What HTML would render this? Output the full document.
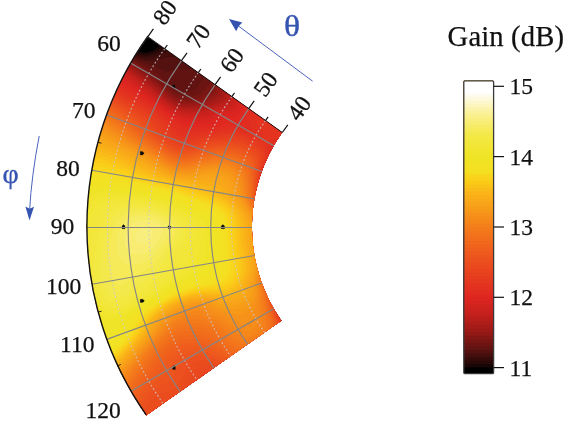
<!DOCTYPE html>
<html><head><meta charset="utf-8"><title>Gain plot</title>
<style>
html,body{margin:0;padding:0;background:#fff;}
svg{display:block;}
text{font-family:"Liberation Serif","DejaVu Serif",serif;fill:#111;}
.n{font-size:23.5px;stroke:#111;stroke-width:0.25px;}
.t{font-size:28.6px;stroke:#111;stroke-width:0.25px;letter-spacing:0.15px;}
.g{font-size:28px;fill:#3553b0;}
.gs{fill:none;stroke:#858585;stroke-width:1.15;}
.gd{fill:none;stroke:#c9c9d2;stroke-width:1.15;stroke-dasharray:1.8 2.2;opacity:.8}
.ax{fill:none;stroke:#111;stroke-width:1.2;}
.ed{fill:none;stroke:#111;stroke-width:0.9;}
.ar{fill:none;stroke:#111;stroke-width:1.4;}
.mk{fill:#0a0a0a;stroke:#0a0a0a;stroke-width:0.2;stroke-linejoin:round;}
.ax2{fill:none;stroke:#111;stroke-width:0.9;}
.bl{fill:none;stroke:#4a64bd;stroke-width:1;}
.heat path{fill-rule:evenodd;}
</style></head><body>
<svg width="566" height="421" viewBox="0 0 566 421">
<rect width="566" height="421" fill="#fff"/>
<defs><clipPath id="sec"><path d="M147.9 36.7A328.1 328.1 0 0 0 146.2 415.4L281.5 320.7A163 163 0 0 1 282.3 132.5Z"/></clipPath><clipPath id="cbc"><rect x="463.8" y="80.8" width="29.8" height="292.8" rx="1.2"/></clipPath></defs>
<g class="heat" clip-path="url(#sec)">
<path fill="#000000" d="M147.9 36.7A328.1 328.1 0 0 0 146.2 415.4L281.5 320.7A163 163 0 0 1 282.3 132.5Z"/>
<path fill="#190606" d="M282.3 132.5L278.1 129.5L273.9 126.6L269.7 123.6L265.5 120.6L261.3 117.6L257.1 114.6L252.9 111.6L248.7 108.6L244.5 105.6L240.3 102.6L236.1 99.6L231.9 96.6L227.7 93.6L223.5 90.6L219.3 87.6L215.1 84.6L210.9 81.6L206.7 78.6L202.5 75.6L198.3 72.6L194.1 69.6L189.9 66.6L185.7 63.6L181.5 60.6L177.3 57.6L173.1 54.6L168.9 51.7L164.7 48.7L160.5 45.7L160.4 45.6L153.1 50.5L150.3 51.4L145.9 52.5L143.4 52.5L138.6 50.4L136.8 53.3L133.8 58.2L130.9 63.2L128 68.1L125.3 73.2L122.7 78.2L120.1 83.4L117.6 88.5L115.3 93.7L113 99L110.8 104.3L108.7 109.6L106.7 115L104.8 120.4L103 125.8L101.2 131.3L99.6 136.8L98.1 142.3L96.6 147.8L95.3 153.4L94.1 159L92.9 164.6L91.9 170.2L90.9 175.9L90.1 181.5L89.3 187.2L88.7 192.9L88.1 198.6L87.7 204.3L87.3 210L87.1 215.7L86.9 221.5L86.9 227.2L86.9 232.9L87.1 238.7L87.3 244.4L87.7 250.1L88.1 255.8L88.7 261.5L89.3 267.2L90.1 272.9L90.9 278.5L91.9 284.2L92.9 289.8L94.1 295.4L95.3 301L96.6 306.6L98.1 312.1L99.6 317.6L101.2 323.1L103 328.6L104.8 334L106.7 339.4L108.7 344.8L110.8 350.1L113 355.4L115.3 360.7L117.6 365.9L120.1 371L122.7 376.2L125.3 381.2L128 386.3L130.9 391.2L133.8 396.2L136.8 401.1L139.8 405.9L143 410.7L146.2 415.4L150.5 412.4L154.7 409.5L158.9 406.5L163.1 403.6L167.4 400.6L171.6 397.6L175.8 394.7L180 391.7L184.3 388.8L188.5 385.8L192.7 382.8L197 379.9L201.2 376.9L205.4 374L209.6 371L213.9 368L218.1 365.1L222.3 362.1L226.5 359.2L230.8 356.2L235 353.2L239.2 350.3L243.4 347.3L247.7 344.4L251.9 341.4L256.1 338.4L260.3 335.5L264.6 332.5L268.8 329.6L273 326.6L277.3 323.7L281.5 320.7L279.9 318.3L278.3 316L276.8 313.6L275.3 311.2L273.8 308.7L272.4 306.2L271.1 303.7L269.8 301.2L268.5 298.7L267.3 296.1L266.1 293.5L265 290.9L263.9 288.3L262.8 285.6L261.8 282.9L260.9 280.3L260 277.6L259.1 274.9L258.3 272.1L257.6 269.4L256.8 266.6L256.2 263.9L255.6 261.1L255 258.3L254.5 255.5L254 252.7L253.6 249.9L253.2 247.1L252.9 244.2L252.6 241.4L252.4 238.6L252.2 235.7L252.1 232.9L252 230L252 227.2L252 224.4L252.1 221.5L252.2 218.7L252.4 215.8L252.6 213L252.9 210.2L253.2 207.3L253.6 204.5L254 201.7L254.5 198.9L255 196.1L255.6 193.3L256.2 190.5L256.8 187.8L257.6 185L258.3 182.3L259.1 179.5L260 176.8L260.9 174.1L261.8 171.5L262.8 168.8L263.9 166.1L265 163.5L266.1 160.9L267.3 158.3L268.5 155.7L269.8 153.2L271.1 150.7L272.4 148.2L273.8 145.7L275.3 143.2L276.8 140.8L278.3 138.4L279.9 136.1Z"/>
<path fill="#280908" d="M282.3 132.5L278.1 129.5L273.9 126.6L269.7 123.6L265.5 120.6L261.3 117.6L257.1 114.6L252.9 111.6L248.7 108.6L244.5 105.6L240.3 102.6L236.1 99.6L231.9 96.6L227.7 93.6L223.5 90.6L219.3 87.6L215.1 84.6L210.9 81.6L206.7 78.6L202.5 75.6L198.3 72.6L194.1 69.6L189.9 66.6L185.7 63.6L181.5 60.6L177.3 57.6L173.1 54.6L168.9 51.7L164.7 48.7L162.6 47.2L157.4 50.2L154.9 51.8L148.7 53.8L148.1 53.9L142.4 54.1L137.1 52.8L136.8 53.3L133.8 58.2L130.9 63.2L128 68.1L125.3 73.2L122.7 78.2L120.1 83.4L117.6 88.5L115.3 93.7L113 99L110.8 104.3L108.7 109.6L106.7 115L104.8 120.4L103 125.8L101.2 131.3L99.6 136.8L98.1 142.3L96.6 147.8L95.3 153.4L94.1 159L92.9 164.6L91.9 170.2L90.9 175.9L90.1 181.5L89.3 187.2L88.7 192.9L88.1 198.6L87.7 204.3L87.3 210L87.1 215.7L86.9 221.5L86.9 227.2L86.9 232.9L87.1 238.7L87.3 244.4L87.7 250.1L88.1 255.8L88.7 261.5L89.3 267.2L90.1 272.9L90.9 278.5L91.9 284.2L92.9 289.8L94.1 295.4L95.3 301L96.6 306.6L98.1 312.1L99.6 317.6L101.2 323.1L103 328.6L104.8 334L106.7 339.4L108.7 344.8L110.8 350.1L113 355.4L115.3 360.7L117.6 365.9L120.1 371L122.7 376.2L125.3 381.2L128 386.3L130.9 391.2L133.8 396.2L136.8 401.1L139.8 405.9L143 410.7L146.2 415.4L150.5 412.4L154.7 409.5L158.9 406.5L163.1 403.6L167.4 400.6L171.6 397.6L175.8 394.7L180 391.7L184.3 388.8L188.5 385.8L192.7 382.8L197 379.9L201.2 376.9L205.4 374L209.6 371L213.9 368L218.1 365.1L222.3 362.1L226.5 359.2L230.8 356.2L235 353.2L239.2 350.3L243.4 347.3L247.7 344.4L251.9 341.4L256.1 338.4L260.3 335.5L264.6 332.5L268.8 329.6L273 326.6L277.3 323.7L281.5 320.7L279.9 318.3L278.3 316L276.8 313.6L275.3 311.2L273.8 308.7L272.4 306.2L271.1 303.7L269.8 301.2L268.5 298.7L267.3 296.1L266.1 293.5L265 290.9L263.9 288.3L262.8 285.6L261.8 282.9L260.9 280.3L260 277.6L259.1 274.9L258.3 272.1L257.6 269.4L256.8 266.6L256.2 263.9L255.6 261.1L255 258.3L254.5 255.5L254 252.7L253.6 249.9L253.2 247.1L252.9 244.2L252.6 241.4L252.4 238.6L252.2 235.7L252.1 232.9L252 230L252 227.2L252 224.4L252.1 221.5L252.2 218.7L252.4 215.8L252.6 213L252.9 210.2L253.2 207.3L253.6 204.5L254 201.7L254.5 198.9L255 196.1L255.6 193.3L256.2 190.5L256.8 187.8L257.6 185L258.3 182.3L259.1 179.5L260 176.8L260.9 174.1L261.8 171.5L262.8 168.8L263.9 166.1L265 163.5L266.1 160.9L267.3 158.3L268.5 155.7L269.8 153.2L271.1 150.7L272.4 148.2L273.8 145.7L275.3 143.2L276.8 140.8L278.3 138.4L279.9 136.1Z"/>
<path fill="#360c0a" d="M282.3 132.5L278.1 129.5L273.9 126.6L269.7 123.6L265.5 120.6L261.3 117.6L257.1 114.6L252.9 111.6L248.7 108.6L244.5 105.6L240.3 102.6L236.1 99.6L231.9 96.6L227.7 93.6L223.5 90.6L219.3 87.6L215.1 84.6L210.9 81.6L206.7 78.6L202.5 75.6L198.3 72.6L194.1 69.6L189.9 66.6L185.7 63.6L181.5 60.6L177.3 57.6L173.1 54.6L168.9 51.7L164.8 48.7L164.6 48.8L157.2 53.3L154.7 54.1L150.6 55.5L147.3 55.9L141.4 55.6L139.8 55.2L136.1 54.3L133.8 58.2L130.9 63.2L128 68.1L125.3 73.2L122.7 78.2L120.1 83.4L117.6 88.5L115.3 93.7L113 99L110.8 104.3L108.7 109.6L106.7 115L104.8 120.4L103 125.8L101.2 131.3L99.6 136.8L98.1 142.3L96.6 147.8L95.3 153.4L94.1 159L92.9 164.6L91.9 170.2L90.9 175.9L90.1 181.5L89.3 187.2L88.7 192.9L88.1 198.6L87.7 204.3L87.3 210L87.1 215.7L86.9 221.5L86.9 227.2L86.9 232.9L87.1 238.7L87.3 244.4L87.7 250.1L88.1 255.8L88.7 261.5L89.3 267.2L90.1 272.9L90.9 278.5L91.9 284.2L92.9 289.8L94.1 295.4L95.3 301L96.6 306.6L98.1 312.1L99.6 317.6L101.2 323.1L103 328.6L104.8 334L106.7 339.4L108.7 344.8L110.8 350.1L113 355.4L115.3 360.7L117.6 365.9L120.1 371L122.7 376.2L125.3 381.2L128 386.3L130.9 391.2L133.8 396.2L136.8 401.1L139.8 405.9L143 410.7L146.2 415.4L150.5 412.4L154.7 409.5L158.9 406.5L163.1 403.6L167.4 400.6L171.6 397.6L175.8 394.7L180 391.7L184.3 388.8L188.5 385.8L192.7 382.8L197 379.9L201.2 376.9L205.4 374L209.6 371L213.9 368L218.1 365.1L222.3 362.1L226.5 359.2L230.8 356.2L235 353.2L239.2 350.3L243.4 347.3L247.7 344.4L251.9 341.4L256.1 338.4L260.3 335.5L264.6 332.5L268.8 329.6L273 326.6L277.3 323.7L281.5 320.7L279.9 318.3L278.3 316L276.8 313.6L275.3 311.2L273.8 308.7L272.4 306.2L271.1 303.7L269.8 301.2L268.5 298.7L267.3 296.1L266.1 293.5L265 290.9L263.9 288.3L262.8 285.6L261.8 282.9L260.9 280.3L260 277.6L259.1 274.9L258.3 272.1L257.6 269.4L256.8 266.6L256.2 263.9L255.6 261.1L255 258.3L254.5 255.5L254 252.7L253.6 249.9L253.2 247.1L252.9 244.2L252.6 241.4L252.4 238.6L252.2 235.7L252.1 232.9L252 230L252 227.2L252 224.4L252.1 221.5L252.2 218.7L252.4 215.8L252.6 213L252.9 210.2L253.2 207.3L253.6 204.5L254 201.7L254.5 198.9L255 196.1L255.6 193.3L256.2 190.5L256.8 187.8L257.6 185L258.3 182.3L259.1 179.5L260 176.8L260.9 174.1L261.8 171.5L262.8 168.8L263.9 166.1L265 163.5L266.1 160.9L267.3 158.3L268.5 155.7L269.8 153.2L271.1 150.7L272.4 148.2L273.8 145.7L275.3 143.2L276.8 140.8L278.3 138.4L279.9 136.1Z"/>
<path fill="#440e0d" d="M282.3 132.5L278.1 129.5L273.9 126.6L269.7 123.6L265.5 120.6L261.3 117.6L257.1 114.6L252.9 111.6L248.7 108.6L244.5 105.6L240.3 102.6L236.1 99.6L231.9 96.6L227.7 93.6L223.5 90.6L219.3 87.6L215.1 84.6L210.9 81.6L206.7 78.6L202.5 75.6L198.3 72.6L194.1 69.6L189.9 66.6L185.7 63.6L181.5 60.6L177.3 57.6L173.1 54.6L168.9 51.7L168.6 51.5L160.7 54.4L159.7 55L153.4 57.3L152.5 57.4L146 58L144 57.9L140.5 57.2L135.3 55.7L133.8 58.2L130.9 63.2L128 68.1L125.3 73.2L122.7 78.2L120.1 83.4L117.6 88.5L115.3 93.7L113 99L110.8 104.3L108.7 109.6L106.7 115L104.8 120.4L103 125.8L101.2 131.3L99.6 136.8L98.1 142.3L96.6 147.8L95.3 153.4L94.1 159L92.9 164.6L91.9 170.2L90.9 175.9L90.1 181.5L89.3 187.2L88.7 192.9L88.1 198.6L87.7 204.3L87.3 210L87.1 215.7L86.9 221.5L86.9 227.2L86.9 232.9L87.1 238.7L87.3 244.4L87.7 250.1L88.1 255.8L88.7 261.5L89.3 267.2L90.1 272.9L90.9 278.5L91.9 284.2L92.9 289.8L94.1 295.4L95.3 301L96.6 306.6L98.1 312.1L99.6 317.6L101.2 323.1L103 328.6L104.8 334L106.7 339.4L108.7 344.8L110.8 350.1L113 355.4L115.3 360.7L117.6 365.9L120.1 371L122.7 376.2L125.3 381.2L128 386.3L130.9 391.2L133.8 396.2L136.8 401.1L139.8 405.9L143 410.7L146.2 415.4L150.5 412.4L154.7 409.5L158.9 406.5L163.1 403.6L167.4 400.6L171.6 397.6L175.8 394.7L180 391.7L184.3 388.8L188.5 385.8L192.7 382.8L197 379.9L201.2 376.9L205.4 374L209.6 371L213.9 368L218.1 365.1L222.3 362.1L226.5 359.2L230.8 356.2L235 353.2L239.2 350.3L243.4 347.3L247.7 344.4L251.9 341.4L256.1 338.4L260.3 335.5L264.6 332.5L268.8 329.6L273 326.6L277.3 323.7L281.5 320.7L279.9 318.3L278.3 316L276.8 313.6L275.3 311.2L273.8 308.7L272.4 306.2L271.1 303.7L269.8 301.2L268.5 298.7L267.3 296.1L266.1 293.5L265 290.9L263.9 288.3L262.8 285.6L261.8 282.9L260.9 280.3L260 277.6L259.1 274.9L258.3 272.1L257.6 269.4L256.8 266.6L256.2 263.9L255.6 261.1L255 258.3L254.5 255.5L254 252.7L253.6 249.9L253.2 247.1L252.9 244.2L252.6 241.4L252.4 238.6L252.2 235.7L252.1 232.9L252 230L252 227.2L252 224.4L252.1 221.5L252.2 218.7L252.4 215.8L252.6 213L252.9 210.2L253.2 207.3L253.6 204.5L254 201.7L254.5 198.9L255 196.1L255.6 193.3L256.2 190.5L256.8 187.8L257.6 185L258.3 182.3L259.1 179.5L260 176.8L260.9 174.1L261.8 171.5L262.8 168.8L263.9 166.1L265 163.5L266.1 160.9L267.3 158.3L268.5 155.7L269.8 153.2L271.1 150.7L272.4 148.2L273.8 145.7L275.3 143.2L276.8 140.8L278.3 138.4L279.9 136.1Z"/>
<path fill="#53110f" d="M282.3 132.5L278.1 129.5L273.9 126.6L269.7 123.6L265.5 120.6L261.3 117.6L257.1 114.6L252.9 111.6L248.7 108.6L244.5 105.6L240.3 102.6L236.1 99.6L231.9 96.6L227.7 93.6L223.5 90.6L219.3 87.6L215.1 84.6L210.9 81.6L206.7 78.6L202.5 75.6L198.3 72.6L194.1 69.6L189.9 66.6L185.7 63.6L181.5 60.6L177.3 57.6L176.2 56.9L171.5 56.9L164.7 57.7L164.1 57.9L157.6 60.1L156.9 60.2L150.2 61L149.1 61L144.6 60.2L139.4 58.8L134.5 57L133.8 58.2L130.9 63.2L128 68.1L125.3 73.2L122.7 78.2L120.1 83.4L117.6 88.5L115.3 93.7L113 99L110.8 104.3L108.7 109.6L106.7 115L104.8 120.4L103 125.8L101.2 131.3L99.6 136.8L98.1 142.3L96.6 147.8L95.3 153.4L94.1 159L92.9 164.6L91.9 170.2L90.9 175.9L90.1 181.5L89.3 187.2L88.7 192.9L88.1 198.6L87.7 204.3L87.3 210L87.1 215.7L86.9 221.5L86.9 227.2L86.9 232.9L87.1 238.7L87.3 244.4L87.7 250.1L88.1 255.8L88.7 261.5L89.3 267.2L90.1 272.9L90.9 278.5L91.9 284.2L92.9 289.8L94.1 295.4L95.3 301L96.6 306.6L98.1 312.1L99.6 317.6L101.2 323.1L103 328.6L104.8 334L106.7 339.4L108.7 344.8L110.8 350.1L113 355.4L115.3 360.7L117.6 365.9L120.1 371L122.7 376.2L125.3 381.2L128 386.3L130.9 391.2L133.8 396.2L136.8 401.1L139.8 405.9L143 410.7L146.2 415.4L150.5 412.4L154.7 409.5L158.9 406.5L163.1 403.6L167.4 400.6L171.6 397.6L175.8 394.7L180 391.7L184.3 388.8L188.5 385.8L192.7 382.8L197 379.9L201.2 376.9L205.4 374L209.6 371L213.9 368L218.1 365.1L222.3 362.1L226.5 359.2L230.8 356.2L235 353.2L239.2 350.3L243.4 347.3L247.7 344.4L251.9 341.4L256.1 338.4L260.3 335.5L264.6 332.5L268.8 329.6L273 326.6L277.3 323.7L281.5 320.7L279.9 318.3L278.3 316L276.8 313.6L275.3 311.2L273.8 308.7L272.4 306.2L271.1 303.7L269.8 301.2L268.5 298.7L267.3 296.1L266.1 293.5L265 290.9L263.9 288.3L262.8 285.6L261.8 282.9L260.9 280.3L260 277.6L259.1 274.9L258.3 272.1L257.6 269.4L256.8 266.6L256.2 263.9L255.6 261.1L255 258.3L254.5 255.5L254 252.7L253.6 249.9L253.2 247.1L252.9 244.2L252.6 241.4L252.4 238.6L252.2 235.7L252.1 232.9L252 230L252 227.2L252 224.4L252.1 221.5L252.2 218.7L252.4 215.8L252.6 213L252.9 210.2L253.2 207.3L253.6 204.5L254 201.7L254.5 198.9L255 196.1L255.6 193.3L256.2 190.5L256.8 187.8L257.6 185L258.3 182.3L259.1 179.5L260 176.8L260.9 174.1L261.8 171.5L262.8 168.8L263.9 166.1L265 163.5L266.1 160.9L267.3 158.3L268.5 155.7L269.8 153.2L271.1 150.7L272.4 148.2L273.8 145.7L275.3 143.2L276.8 140.8L278.3 138.4L279.9 136.1Z"/>
<path fill="#601311" d="M282.3 132.5L278.1 129.5L273.9 126.6L269.7 123.6L265.5 120.6L261.3 117.6L257.1 114.6L252.9 111.6L248.7 108.6L244.5 105.6L240.3 102.6L236.1 99.6L231.9 96.6L227.7 93.6L223.5 90.6L219.3 87.6L215.1 84.6L210.9 81.6L206.7 78.6L202.5 75.6L198.3 72.6L194.1 69.6L191.9 68L188 69.4L182 69L179.3 68.2L175.4 69.5L172.9 70L167.9 71.6L165.8 71.5L162.9 69.9L158.2 67.7L153.3 65.9L148.3 64.2L143.3 62.4L138.4 60.5L134.9 58.9L133.7 58.3L130.9 63.2L128 68.1L125.3 73.2L122.7 78.2L120.1 83.4L117.6 88.5L115.3 93.7L113 99L110.8 104.3L108.7 109.6L106.7 115L104.8 120.4L103 125.8L101.2 131.3L99.6 136.8L98.1 142.3L96.6 147.8L95.3 153.4L94.1 159L92.9 164.6L91.9 170.2L90.9 175.9L90.1 181.5L89.3 187.2L88.7 192.9L88.1 198.6L87.7 204.3L87.3 210L87.1 215.7L86.9 221.5L86.9 227.2L86.9 232.9L87.1 238.7L87.3 244.4L87.7 250.1L88.1 255.8L88.7 261.5L89.3 267.2L90.1 272.9L90.9 278.5L91.9 284.2L92.9 289.8L94.1 295.4L95.3 301L96.6 306.6L98.1 312.1L99.6 317.6L101.2 323.1L103 328.6L104.8 334L106.7 339.4L108.7 344.8L110.8 350.1L113 355.4L115.3 360.7L117.6 365.9L120.1 371L122.7 376.2L125.3 381.2L128 386.3L130.9 391.2L133.8 396.2L136.8 401.1L139.8 405.9L143 410.7L146.2 415.4L150.5 412.4L154.7 409.5L158.9 406.5L163.1 403.6L167.4 400.6L171.6 397.6L175.8 394.7L180 391.7L184.3 388.8L188.5 385.8L192.7 382.8L197 379.9L201.2 376.9L205.4 374L209.6 371L213.9 368L218.1 365.1L222.3 362.1L226.5 359.2L230.8 356.2L235 353.2L239.2 350.3L243.4 347.3L247.7 344.4L251.9 341.4L256.1 338.4L260.3 335.5L264.6 332.5L268.8 329.6L273 326.6L277.3 323.7L281.5 320.7L279.9 318.3L278.3 316L276.8 313.6L275.3 311.2L273.8 308.7L272.4 306.2L271.1 303.7L269.8 301.2L268.5 298.7L267.3 296.1L266.1 293.5L265 290.9L263.9 288.3L262.8 285.6L261.8 282.9L260.9 280.3L260 277.6L259.1 274.9L258.3 272.1L257.6 269.4L256.8 266.6L256.2 263.9L255.6 261.1L255 258.3L254.5 255.5L254 252.7L253.6 249.9L253.2 247.1L252.9 244.2L252.6 241.4L252.4 238.6L252.2 235.7L252.1 232.9L252 230L252 227.2L252 224.4L252.1 221.5L252.2 218.7L252.4 215.8L252.6 213L252.9 210.2L253.2 207.3L253.6 204.5L254 201.7L254.5 198.9L255 196.1L255.6 193.3L256.2 190.5L256.8 187.8L257.6 185L258.3 182.3L259.1 179.5L260 176.8L260.9 174.1L261.8 171.5L262.8 168.8L263.9 166.1L265 163.5L266.1 160.9L267.3 158.3L268.5 155.7L269.8 153.2L271.1 150.7L272.4 148.2L273.8 145.7L275.3 143.2L276.8 140.8L278.3 138.4L279.9 136.1Z"/>
<path fill="#6c1412" d="M282.3 132.5L278.1 129.5L273.9 126.6L269.7 123.6L265.5 120.6L261.3 117.6L257.1 114.6L252.9 111.6L248.7 108.6L244.5 105.6L240.3 102.6L236.1 99.6L231.9 96.6L227.7 93.6L223.5 90.6L219.3 87.6L215.1 84.6L210.9 81.6L206.7 78.6L204.8 77.3L200.5 82.5L198.1 86.3L194.8 89.6L192.5 90.7L189.5 91.7L185.8 91.8L180.4 90.9L175.7 88.7L171.5 85.6L167.6 82.2L163.5 78.8L159.5 75.6L155.3 72.5L151 69.6L146.6 66.9L142.1 64.4L137.5 62L132.9 59.7L130.9 63.2L128 68.1L125.3 73.2L122.7 78.2L120.1 83.4L117.6 88.5L115.3 93.7L113 99L110.8 104.3L108.7 109.6L106.7 115L104.8 120.4L103 125.8L101.2 131.3L99.6 136.8L98.1 142.3L96.6 147.8L95.3 153.4L94.1 159L92.9 164.6L91.9 170.2L90.9 175.9L90.1 181.5L89.3 187.2L88.7 192.9L88.1 198.6L87.7 204.3L87.3 210L87.1 215.7L86.9 221.5L86.9 227.2L86.9 232.9L87.1 238.7L87.3 244.4L87.7 250.1L88.1 255.8L88.7 261.5L89.3 267.2L90.1 272.9L90.9 278.5L91.9 284.2L92.9 289.8L94.1 295.4L95.3 301L96.6 306.6L98.1 312.1L99.6 317.6L101.2 323.1L103 328.6L104.8 334L106.7 339.4L108.7 344.8L110.8 350.1L113 355.4L115.3 360.7L117.6 365.9L120.1 371L122.7 376.2L125.3 381.2L128 386.3L130.9 391.2L133.8 396.2L136.8 401.1L139.8 405.9L143 410.7L146.2 415.4L150.5 412.4L154.7 409.5L158.9 406.5L163.1 403.6L167.4 400.6L171.6 397.6L175.8 394.7L180 391.7L184.3 388.8L188.5 385.8L192.7 382.8L197 379.9L201.2 376.9L205.4 374L209.6 371L213.9 368L218.1 365.1L222.3 362.1L226.5 359.2L230.8 356.2L235 353.2L239.2 350.3L243.4 347.3L247.7 344.4L251.9 341.4L256.1 338.4L260.3 335.5L264.6 332.5L268.8 329.6L273 326.6L277.3 323.7L281.5 320.7L279.9 318.3L278.3 316L276.8 313.6L275.3 311.2L273.8 308.7L272.4 306.2L271.1 303.7L269.8 301.2L268.5 298.7L267.3 296.1L266.1 293.5L265 290.9L263.9 288.3L262.8 285.6L261.8 282.9L260.9 280.3L260 277.6L259.1 274.9L258.3 272.1L257.6 269.4L256.8 266.6L256.2 263.9L255.6 261.1L255 258.3L254.5 255.5L254 252.7L253.6 249.9L253.2 247.1L252.9 244.2L252.6 241.4L252.4 238.6L252.2 235.7L252.1 232.9L252 230L252 227.2L252 224.4L252.1 221.5L252.2 218.7L252.4 215.8L252.6 213L252.9 210.2L253.2 207.3L253.6 204.5L254 201.7L254.5 198.9L255 196.1L255.6 193.3L256.2 190.5L256.8 187.8L257.6 185L258.3 182.3L259.1 179.5L260 176.8L260.9 174.1L261.8 171.5L262.8 168.8L263.9 166.1L265 163.5L266.1 160.9L267.3 158.3L268.5 155.7L269.8 153.2L271.1 150.7L272.4 148.2L273.8 145.7L275.3 143.2L276.8 140.8L278.3 138.4L279.9 136.1Z"/>
<path fill="#781613" d="M282.3 132.5L278.1 129.5L273.9 126.6L269.7 123.6L265.5 120.6L261.3 117.6L257.1 114.6L252.9 111.6L248.7 108.6L244.5 105.6L240.3 102.6L236.1 99.6L231.9 96.6L227.7 93.6L223.5 90.6L219.3 87.6L215.1 84.6L211.1 81.8L207.2 87L207.1 87L204.2 90.3L200.6 93.2L195.9 95.5L195.6 95.6L189 96.6L188.9 96.6L183.4 96L178.4 94.3L174 91.6L169.9 88.3L165.9 85L161.8 81.8L157.6 78.7L157.3 78.4L153.7 75.3L149.6 72L145.4 69L141 66.2L136.6 63.6L132.1 61L130.9 63.2L128 68.1L125.3 73.2L122.7 78.2L120.1 83.4L117.6 88.5L115.3 93.7L113 99L110.8 104.3L108.7 109.6L106.7 115L104.8 120.4L103 125.8L101.2 131.3L99.6 136.8L98.1 142.3L96.6 147.8L95.3 153.4L94.1 159L92.9 164.6L91.9 170.2L90.9 175.9L90.1 181.5L89.3 187.2L88.7 192.9L88.1 198.6L87.7 204.3L87.3 210L87.1 215.7L86.9 221.5L86.9 227.2L86.9 232.9L87.1 238.7L87.3 244.4L87.7 250.1L88.1 255.8L88.7 261.5L89.3 267.2L90.1 272.9L90.9 278.5L91.9 284.2L92.9 289.8L94.1 295.4L95.3 301L96.6 306.6L98.1 312.1L99.6 317.6L101.2 323.1L103 328.6L104.8 334L106.7 339.4L108.7 344.8L110.8 350.1L113 355.4L115.3 360.7L117.6 365.9L120.1 371L122.7 376.2L125.3 381.2L128 386.3L130.9 391.2L133.8 396.2L136.8 401.1L139.8 405.9L143 410.7L146.2 415.4L150.5 412.4L154.7 409.5L158.9 406.5L163.1 403.6L167.4 400.6L171.6 397.6L175.8 394.7L180 391.7L184.3 388.8L188.5 385.8L192.7 382.8L197 379.9L201.2 376.9L205.4 374L209.6 371L213.9 368L218.1 365.1L222.3 362.1L226.5 359.2L230.8 356.2L235 353.2L239.2 350.3L243.4 347.3L247.7 344.4L251.9 341.4L256.1 338.4L260.3 335.5L264.6 332.5L268.8 329.6L273 326.6L277.3 323.7L281.5 320.7L279.9 318.3L278.3 316L276.8 313.6L275.3 311.2L273.8 308.7L272.4 306.2L271.1 303.7L269.8 301.2L268.5 298.7L267.3 296.1L266.1 293.5L265 290.9L263.9 288.3L262.8 285.6L261.8 282.9L260.9 280.3L260 277.6L259.1 274.9L258.3 272.1L257.6 269.4L256.8 266.6L256.2 263.9L255.6 261.1L255 258.3L254.5 255.5L254 252.7L253.6 249.9L253.2 247.1L252.9 244.2L252.6 241.4L252.4 238.6L252.2 235.7L252.1 232.9L252 230L252 227.2L252 224.4L252.1 221.5L252.2 218.7L252.4 215.8L252.6 213L252.9 210.2L253.2 207.3L253.6 204.5L254 201.7L254.5 198.9L255 196.1L255.6 193.3L256.2 190.5L256.8 187.8L257.6 185L258.3 182.3L259.1 179.5L260 176.8L260.9 174.1L261.8 171.5L262.8 168.8L263.9 166.1L265 163.5L266.1 160.9L267.3 158.3L268.5 155.7L269.8 153.2L271.1 150.7L272.4 148.2L273.8 145.7L275.3 143.2L276.8 140.8L278.3 138.4L279.9 136.1Z"/>
<path fill="#841714" d="M282.3 132.5L278.1 129.5L273.9 126.6L269.7 123.6L265.5 120.6L261.3 117.6L257.1 114.6L252.9 111.6L248.7 108.6L244.5 105.6L240.3 102.6L236.1 99.6L231.9 96.6L227.7 93.6L223.5 90.6L219.3 87.6L215.1 84.6L211.5 89.9L211.2 90.2L208.3 93L204.4 95.6L200.3 97.7L199.9 97.9L193.5 99.3L193.4 99.3L187.4 99.4L184.1 99.2L181.8 98.8L177 96.8L172.7 94L168.6 90.7L168.3 90.5L164.7 87.1L160.7 83.7L156.7 80.4L152.5 77.2L148.4 74.1L144.2 71.1L142.4 69.8L140 68L135.7 65.2L131.3 62.4L130.9 63.2L128 68.1L125.3 73.2L122.7 78.2L120.1 83.4L117.6 88.5L115.3 93.7L113 99L110.8 104.3L108.7 109.6L106.7 115L104.8 120.4L103 125.8L101.2 131.3L99.6 136.8L98.1 142.3L96.6 147.8L95.3 153.4L94.1 159L92.9 164.6L91.9 170.2L90.9 175.9L90.1 181.5L89.3 187.2L88.7 192.9L88.1 198.6L87.7 204.3L87.3 210L87.1 215.7L86.9 221.5L86.9 227.2L86.9 232.9L87.1 238.7L87.3 244.4L87.7 250.1L88.1 255.8L88.7 261.5L89.3 267.2L90.1 272.9L90.9 278.5L91.9 284.2L92.9 289.8L94.1 295.4L95.3 301L96.6 306.6L98.1 312.1L99.6 317.6L101.2 323.1L103 328.6L104.8 334L106.7 339.4L108.7 344.8L110.8 350.1L113 355.4L115.3 360.7L117.6 365.9L120.1 371L122.7 376.2L125.3 381.2L128 386.3L130.9 391.2L133.8 396.2L136.8 401.1L139.8 405.9L143 410.7L146.2 415.4L150.5 412.4L154.7 409.5L158.9 406.5L163.1 403.6L167.4 400.6L171.6 397.6L175.8 394.7L180 391.7L184.3 388.8L188.5 385.8L192.7 382.8L197 379.9L201.2 376.9L205.4 374L209.6 371L213.9 368L218.1 365.1L222.3 362.1L226.5 359.2L230.8 356.2L235 353.2L239.2 350.3L243.4 347.3L247.7 344.4L251.9 341.4L256.1 338.4L260.3 335.5L264.6 332.5L268.8 329.6L273 326.6L277.3 323.7L281.5 320.7L279.9 318.3L278.3 316L276.8 313.6L275.3 311.2L273.8 308.7L272.4 306.2L271.1 303.7L269.8 301.2L268.5 298.7L267.3 296.1L266.1 293.5L265 290.9L263.9 288.3L262.8 285.6L261.8 282.9L260.9 280.3L260 277.6L259.1 274.9L258.3 272.1L257.6 269.4L256.8 266.6L256.2 263.9L255.6 261.1L255 258.3L254.5 255.5L254 252.7L253.6 249.9L253.2 247.1L252.9 244.2L252.6 241.4L252.4 238.6L252.2 235.7L252.1 232.9L252 230L252 227.2L252 224.4L252.1 221.5L252.2 218.7L252.4 215.8L252.6 213L252.9 210.2L253.2 207.3L253.6 204.5L254 201.7L254.5 198.9L255 196.1L255.6 193.3L256.2 190.5L256.8 187.8L257.6 185L258.3 182.3L259.1 179.5L260 176.8L260.9 174.1L261.8 171.5L262.8 168.8L263.9 166.1L265 163.5L266.1 160.9L267.3 158.3L268.5 155.7L269.8 153.2L271.1 150.7L272.4 148.2L273.8 145.7L275.3 143.2L276.8 140.8L278.3 138.4L279.9 136.1Z"/>
<path fill="#901815" d="M282.3 132.5L278.1 129.5L273.9 126.6L269.7 123.6L265.5 120.6L261.3 117.6L257.1 114.6L252.9 111.6L248.7 108.6L244.5 105.6L240.3 102.6L236.1 99.6L231.9 96.6L227.7 93.6L223.5 90.6L219.3 87.6L218 86.7L214.8 92.2L211.5 95.1L207.5 97.6L206 98.3L202.8 99.7L198.4 101L196.9 101.3L192 101.7L188.8 101.8L186.1 101.7L180.7 100.8L176 98.8L171.7 95.8L167.7 92.4L163.7 88.9L160 85.9L159.7 85.5L155.7 82.1L151.6 78.8L147.5 75.6L143.3 72.5L139.1 69.5L134.9 66.6L130.5 63.7L128 68.1L125.3 73.2L122.7 78.2L120.1 83.4L117.6 88.5L115.3 93.7L113 99L110.8 104.3L108.7 109.6L106.7 115L104.8 120.4L103 125.8L101.2 131.3L99.6 136.8L98.1 142.3L96.6 147.8L95.3 153.4L94.1 159L92.9 164.6L91.9 170.2L90.9 175.9L90.1 181.5L89.3 187.2L88.7 192.9L88.1 198.6L87.7 204.3L87.3 210L87.1 215.7L86.9 221.5L86.9 227.2L86.9 232.9L87.1 238.7L87.3 244.4L87.7 250.1L88.1 255.8L88.7 261.5L89.3 267.2L90.1 272.9L90.9 278.5L91.9 284.2L92.9 289.8L94.1 295.4L95.3 301L96.6 306.6L98.1 312.1L99.6 317.6L101.2 323.1L103 328.6L104.8 334L106.7 339.4L108.7 344.8L110.8 350.1L113 355.4L115.3 360.7L117.6 365.9L120.1 371L122.7 376.2L125.3 381.2L128 386.3L130.9 391.2L133.8 396.2L136.8 401.1L139.8 405.9L143 410.7L146.2 415.4L150.5 412.4L154.7 409.5L158.9 406.5L163.1 403.6L167.4 400.6L171.6 397.6L175.8 394.7L180 391.7L184.3 388.8L188.5 385.8L192.7 382.8L197 379.9L201.2 376.9L205.4 374L209.6 371L213.9 368L218.1 365.1L222.3 362.1L226.5 359.2L230.8 356.2L235 353.2L239.2 350.3L243.4 347.3L247.7 344.4L251.9 341.4L256.1 338.4L260.3 335.5L264.6 332.5L268.8 329.6L273 326.6L277.3 323.7L281.5 320.7L279.9 318.3L278.3 316L276.8 313.6L275.3 311.2L273.8 308.7L272.4 306.2L271.1 303.7L269.8 301.2L268.5 298.7L267.3 296.1L266.1 293.5L265 290.9L263.9 288.3L262.8 285.6L261.8 282.9L260.9 280.3L260 277.6L259.1 274.9L258.3 272.1L257.6 269.4L256.8 266.6L256.2 263.9L255.6 261.1L255 258.3L254.5 255.5L254 252.7L253.6 249.9L253.2 247.1L252.9 244.2L252.6 241.4L252.4 238.6L252.2 235.7L252.1 232.9L252 230L252 227.2L252 224.4L252.1 221.5L252.2 218.7L252.4 215.8L252.6 213L252.9 210.2L253.2 207.3L253.6 204.5L254 201.7L254.5 198.9L255 196.1L255.6 193.3L256.2 190.5L256.8 187.8L257.6 185L258.3 182.3L259.1 179.5L260 176.8L260.9 174.1L261.8 171.5L262.8 168.8L263.9 166.1L265 163.5L266.1 160.9L267.3 158.3L268.5 155.7L269.8 153.2L271.1 150.7L272.4 148.2L273.8 145.7L275.3 143.2L276.8 140.8L278.3 138.4L279.9 136.1Z"/>
<path fill="#9b1a17" d="M282.3 132.5L278.1 129.5L273.9 126.6L269.7 123.6L265.5 120.6L261.3 117.6L257.1 114.6L252.9 111.6L248.7 108.6L244.5 105.6L240.3 102.6L236.1 99.6L231.9 96.6L227.7 93.6L223.5 90.6L220.6 88.6L217.8 94.2L214.4 96.9L212.3 97.9L210 99.1L205.4 101.2L203.9 101.8L199.7 102.9L197.1 103.3L192.3 103.8L190.9 103.8L185.1 103.7L181.7 103.2L179.7 102.7L175.1 100.5L170.8 97.6L170 96.9L166.8 94L162.9 90.4L158.9 87L154.8 83.7L151.6 81.2L150.7 80.4L146.6 77.2L142.5 74L138.3 70.9L134.1 67.9L129.8 65L128 68.1L125.3 73.2L122.7 78.2L120.1 83.4L117.6 88.5L115.3 93.7L113 99L110.8 104.3L108.7 109.6L106.7 115L104.8 120.4L103 125.8L101.2 131.3L99.6 136.8L98.1 142.3L96.6 147.8L95.3 153.4L94.1 159L92.9 164.6L91.9 170.2L90.9 175.9L90.1 181.5L89.3 187.2L88.7 192.9L88.1 198.6L87.7 204.3L87.3 210L87.1 215.7L86.9 221.5L86.9 227.2L86.9 232.9L87.1 238.7L87.3 244.4L87.7 250.1L88.1 255.8L88.7 261.5L89.3 267.2L90.1 272.9L90.9 278.5L91.9 284.2L92.9 289.8L94.1 295.4L95.3 301L96.6 306.6L98.1 312.1L99.6 317.6L101.2 323.1L103 328.6L104.8 334L106.7 339.4L108.7 344.8L110.8 350.1L113 355.4L115.3 360.7L117.6 365.9L120.1 371L122.7 376.2L125.3 381.2L128 386.3L130.9 391.2L133.8 396.2L136.8 401.1L139.8 405.9L143 410.7L146.2 415.4L150.5 412.4L154.7 409.5L158.9 406.5L163.1 403.6L167.4 400.6L171.6 397.6L175.8 394.7L180 391.7L184.3 388.8L188.5 385.8L192.7 382.8L197 379.9L201.2 376.9L205.4 374L209.6 371L213.9 368L218.1 365.1L222.3 362.1L226.5 359.2L230.8 356.2L235 353.2L239.2 350.3L243.4 347.3L247.7 344.4L251.9 341.4L256.1 338.4L260.3 335.5L264.6 332.5L268.8 329.6L273 326.6L277.3 323.7L281.5 320.7L279.9 318.3L278.3 316L276.8 313.6L275.3 311.2L273.8 308.7L272.4 306.2L271.1 303.7L269.8 301.2L268.5 298.7L267.3 296.1L266.1 293.5L265 290.9L263.9 288.3L262.8 285.6L261.8 282.9L260.9 280.3L260 277.6L259.1 274.9L258.3 272.1L257.6 269.4L256.8 266.6L256.2 263.9L255.6 261.1L255 258.3L254.5 255.5L254 252.7L253.6 249.9L253.2 247.1L252.9 244.2L252.6 241.4L252.4 238.6L252.2 235.7L252.1 232.9L252 230L252 227.2L252 224.4L252.1 221.5L252.2 218.7L252.4 215.8L252.6 213L252.9 210.2L253.2 207.3L253.6 204.5L254 201.7L254.5 198.9L255 196.1L255.6 193.3L256.2 190.5L256.8 187.8L257.6 185L258.3 182.3L259.1 179.5L260 176.8L260.9 174.1L261.8 171.5L262.8 168.8L263.9 166.1L265 163.5L266.1 160.9L267.3 158.3L268.5 155.7L269.8 153.2L271.1 150.7L272.4 148.2L273.8 145.7L275.3 143.2L276.8 140.8L278.3 138.4L279.9 136.1Z"/>
<path fill="#a41b18" d="M282.3 132.5L278.1 129.5L273.9 126.6L269.7 123.6L265.5 120.6L261.3 117.6L257.1 114.6L252.9 111.6L248.7 108.6L244.5 105.6L240.3 102.6L236.1 99.6L231.9 96.6L227.7 93.6L223.5 90.6L223 90.3L221.8 93L220.5 96L219 97.1L217 98.6L212.4 100.6L210.1 101.5L207.6 102.6L202.3 104.4L195.9 105.4L195.3 105.4L189.9 105.6L186.2 105.6L184.1 105.4L179 104.1L174.3 101.9L170.1 98.9L166 95.6L163.9 93.7L162.1 92L158.1 88.4L154.1 85.1L150 81.8L145.8 78.6L142.8 76.3L141.7 75.4L137.5 72.3L133.3 69.2L129.1 66.2L128 68.1L125.3 73.2L122.7 78.2L120.1 83.4L117.6 88.5L115.3 93.7L113 99L110.8 104.3L108.7 109.6L106.7 115L104.8 120.4L103 125.8L101.2 131.3L99.6 136.8L98.1 142.3L96.6 147.8L95.3 153.4L94.1 159L92.9 164.6L91.9 170.2L90.9 175.9L90.1 181.5L89.3 187.2L88.7 192.9L88.1 198.6L87.7 204.3L87.3 210L87.1 215.7L86.9 221.5L86.9 227.2L86.9 232.9L87.1 238.7L87.3 244.4L87.7 250.1L88.1 255.8L88.7 261.5L89.3 267.2L90.1 272.9L90.9 278.5L91.9 284.2L92.9 289.8L94.1 295.4L95.3 301L96.6 306.6L98.1 312.1L99.6 317.6L101.2 323.1L103 328.6L104.8 334L106.7 339.4L108.7 344.8L110.8 350.1L113 355.4L115.3 360.7L117.6 365.9L120.1 371L122.7 376.2L125.3 381.2L128 386.3L130.9 391.2L133.8 396.2L136.8 401.1L139.8 405.9L143 410.7L146.2 415.4L150.5 412.4L154.7 409.5L158.9 406.5L163.1 403.6L167.4 400.6L171.6 397.6L175.8 394.7L180 391.7L184.3 388.8L188.5 385.8L192.7 382.8L197 379.9L201.2 376.9L205.4 374L209.6 371L213.9 368L218.1 365.1L222.3 362.1L226.5 359.2L230.8 356.2L235 353.2L239.2 350.3L243.4 347.3L247.7 344.4L251.9 341.4L256.1 338.4L260.3 335.5L264.6 332.5L268.8 329.6L273 326.6L277.3 323.7L281.5 320.7L279.9 318.3L278.3 316L276.8 313.6L275.3 311.2L273.8 308.7L272.4 306.2L271.1 303.7L269.8 301.2L268.5 298.7L267.3 296.1L266.1 293.5L265 290.9L263.9 288.3L262.8 285.6L261.8 282.9L260.9 280.3L260 277.6L259.1 274.9L258.3 272.1L257.6 269.4L256.8 266.6L256.2 263.9L255.6 261.1L255 258.3L254.5 255.5L254 252.7L253.6 249.9L253.2 247.1L252.9 244.2L252.6 241.4L252.4 238.6L252.2 235.7L252.1 232.9L252 230L252 227.2L252 224.4L252.1 221.5L252.2 218.7L252.4 215.8L252.6 213L252.9 210.2L253.2 207.3L253.6 204.5L254 201.7L254.5 198.9L255 196.1L255.6 193.3L256.2 190.5L256.8 187.8L257.6 185L258.3 182.3L259.1 179.5L260 176.8L260.9 174.1L261.8 171.5L262.8 168.8L263.9 166.1L265 163.5L266.1 160.9L267.3 158.3L268.5 155.7L269.8 153.2L271.1 150.7L272.4 148.2L273.8 145.7L275.3 143.2L276.8 140.8L278.3 138.4L279.9 136.1Z"/>
<path fill="#ac1c19" d="M282.3 132.5L278.1 129.5L273.9 126.6L269.7 123.6L265.5 120.6L261.3 117.6L257.1 114.6L252.9 111.6L248.7 108.6L244.5 105.6L240.3 102.6L236.1 99.6L231.9 96.6L227.7 93.6L225.3 91.9L223 97.7L219.4 100.2L216.3 101.3L214.6 102L209.7 103.8L208.4 104.3L204.5 105.7L201.2 106.4L197.9 106.9L194.9 107.1L189.6 107.4L188.9 107.4L183.4 106.9L178.2 105.6L173.6 103.3L169.3 100.3L165.3 96.9L161.3 93.4L158.1 90.6L157.3 89.9L153.3 86.5L149.2 83.2L145.1 80L140.9 76.8L136.8 73.7L133.2 71L132.6 70.6L128.4 67.5L128 68.1L125.3 73.2L122.7 78.2L120.1 83.4L117.6 88.5L115.3 93.7L113 99L110.8 104.3L108.7 109.6L106.7 115L104.8 120.4L103 125.8L101.2 131.3L99.6 136.8L98.1 142.3L96.6 147.8L95.3 153.4L94.1 159L92.9 164.6L91.9 170.2L90.9 175.9L90.1 181.5L89.3 187.2L88.7 192.9L88.1 198.6L87.7 204.3L87.3 210L87.1 215.7L86.9 221.5L86.9 227.2L86.9 232.9L87.1 238.7L87.3 244.4L87.7 250.1L88.1 255.8L88.7 261.5L89.3 267.2L90.1 272.9L90.9 278.5L91.9 284.2L92.9 289.8L94.1 295.4L95.3 301L96.6 306.6L98.1 312.1L99.6 317.6L101.2 323.1L103 328.6L104.8 334L106.7 339.4L108.7 344.8L110.8 350.1L113 355.4L115.3 360.7L117.6 365.9L120.1 371L122.7 376.2L125.3 381.2L128 386.3L130.9 391.2L133.8 396.2L136.8 401.1L139.8 405.9L143 410.7L146.2 415.4L150.5 412.4L154.7 409.5L158.9 406.5L163.1 403.6L167.4 400.6L171.6 397.6L175.8 394.7L180 391.7L184.3 388.8L188.5 385.8L192.7 382.8L197 379.9L201.2 376.9L205.4 374L209.6 371L213.9 368L218.1 365.1L222.3 362.1L226.5 359.2L230.8 356.2L235 353.2L239.2 350.3L243.4 347.3L247.7 344.4L251.9 341.4L256.1 338.4L260.3 335.5L264.6 332.5L268.8 329.6L273 326.6L277.3 323.7L281.5 320.7L279.9 318.3L278.3 316L276.8 313.6L275.3 311.2L273.8 308.7L272.4 306.2L271.1 303.7L269.8 301.2L268.5 298.7L267.3 296.1L266.1 293.5L265 290.9L263.9 288.3L262.8 285.6L261.8 282.9L260.9 280.3L260 277.6L259.1 274.9L258.3 272.1L257.6 269.4L256.8 266.6L256.2 263.9L255.6 261.1L255 258.3L254.5 255.5L254 252.7L253.6 249.9L253.2 247.1L252.9 244.2L252.6 241.4L252.4 238.6L252.2 235.7L252.1 232.9L252 230L252 227.2L252 224.4L252.1 221.5L252.2 218.7L252.4 215.8L252.6 213L252.9 210.2L253.2 207.3L253.6 204.5L254 201.7L254.5 198.9L255 196.1L255.6 193.3L256.2 190.5L256.8 187.8L257.6 185L258.3 182.3L259.1 179.5L260 176.8L260.9 174.1L261.8 171.5L262.8 168.8L263.9 166.1L265 163.5L266.1 160.9L267.3 158.3L268.5 155.7L269.8 153.2L271.1 150.7L272.4 148.2L273.8 145.7L275.3 143.2L276.8 140.8L278.3 138.4L279.9 136.1Z"/>
<path fill="#b61e1a" d="M282.3 132.5L278.1 129.5L273.9 126.6L269.7 123.6L265.5 120.6L261.3 117.6L257.1 114.6L252.9 111.6L248.7 108.6L244.5 105.6L240.3 102.6L236.1 99.6L231.9 96.6L227.7 93.6L227.5 93.5L227.2 94.3L225.4 99.3L222.5 101.2L221.8 101.7L216.8 103.3L214.6 104L211.7 105L206.9 106.8L206.6 106.9L200.5 108.3L200.1 108.4L194 108.8L192.5 108.9L188.1 108.9L182.6 108.4L181 108L177.5 106.9L172.9 104.6L168.6 101.7L164.6 98.3L160.6 94.7L156.6 91.3L152.5 87.9L151.8 87.3L148.5 84.5L144.4 81.3L140.2 78.1L136 75L131.9 71.9L127.7 68.8L125.3 73.2L122.7 78.2L120.1 83.4L117.6 88.5L115.3 93.7L113 99L110.8 104.3L108.7 109.6L106.7 115L104.8 120.4L103 125.8L101.2 131.3L99.6 136.8L98.1 142.3L96.6 147.8L95.3 153.4L94.1 159L92.9 164.6L91.9 170.2L90.9 175.9L90.1 181.5L89.3 187.2L88.7 192.9L88.1 198.6L87.7 204.3L87.3 210L87.1 215.7L86.9 221.5L86.9 227.2L86.9 232.9L87.1 238.7L87.3 244.4L87.7 250.1L88.1 255.8L88.7 261.5L89.3 267.2L90.1 272.9L90.9 278.5L91.9 284.2L92.9 289.8L94.1 295.4L95.3 301L96.6 306.6L98.1 312.1L99.6 317.6L101.2 323.1L103 328.6L104.8 334L106.7 339.4L108.7 344.8L110.8 350.1L113 355.4L115.3 360.7L117.6 365.9L120.1 371L122.7 376.2L125.3 381.2L128 386.3L130.9 391.2L133.8 396.2L136.8 401.1L139.8 405.9L143 410.7L146.2 415.4L150.5 412.4L154.7 409.5L158.9 406.5L163.1 403.6L167.4 400.6L171.6 397.6L175.8 394.7L180 391.7L184.3 388.8L188.5 385.8L192.7 382.8L197 379.9L201.2 376.9L205.4 374L209.6 371L213.9 368L218.1 365.1L222.3 362.1L226.5 359.2L230.8 356.2L235 353.2L239.2 350.3L243.4 347.3L247.7 344.4L251.9 341.4L256.1 338.4L260.3 335.5L264.6 332.5L268.8 329.6L273 326.6L277.3 323.7L281.5 320.7L279.9 318.3L278.3 316L276.8 313.6L275.3 311.2L273.8 308.7L272.4 306.2L271.1 303.7L269.8 301.2L268.5 298.7L267.3 296.1L266.1 293.5L265 290.9L263.9 288.3L262.8 285.6L261.8 282.9L260.9 280.3L260 277.6L259.1 274.9L258.3 272.1L257.6 269.4L256.8 266.6L256.2 263.9L255.6 261.1L255 258.3L254.5 255.5L254 252.7L253.6 249.9L253.2 247.1L252.9 244.2L252.6 241.4L252.4 238.6L252.2 235.7L252.1 232.9L252 230L252 227.2L252 224.4L252.1 221.5L252.2 218.7L252.4 215.8L252.6 213L252.9 210.2L253.2 207.3L253.6 204.5L254 201.7L254.5 198.9L255 196.1L255.6 193.3L256.2 190.5L256.8 187.8L257.6 185L258.3 182.3L259.1 179.5L260 176.8L260.9 174.1L261.8 171.5L262.8 168.8L263.9 166.1L265 163.5L266.1 160.9L267.3 158.3L268.5 155.7L269.8 153.2L271.1 150.7L272.4 148.2L273.8 145.7L275.3 143.2L276.8 140.8L278.3 138.4L279.9 136.1Z"/>
<path fill="#be1f1b" d="M282.3 132.5L278.1 129.5L273.9 126.6L269.7 123.6L265.5 120.6L261.3 117.6L257.1 114.6L252.9 111.6L248.7 108.6L244.5 105.6L240.3 102.6L236.1 99.6L231.9 96.6L229.7 95L227.7 100.8L224.1 103.2L220.6 104.1L218.9 104.7L213.7 106.2L213.2 106.4L208.7 108.1L205.7 109L203 109.7L199.1 110.2L195.4 110.4L193.1 110.5L187.3 110.5L185.6 110.3L181.9 109.8L176.9 108.2L172.3 105.8L168 102.9L163.9 99.6L163 98.8L159.9 96.1L155.9 92.6L151.8 89.3L147.7 86L144.6 83.4L143.6 82.7L139.5 79.5L135.3 76.3L131.1 73.2L126.9 70.2L125.3 73.2L122.7 78.2L120.1 83.4L117.6 88.5L115.3 93.7L113 99L110.8 104.3L108.7 109.6L106.7 115L104.8 120.4L103 125.8L101.2 131.3L99.6 136.8L98.1 142.3L96.6 147.8L95.3 153.4L94.1 159L92.9 164.6L91.9 170.2L90.9 175.9L90.1 181.5L89.3 187.2L88.7 192.9L88.1 198.6L87.7 204.3L87.3 210L87.1 215.7L86.9 221.5L86.9 227.2L86.9 232.9L87.1 238.7L87.3 244.4L87.7 250.1L88.1 255.8L88.7 261.5L89.3 267.2L90.1 272.9L90.9 278.5L91.9 284.2L92.9 289.8L94.1 295.4L95.3 301L96.6 306.6L98.1 312.1L99.6 317.6L101.2 323.1L103 328.6L104.8 334L106.7 339.4L108.7 344.8L110.8 350.1L113 355.4L115.3 360.7L117.6 365.9L120.1 371L122.7 376.2L125.3 381.2L128 386.3L130.9 391.2L133.8 396.2L136.8 401.1L139.8 405.9L143 410.7L146.2 415.4L150.5 412.4L154.7 409.5L158.9 406.5L163.1 403.6L167.4 400.6L171.6 397.6L175.8 394.7L180 391.7L184.3 388.8L188.5 385.8L192.7 382.8L197 379.9L201.2 376.9L205.4 374L209.6 371L213.9 368L218.1 365.1L222.3 362.1L226.5 359.2L230.8 356.2L235 353.2L239.2 350.3L243.4 347.3L247.7 344.4L251.9 341.4L256.1 338.4L260.3 335.5L264.6 332.5L268.8 329.6L273 326.6L277.3 323.7L281.5 320.7L279.9 318.3L278.3 316L276.8 313.6L275.3 311.2L273.8 308.7L272.4 306.2L271.1 303.7L269.8 301.2L268.5 298.7L267.3 296.1L266.1 293.5L265 290.9L263.9 288.3L262.8 285.6L261.8 282.9L260.9 280.3L260 277.6L259.1 274.9L258.3 272.1L257.6 269.4L256.8 266.6L256.2 263.9L255.6 261.1L255 258.3L254.5 255.5L254 252.7L253.6 249.9L253.2 247.1L252.9 244.2L252.6 241.4L252.4 238.6L252.2 235.7L252.1 232.9L252 230L252 227.2L252 224.4L252.1 221.5L252.2 218.7L252.4 215.8L252.6 213L252.9 210.2L253.2 207.3L253.6 204.5L254 201.7L254.5 198.9L255 196.1L255.6 193.3L256.2 190.5L256.8 187.8L257.6 185L258.3 182.3L259.1 179.5L260 176.8L260.9 174.1L261.8 171.5L262.8 168.8L263.9 166.1L265 163.5L266.1 160.9L267.3 158.3L268.5 155.7L269.8 153.2L271.1 150.7L272.4 148.2L273.8 145.7L275.3 143.2L276.8 140.8L278.3 138.4L279.9 136.1Z"/>
<path fill="#c6211d" d="M282.3 132.5L278.1 129.5L273.9 126.6L269.7 123.6L265.5 120.6L261.3 117.6L257.1 114.6L252.9 111.6L248.7 108.6L244.5 105.6L240.3 102.6L236.1 99.6L231.9 96.6L229.9 102.3L226.4 104.7L221.2 106.1L219.2 106.5L215.7 107.5L211.7 108.9L210.7 109.2L205.4 111L204.4 111.3L198.3 112L198.2 112L192.2 112.2L189.3 112.2L186.5 112.1L181.2 111.1L176.3 109.4L171.7 107L167.4 104.1L163.3 100.8L159.2 97.4L157.5 96L155.2 94L151.1 90.7L147 87.4L142.8 84.2L138.7 80.9L136.5 79.1L134.6 77.7L130.4 74.6L126.2 71.5L125.3 73.2L122.7 78.2L120.1 83.4L117.6 88.5L115.3 93.7L113 99L110.8 104.3L108.7 109.6L106.7 115L104.8 120.4L103 125.8L101.2 131.3L99.6 136.8L98.1 142.3L96.6 147.8L95.3 153.4L94.1 159L92.9 164.6L91.9 170.2L90.9 175.9L90.1 181.5L89.3 187.2L88.7 192.9L88.1 198.6L87.7 204.3L87.3 210L87.1 215.7L86.9 221.5L86.9 227.2L86.9 232.9L87.1 238.7L87.3 244.4L87.7 250.1L88.1 255.8L88.7 261.5L89.3 267.2L90.1 272.9L90.9 278.5L91.9 284.2L92.9 289.8L94.1 295.4L95.3 301L96.6 306.6L98.1 312.1L99.6 317.6L101.2 323.1L103 328.6L104.8 334L106.7 339.4L108.7 344.8L110.8 350.1L113 355.4L115.3 360.7L117.6 365.9L120.1 371L122.7 376.2L125.3 381.2L128 386.3L130.9 391.2L133.8 396.2L136.8 401.1L139.8 405.9L143 410.7L146.2 415.4L150.5 412.4L154.7 409.5L158.9 406.5L163.1 403.6L167.4 400.6L171.6 397.6L175.8 394.7L180 391.7L184.3 388.8L188.5 385.8L192.7 382.8L197 379.9L201.2 376.9L205.4 374L209.6 371L213.9 368L218.1 365.1L222.3 362.1L226.5 359.2L230.8 356.2L235 353.2L239.2 350.3L243.4 347.3L247.7 344.4L251.9 341.4L256.1 338.4L260.3 335.5L264.6 332.5L268.8 329.6L273 326.6L277.3 323.7L281.5 320.7L279.9 318.3L278.3 316L276.8 313.6L275.3 311.2L273.8 308.7L272.4 306.2L271.1 303.7L269.8 301.2L268.5 298.7L267.3 296.1L266.1 293.5L265 290.9L263.9 288.3L262.8 285.6L261.8 282.9L260.9 280.3L260 277.6L259.1 274.9L258.3 272.1L257.6 269.4L256.8 266.6L256.2 263.9L255.6 261.1L255 258.3L254.5 255.5L254 252.7L253.6 249.9L253.2 247.1L252.9 244.2L252.6 241.4L252.4 238.6L252.2 235.7L252.1 232.9L252 230L252 227.2L252 224.4L252.1 221.5L252.2 218.7L252.4 215.8L252.6 213L252.9 210.2L253.2 207.3L253.6 204.5L254 201.7L254.5 198.9L255 196.1L255.6 193.3L256.2 190.5L256.8 187.8L257.6 185L258.3 182.3L259.1 179.5L260 176.8L260.9 174.1L261.8 171.5L262.8 168.8L263.9 166.1L265 163.5L266.1 160.9L267.3 158.3L268.5 155.7L269.8 153.2L271.1 150.7L272.4 148.2L273.8 145.7L275.3 143.2L276.8 140.8L278.3 138.4L279.9 136.1Z"/>
<path fill="#cb221e" d="M282.3 132.5L278.1 129.5L273.9 126.6L269.7 123.6L265.5 120.6L261.3 117.6L257.1 114.6L252.9 111.6L248.7 108.6L244.5 105.6L240.3 102.6L236.1 99.6L234.2 98.2L232.1 103.8L228.8 106.3L224.8 107.2L223.5 107.6L217.8 108.7L212.8 110.5L210.1 111.6L207.9 112.4L203.2 113.5L201.5 113.7L197.2 113.9L192.8 114L191.3 114L185.7 113.6L180.5 112.5L177.2 111.2L175.7 110.6L172.7 109L171.1 108.2L166.8 105.3L162.6 102.1L158.5 98.8L154.4 95.4L151.2 92.8L150.3 92.1L146.2 88.9L142.1 85.7L137.9 82.5L133.8 79.3L129.6 76L127.5 74.3L125.5 72.9L125.3 73.2L122.7 78.2L120.1 83.4L117.6 88.5L115.3 93.7L113 99L110.8 104.3L108.7 109.6L106.7 115L104.8 120.4L103 125.8L101.2 131.3L99.6 136.8L98.1 142.3L96.6 147.8L95.3 153.4L94.1 159L92.9 164.6L91.9 170.2L90.9 175.9L90.1 181.5L89.3 187.2L88.7 192.9L88.1 198.6L87.7 204.3L87.3 210L87.1 215.7L86.9 221.5L86.9 227.2L86.9 232.9L87.1 238.7L87.3 244.4L87.7 250.1L88.1 255.8L88.7 261.5L89.3 267.2L90.1 272.9L90.9 278.5L91.9 284.2L92.9 289.8L94.1 295.4L95.3 301L96.6 306.6L98.1 312.1L99.6 317.6L101.2 323.1L103 328.6L104.8 334L106.7 339.4L108.7 344.8L110.8 350.1L113 355.4L115.3 360.7L117.6 365.9L120.1 371L122.7 376.2L125.3 381.2L128 386.3L130.9 391.2L133.8 396.2L136.8 401.1L139.8 405.9L143 410.7L146.2 415.4L150.5 412.4L154.7 409.5L158.9 406.5L163.1 403.6L167.4 400.6L171.6 397.6L175.8 394.7L180 391.7L184.3 388.8L188.5 385.8L192.7 382.8L197 379.9L201.2 376.9L205.4 374L209.6 371L213.9 368L218.1 365.1L222.3 362.1L226.5 359.2L230.8 356.2L235 353.2L239.2 350.3L243.4 347.3L247.7 344.4L251.9 341.4L256.1 338.4L260.3 335.5L264.6 332.5L268.8 329.6L273 326.6L277.3 323.7L281.5 320.7L279.9 318.3L278.3 316L276.8 313.6L275.3 311.2L273.8 308.7L272.4 306.2L271.1 303.7L269.8 301.2L268.5 298.7L267.3 296.1L266.1 293.5L265 290.9L263.9 288.3L262.8 285.6L261.8 282.9L260.9 280.3L260 277.6L259.1 274.9L258.3 272.1L257.6 269.4L256.8 266.6L256.2 263.9L255.6 261.1L255 258.3L254.5 255.5L254 252.7L253.6 249.9L253.2 247.1L252.9 244.2L252.6 241.4L252.4 238.6L252.2 235.7L252.1 232.9L252 230L252 227.2L252 224.4L252.1 221.5L252.2 218.7L252.4 215.8L252.6 213L252.9 210.2L253.2 207.3L253.6 204.5L254 201.7L254.5 198.9L255 196.1L255.6 193.3L256.2 190.5L256.8 187.8L257.6 185L258.3 182.3L259.1 179.5L260 176.8L260.9 174.1L261.8 171.5L262.8 168.8L263.9 166.1L265 163.5L266.1 160.9L267.3 158.3L268.5 155.7L269.8 153.2L271.1 150.7L272.4 148.2L273.8 145.7L275.3 143.2L276.8 140.8L278.3 138.4L279.9 136.1Z"/>
<path fill="#d1231e" d="M282.3 132.5L278.1 129.5L273.9 126.6L269.7 123.6L265.5 120.6L261.3 117.6L257.1 114.6L252.9 111.6L248.7 108.6L244.5 105.6L240.3 102.6L236.6 99.9L234.4 105.4L231.2 107.8L230.3 108.1L226.2 109.2L223.3 109.5L220.2 110.1L216.3 111.2L215 111.7L210.5 113.9L208.4 114.7L205 115.5L202 115.8L196.4 115.8L196.2 115.8L190.4 115.9L185.5 115.3L184.9 115.2L179.8 113.9L175 112L170.5 109.5L166.2 106.6L163.7 104.6L162 103.4L157.9 100.1L153.7 96.9L149.6 93.7L145.4 90.4L143.3 88.8L141.3 87.2L137.1 84.1L132.9 80.9L128.7 77.8L124.6 74.5L122.7 78.2L120.1 83.4L117.6 88.5L115.3 93.7L113 99L110.8 104.3L108.7 109.6L106.7 115L104.8 120.4L103 125.8L101.2 131.3L99.6 136.8L98.1 142.3L96.6 147.8L95.3 153.4L94.1 159L92.9 164.6L91.9 170.2L90.9 175.9L90.1 181.5L89.3 187.2L88.7 192.9L88.1 198.6L87.7 204.3L87.3 210L87.1 215.7L86.9 221.5L86.9 227.2L86.9 232.9L87.1 238.7L87.3 244.4L87.7 250.1L88.1 255.8L88.7 261.5L89.3 267.2L90.1 272.9L90.9 278.5L91.9 284.2L92.9 289.8L94.1 295.4L95.3 301L96.6 306.6L98.1 312.1L99.6 317.6L101.2 323.1L103 328.6L104.8 334L106.7 339.4L108.7 344.8L110.8 350.1L113 355.4L115.3 360.7L117.6 365.9L120.1 371L122.7 376.2L125.3 381.2L128 386.3L130.9 391.2L133.8 396.2L136.8 401.1L139.8 405.9L143 410.7L146.2 415.4L150.5 412.4L154.7 409.5L158.9 406.5L163.1 403.6L167.4 400.6L171.6 397.6L175.8 394.7L180 391.7L184.3 388.8L188.5 385.8L192.7 382.8L197 379.9L201.2 376.9L205.4 374L209.6 371L213.9 368L218.1 365.1L222.3 362.1L226.5 359.2L230.8 356.2L235 353.2L239.2 350.3L243.4 347.3L247.7 344.4L251.9 341.4L256.1 338.4L260.3 335.5L264.6 332.5L268.8 329.6L273 326.6L277.3 323.7L281.5 320.7L279.9 318.3L278.3 316L276.8 313.6L275.3 311.2L273.8 308.7L272.4 306.2L271.1 303.7L269.8 301.2L268.5 298.7L267.3 296.1L266.1 293.5L265 290.9L263.9 288.3L262.8 285.6L261.8 282.9L260.9 280.3L260 277.6L259.1 274.9L258.3 272.1L257.6 269.4L256.8 266.6L256.2 263.9L255.6 261.1L255 258.3L254.5 255.5L254 252.7L253.6 249.9L253.2 247.1L252.9 244.2L252.6 241.4L252.4 238.6L252.2 235.7L252.1 232.9L252 230L252 227.2L252 224.4L252.1 221.5L252.2 218.7L252.4 215.8L252.6 213L252.9 210.2L253.2 207.3L253.6 204.5L254 201.7L254.5 198.9L255 196.1L255.6 193.3L256.2 190.5L256.8 187.8L257.6 185L258.3 182.3L259.1 179.5L260 176.8L260.9 174.1L261.8 171.5L262.8 168.8L263.9 166.1L265 163.5L266.1 160.9L267.3 158.3L268.5 155.7L269.8 153.2L271.1 150.7L272.4 148.2L273.8 145.7L275.3 143.2L276.8 140.8L278.3 138.4L279.9 136.1Z"/>
<path fill="#d72420" d="M282.3 132.5L278.1 129.5L273.9 126.6L269.7 123.6L265.5 120.6L261.3 117.6L257.1 114.6L252.9 111.6L248.7 108.6L244.5 105.6L240.3 102.6L239.1 101.8L236.6 106.9L233.8 109.5L229.1 111.1L228.4 111.1L222.8 111.7L221.9 111.9L217.5 113.2L214.2 114.9L213.3 115.4L208.8 117.6L206.7 117.9L201.1 118.2L200.7 118.2L195 118.1L190.9 117.9L189.4 117.8L184.1 117L179.1 115.5L174.4 113.4L169.9 110.8L165.6 107.9L161.4 104.7L157.2 101.5L153 98.3L148.8 95.3L144.5 92.2L140.3 89L136.2 85.8L133.8 83.9L132 82.6L127.8 79.5L123.7 76.3L122.7 78.2L120.1 83.4L117.6 88.5L115.3 93.7L113 99L110.8 104.3L108.7 109.6L106.7 115L104.8 120.4L103 125.8L101.2 131.3L99.6 136.8L98.1 142.3L96.6 147.8L95.3 153.4L94.1 159L92.9 164.6L91.9 170.2L90.9 175.9L90.1 181.5L89.3 187.2L88.7 192.9L88.1 198.6L87.7 204.3L87.3 210L87.1 215.7L86.9 221.5L86.9 227.2L86.9 232.9L87.1 238.7L87.3 244.4L87.7 250.1L88.1 255.8L88.7 261.5L89.3 267.2L90.1 272.9L90.9 278.5L91.9 284.2L92.9 289.8L94.1 295.4L95.3 301L96.6 306.6L98.1 312.1L99.6 317.6L101.2 323.1L103 328.6L104.8 334L106.7 339.4L108.7 344.8L110.8 350.1L113 355.4L115.3 360.7L117.6 365.9L120.1 371L122.7 376.2L125.3 381.2L128 386.3L130.9 391.2L133.8 396.2L136.8 401.1L139.8 405.9L143 410.7L146.2 415.4L150.5 412.4L154.7 409.5L158.9 406.5L163.1 403.6L167.4 400.6L171.6 397.6L175.8 394.7L180 391.7L184.3 388.8L188.5 385.8L192.7 382.8L197 379.9L201.2 376.9L205.4 374L209.6 371L213.9 368L218.1 365.1L222.3 362.1L226.5 359.2L230.8 356.2L235 353.2L239.2 350.3L243.4 347.3L247.7 344.4L251.9 341.4L256.1 338.4L260.3 335.5L264.6 332.5L268.8 329.6L273 326.6L277.3 323.7L281.5 320.7L279.9 318.3L278.3 316L276.8 313.6L275.3 311.2L273.8 308.7L272.4 306.2L271.1 303.7L269.8 301.2L268.5 298.7L267.3 296.1L266.1 293.5L265 290.9L263.9 288.3L262.8 285.6L261.8 282.9L260.9 280.3L260 277.6L259.1 274.9L258.3 272.1L257.6 269.4L256.8 266.6L256.2 263.9L255.6 261.1L255 258.3L254.5 255.5L254 252.7L253.6 249.9L253.2 247.1L252.9 244.2L252.6 241.4L252.4 238.6L252.2 235.7L252.1 232.9L252 230L252 227.2L252 224.4L252.1 221.5L252.2 218.7L252.4 215.8L252.6 213L252.9 210.2L253.2 207.3L253.6 204.5L254 201.7L254.5 198.9L255 196.1L255.6 193.3L256.2 190.5L256.8 187.8L257.6 185L258.3 182.3L259.1 179.5L260 176.8L260.9 174.1L261.8 171.5L262.8 168.8L263.9 166.1L265 163.5L266.1 160.9L267.3 158.3L268.5 155.7L269.8 153.2L271.1 150.7L272.4 148.2L273.8 145.7L275.3 143.2L276.8 140.8L278.3 138.4L279.9 136.1Z"/>
<path fill="#dc2520" d="M282.3 132.5L278.1 129.5L273.9 126.6L269.7 123.6L265.5 120.6L261.3 117.6L257.1 114.6L252.9 111.6L248.7 108.6L244.5 105.6L241.9 103.8L239.1 108.5L236.5 111.3L233.3 113L232.7 113.3L226.7 113.9L226.4 113.9L220.2 114.7L216.6 117.2L213 119.8L211.3 120.3L206.8 121.1L205.1 121.1L199.4 120.9L196.8 120.8L193.8 120.6L188.3 120.1L183.2 118.8L179.7 117.5L178.4 117L173.8 114.7L169.3 112.1L164.9 109.2L160.7 106.1L156.5 103L152.2 99.9L148.5 97.2L148 96.8L143.7 93.9L139.4 91L135.1 88L130.9 84.8L126.8 81.5L123.5 78.7L122.7 78.1L122.7 78.2L120.1 83.4L117.6 88.5L115.3 93.7L113 99L110.8 104.3L108.7 109.6L106.7 115L104.8 120.4L103 125.8L101.2 131.3L99.6 136.8L98.1 142.3L96.6 147.8L95.3 153.4L94.1 159L92.9 164.6L91.9 170.2L90.9 175.9L90.1 181.5L89.3 187.2L88.7 192.9L88.1 198.6L87.7 204.3L87.3 210L87.1 215.7L86.9 221.5L86.9 227.2L86.9 232.9L87.1 238.7L87.3 244.4L87.7 250.1L88.1 255.8L88.7 261.5L89.3 267.2L90.1 272.9L90.9 278.5L91.9 284.2L92.9 289.8L94.1 295.4L95.3 301L96.6 306.6L98.1 312.1L99.6 317.6L101.2 323.1L103 328.6L104.8 334L106.7 339.4L108.7 344.8L110.8 350.1L113 355.4L115.3 360.7L117.6 365.9L120.1 371L122.7 376.2L125.3 381.2L128 386.3L130.9 391.2L133.8 396.2L136.8 401.1L139.8 405.9L143 410.7L146.2 415.4L150.5 412.4L154.7 409.5L158.9 406.5L163.1 403.6L167.4 400.6L171.6 397.6L175.8 394.7L180 391.7L184.3 388.8L188.5 385.8L192.7 382.8L197 379.9L201.2 376.9L205.4 374L209.6 371L213.9 368L218.1 365.1L222.3 362.1L226.5 359.2L230.8 356.2L235 353.2L239.2 350.3L243.4 347.3L247.7 344.4L251.9 341.4L256.1 338.4L260.3 335.5L264.6 332.5L268.8 329.6L273 326.6L277.3 323.7L281.5 320.7L279.9 318.3L278.3 316L276.8 313.6L275.3 311.2L273.8 308.7L272.4 306.2L271.1 303.7L269.8 301.2L268.5 298.7L267.3 296.1L266.1 293.5L265 290.9L263.9 288.3L262.8 285.6L261.8 282.9L260.9 280.3L260 277.6L259.1 274.9L258.3 272.1L257.6 269.4L256.8 266.6L256.2 263.9L255.6 261.1L255 258.3L254.5 255.5L254 252.7L253.6 249.9L253.2 247.1L252.9 244.2L252.6 241.4L252.4 238.6L252.2 235.7L252.1 232.9L252 230L252 227.2L252 224.4L252.1 221.5L252.2 218.7L252.4 215.8L252.6 213L252.9 210.2L253.2 207.3L253.6 204.5L254 201.7L254.5 198.9L255 196.1L255.6 193.3L256.2 190.5L256.8 187.8L257.6 185L258.3 182.3L259.1 179.5L260 176.8L260.9 174.1L261.8 171.5L262.8 168.8L263.9 166.1L265 163.5L266.1 160.9L267.3 158.3L268.5 155.7L269.8 153.2L271.1 150.7L272.4 148.2L273.8 145.7L275.3 143.2L276.8 140.8L278.3 138.4L279.9 136.1Z"/>
<path fill="#e02821" d="M282.3 132.5L278.1 129.5L273.9 126.6L269.7 123.6L265.5 120.6L261.3 117.6L257.1 114.6L252.9 111.6L248.7 108.6L245 105.9L241.6 110.3L239.5 113.2L238.6 114.4L237.1 116L232.6 117.6L230.6 117.5L224.7 117.3L220.7 119.5L217.5 122.2L215.7 122.9L212.5 124L209.3 124.2L203.7 124.2L203.5 124.2L198 123.9L192.5 123.4L187.1 122.7L182.1 121.2L177.4 119.1L172.9 116.6L168.5 113.7L164.3 110.6L163.3 109.8L160 107.5L155.8 104.5L151.5 101.5L147.1 98.6L142.8 95.8L138.4 93L134.5 90.4L134 90.1L129.8 87.1L125.6 84L121.5 80.6L120.1 83.4L117.6 88.5L115.3 93.7L113 99L110.8 104.3L108.7 109.6L106.7 115L104.8 120.4L103 125.8L101.2 131.3L99.6 136.8L98.1 142.3L96.6 147.8L95.3 153.4L94.1 159L92.9 164.6L91.9 170.2L90.9 175.9L90.1 181.5L89.3 187.2L88.7 192.9L88.1 198.6L87.7 204.3L87.3 210L87.1 215.7L86.9 221.5L86.9 227.2L86.9 232.9L87.1 238.7L87.3 244.4L87.7 250.1L88.1 255.8L88.7 261.5L89.3 267.2L90.1 272.9L90.9 278.5L91.9 284.2L92.9 289.8L94.1 295.4L95.3 301L96.6 306.6L98.1 312.1L99.6 317.6L101.2 323.1L103 328.6L104.8 334L106.7 339.4L108.7 344.8L110.8 350.1L113 355.4L115.3 360.7L117.6 365.9L120.1 371L122.7 376.2L125.3 381.2L128 386.3L130.9 391.2L133.8 396.2L136.8 401.1L139.8 405.9L143 410.7L146.2 415.4L150.5 412.4L154.7 409.5L158.9 406.5L163.1 403.6L167.4 400.6L171.6 397.6L175.8 394.7L180 391.7L184.3 388.8L188.5 385.8L192.7 382.8L197 379.9L201.2 376.9L205.4 374L209.6 371L213.9 368L218.1 365.1L222.3 362.1L226.5 359.2L230.8 356.2L235 353.2L239.2 350.3L243.4 347.3L247.7 344.4L251.9 341.4L256.1 338.4L260.3 335.5L264.6 332.5L268.8 329.6L273 326.6L277.3 323.7L281.5 320.7L279.9 318.3L278.3 316L276.8 313.6L275.3 311.2L273.8 308.7L272.4 306.2L271.1 303.7L269.8 301.2L268.5 298.7L267.3 296.1L266.1 293.5L265 290.9L263.9 288.3L262.8 285.6L261.8 282.9L260.9 280.3L260 277.6L259.1 274.9L258.3 272.1L257.6 269.4L256.8 266.6L256.2 263.9L255.6 261.1L255 258.3L254.5 255.5L254 252.7L253.6 249.9L253.2 247.1L252.9 244.2L252.6 241.4L252.4 238.6L252.2 235.7L252.1 232.9L252 230L252 227.2L252 224.4L252.1 221.5L252.2 218.7L252.4 215.8L252.6 213L252.9 210.2L253.2 207.3L253.6 204.5L254 201.7L254.5 198.9L255 196.1L255.6 193.3L256.2 190.5L256.8 187.8L257.6 185L258.3 182.3L259.1 179.5L260 176.8L260.9 174.1L261.8 171.5L262.8 168.8L263.9 166.1L265 163.5L266.1 160.9L267.3 158.3L268.5 155.7L269.8 153.2L271.1 150.7L272.4 148.2L273.8 145.7L275.3 143.2L276.8 140.8L278.3 138.4L279.9 136.1Z"/>
<path fill="#e12c21" d="M282.3 132.5L278.1 129.5L273.9 126.6L269.7 123.6L265.5 120.6L261.3 117.6L257.1 114.6L252.9 111.6L248.7 108.6L244.8 112.4L243.2 115.6L242.7 117.4L242.8 119.6L242.8 123.7L238.2 125.1L238.1 125.1L233.1 123.5L227.5 122.8L226.9 122.9L222.3 124.7L220.3 125.4L217.3 126.5L213.7 127L210 127.2L207.8 127.2L202.1 127.2L200.3 127.1L196.4 127.1L190.9 126.9L188.7 126.4L185.7 125.9L180.9 124L176.4 121.3L175.1 120.4L172 118.5L167.7 115.5L163.5 112.4L159.3 109.2L155 106L150.7 103.1L146.3 100.4L141.8 97.8L137.4 95.1L132.9 92.4L128.6 89.6L124.3 86.5L121 83.8L120.2 83.2L120.1 83.4L117.6 88.5L115.3 93.7L113 99L110.8 104.3L108.7 109.6L106.7 115L104.8 120.4L103 125.8L101.2 131.3L99.6 136.8L98.1 142.3L96.6 147.8L95.3 153.4L94.1 159L92.9 164.6L91.9 170.2L90.9 175.9L90.1 181.5L89.3 187.2L88.7 192.9L88.1 198.6L87.7 204.3L87.3 210L87.1 215.7L86.9 221.5L86.9 227.2L86.9 232.9L87.1 238.7L87.3 244.4L87.7 250.1L88.1 255.8L88.7 261.5L89.3 267.2L90.1 272.9L90.9 278.5L91.9 284.2L92.9 289.8L94.1 295.4L95.3 301L96.6 306.6L98.1 312.1L99.6 317.6L101.2 323.1L103 328.6L104.8 334L106.7 339.4L108.7 344.8L110.8 350.1L113 355.4L115.3 360.7L117.6 365.9L120.1 371L122.7 376.2L125.3 381.2L128 386.3L130.9 391.2L133.8 396.2L136.8 401.1L139.8 405.9L143 410.7L146.2 415.4L150.5 412.4L154.7 409.5L158.9 406.5L163.1 403.6L167.4 400.6L171.6 397.6L175.8 394.7L180 391.7L184.3 388.8L188.5 385.8L192.7 382.8L197 379.9L201.2 376.9L205.4 374L209.6 371L213.9 368L218.1 365.1L222.3 362.1L226.5 359.2L230.8 356.2L235 353.2L239.2 350.3L243.4 347.3L247.7 344.4L251.9 341.4L256.1 338.4L260.3 335.5L264.6 332.5L268.8 329.6L273 326.6L277.3 323.7L281.5 320.7L279.9 318.3L278.3 316L276.8 313.6L275.3 311.2L273.8 308.7L272.4 306.2L271.1 303.7L269.8 301.2L268.5 298.7L267.3 296.1L266.1 293.5L265 290.9L263.9 288.3L262.8 285.6L261.8 282.9L260.9 280.3L260 277.6L259.1 274.9L258.3 272.1L257.6 269.4L256.8 266.6L256.2 263.9L255.6 261.1L255 258.3L254.5 255.5L254 252.7L253.6 249.9L253.2 247.1L252.9 244.2L252.6 241.4L252.4 238.6L252.2 235.7L252.1 232.9L252 230L252 227.2L252 224.4L252.1 221.5L252.2 218.7L252.4 215.8L252.6 213L252.9 210.2L253.2 207.3L253.6 204.5L254 201.7L254.5 198.9L255 196.1L255.6 193.3L256.2 190.5L256.8 187.8L257.6 185L258.3 182.3L259.1 179.5L260 176.8L260.9 174.1L261.8 171.5L262.8 168.8L263.9 166.1L265 163.5L266.1 160.9L267.3 158.3L268.5 155.7L269.8 153.2L271.1 150.7L272.4 148.2L273.8 145.7L275.3 143.2L276.8 140.8L278.3 138.4L279.9 136.1Z"/>
<path fill="#e23020" d="M282.3 132.5L278.1 129.5L273.9 126.6L269.7 123.6L265.5 120.6L261.3 117.6L257.1 114.6L254.2 112.5L251.6 113.4L248.9 115.1L248.1 118.7L248.1 118.8L250.3 124.3L250.4 124.7L251.8 129.1L248.3 131L246.8 130.7L241.5 129.6L237.3 128.7L236.2 128.4L230.9 127.3L227.5 127.5L224.9 127.7L221.5 128.6L218.4 129.1L214.8 129.6L212.3 129.7L206.5 130L200.7 130.2L197.5 130.4L194.9 130.6L189.2 130.8L186.5 130.2L184 129.7L179.4 127.4L178.7 126.9L175.1 124.4L170.9 121.1L166.8 117.6L164.9 115.8L162.6 114.2L158.4 111L154.2 107.9L149.8 105L145.4 102.3L140.9 99.7L136.3 97.3L131.8 94.7L127.4 92.1L123.1 89.1L118.9 85.9L117.6 88.5L115.3 93.7L113 99L110.8 104.3L108.7 109.6L106.7 115L104.8 120.4L103 125.8L101.2 131.3L99.6 136.8L98.1 142.3L96.6 147.8L95.3 153.4L94.1 159L92.9 164.6L91.9 170.2L90.9 175.9L90.1 181.5L89.3 187.2L88.7 192.9L88.1 198.6L87.7 204.3L87.3 210L87.1 215.7L86.9 221.5L86.9 227.2L86.9 232.9L87.1 238.7L87.3 244.4L87.7 250.1L88.1 255.8L88.7 261.5L89.3 267.2L90.1 272.9L90.9 278.5L91.9 284.2L92.9 289.8L94.1 295.4L95.3 301L96.6 306.6L98.1 312.1L99.6 317.6L101.2 323.1L103 328.6L104.8 334L106.7 339.4L108.7 344.8L110.8 350.1L113 355.4L115.3 360.7L117.6 365.9L120.1 371L122.7 376.2L125.3 381.2L128 386.3L130.9 391.2L133.8 396.2L136.8 401.1L139.8 405.9L143 410.7L146.2 415.4L150.5 412.4L154.7 409.5L158.9 406.5L163.1 403.6L167.4 400.6L171.6 397.6L175.8 394.7L180 391.7L184.3 388.8L188.5 385.8L192.7 382.8L197 379.9L201.2 376.9L205.4 374L209.6 371L213.9 368L218.1 365.1L222.3 362.1L226.5 359.2L230.8 356.2L235 353.2L239.2 350.3L243.4 347.3L247.7 344.4L251.9 341.4L256.1 338.4L260.3 335.5L264.6 332.5L268.8 329.6L273 326.6L277.3 323.7L281.5 320.7L279.9 318.3L278.3 316L276.8 313.6L275.3 311.2L273.8 308.7L272.4 306.2L271.1 303.7L269.8 301.2L268.5 298.7L267.3 296.1L266.1 293.5L265 290.9L263.9 288.3L262.8 285.6L261.8 282.9L260.9 280.3L260 277.6L259.1 274.9L258.3 272.1L257.6 269.4L256.8 266.6L256.2 263.9L255.6 261.1L255 258.3L254.5 255.5L254 252.7L253.6 249.9L253.2 247.1L252.9 244.2L252.6 241.4L252.4 238.6L252.2 235.7L252.1 232.9L252 230L252 227.2L252 224.4L252.1 221.5L252.2 218.7L252.4 215.8L252.6 213L252.9 210.2L253.2 207.3L253.6 204.5L254 201.7L254.5 198.9L255 196.1L255.6 193.3L256.2 190.5L256.8 187.8L257.6 185L258.3 182.3L259.1 179.5L260 176.8L260.9 174.1L261.8 171.5L262.8 168.8L263.9 166.1L265 163.5L266.1 160.9L267.3 158.3L268.5 155.7L268.9 155L268.9 152.8L269.4 149.8L270.5 147.1L272.3 144.8L275.1 143.1L275.4 143L276.8 140.8L278.3 138.4L279.9 136.1Z"/>
<path fill="#e43420" d="M282.3 132.5L278.1 129.5L273.9 126.6L269.7 123.6L265.5 120.6L259.5 120.2L256.7 120.4L257.4 123.2L258.8 125.8L260.4 128L263.1 132.3L262.2 134.9L262.2 135.4L262 135.3L257.3 136.1L255.8 135.7L250.5 134.6L246.5 133.8L245.2 133.4L240.2 131.9L234.9 130.7L233.2 130.5L229.4 130.2L225.5 130.7L223.3 130.9L218.8 131.5L217.1 131.7L211.2 132.1L205.3 132.6L202.9 132.8L199.4 133.3L195 133.8L193.4 134.1L187.6 134.6L184.5 134.1L182.4 133.7L177.7 131.4L177.5 131.3L173.6 128L169.6 124L168.2 122.5L165.7 120.2L161.6 116.5L157.6 112.9L156.7 112.2L153.3 109.8L149 106.9L144.5 104.3L140 101.8L135.4 99.3L130.9 96.9L126.4 94.3L121.9 91.6L117.6 88.5L115.3 93.7L113 99L110.8 104.3L108.7 109.6L106.7 115L104.8 120.4L103 125.8L101.2 131.3L99.6 136.8L98.1 142.3L96.6 147.8L95.3 153.4L94.1 159L92.9 164.6L91.9 170.2L90.9 175.9L90.1 181.5L89.3 187.2L88.7 192.9L88.1 198.6L87.7 204.3L87.3 210L87.1 215.7L86.9 221.5L86.9 227.2L86.9 232.9L87.1 238.7L87.3 244.4L87.7 250.1L88.1 255.8L88.7 261.5L89.3 267.2L90.1 272.9L90.9 278.5L91.9 284.2L92.9 289.8L94.1 295.4L95.3 301L96.6 306.6L98.1 312.1L99.6 317.6L101.2 323.1L103 328.6L104.8 334L106.7 339.4L108.7 344.8L110.8 350.1L113 355.4L115.3 360.7L117.6 365.9L120.1 371L122.7 376.2L125.3 381.2L128 386.3L130.9 391.2L133.8 396.2L136.8 401.1L139.8 405.9L143 410.7L146.2 415.4L150.5 412.4L154.7 409.5L158.9 406.5L163.1 403.6L167.4 400.6L171.6 397.6L175.8 394.7L180 391.7L184.3 388.8L188.5 385.8L192.7 382.8L197 379.9L201.2 376.9L205.4 374L209.6 371L213.9 368L218.1 365.1L222.3 362.1L226.5 359.2L230.8 356.2L235 353.2L239.2 350.3L243.4 347.3L247.7 344.4L251.9 341.4L256.1 338.4L260.3 335.5L264.6 332.5L268.8 329.6L273 326.6L277.3 323.7L281.5 320.7L279.9 318.3L278.3 316L276.8 313.6L275.3 311.2L273.8 308.7L272.4 306.2L271.1 303.7L269.8 301.2L268.5 298.7L267.3 296.1L266.1 293.5L265 290.9L263.9 288.3L262.8 285.6L261.8 282.9L260.9 280.3L260 277.6L259.1 274.9L258.3 272.1L257.6 269.4L256.8 266.6L256.2 263.9L255.6 261.1L255 258.3L254.5 255.5L254 252.7L253.6 249.9L253.2 247.1L252.9 244.2L252.6 241.4L252.4 238.6L252.2 235.7L252.1 232.9L252 230L252 227.2L252 224.4L252.1 221.5L252.2 218.7L252.4 215.8L252.6 213L252.9 210.2L253.2 207.3L253.6 204.5L254 201.7L254.5 198.9L255 196.1L255.6 193.3L256.2 190.5L256.8 187.8L257.6 185L258.3 182.3L259.1 179.5L260 176.8L260.9 174.1L261.8 171.5L262.8 168.8L263.9 166.1L265 163.5L266.1 160.9L267.3 158.3L267.3 155.2L267.3 151.9L267.5 148.8L268.1 145.8L268.6 144.4L268.6 142.7L269.4 139.7L272 138.8L272.6 138.2L278.2 138.5L278.3 138.4L279.9 136.1Z"/>
<path fill="#e53820" d="M264.4 147.1L263.1 143.8L258.9 140.8L254.1 138.7L249.2 136.9L244.2 135.3L239.9 134.1L239.1 133.9L233.8 132.9L229.7 132.8L228.1 132.8L222.5 133.3L222 133.3L216.1 133.9L215 134L210.1 134.4L207.2 134.7L204.2 135.1L199.7 135.8L198.1 136.2L192.5 137.3L192 137.4L186.3 137.9L181 137.2L176.3 135L172.1 131.6L168.2 127.5L164.4 123.2L161 119.4L160.6 119L156.5 115.3L152.4 111.9L148 108.9L144.3 106.7L143.6 106.3L139 103.8L134.5 101.4L129.9 98.9L125.4 96.4L121 93.6L116.7 90.6L115.3 93.7L113 99L110.8 104.3L108.7 109.6L106.7 115L104.8 120.4L103 125.8L101.2 131.3L99.6 136.8L98.1 142.3L96.6 147.8L95.3 153.4L94.1 159L92.9 164.6L91.9 170.2L90.9 175.9L90.1 181.5L89.3 187.2L88.7 192.9L88.1 198.6L87.7 204.3L87.3 210L87.1 215.7L86.9 221.5L86.9 227.2L86.9 232.9L87.1 238.7L87.3 244.4L87.7 250.1L88.1 255.8L88.7 261.5L89.3 267.2L90.1 272.9L90.9 278.5L91.9 284.2L92.9 289.8L94.1 295.4L95.3 301L96.6 306.6L98.1 312.1L99.6 317.6L101.2 323.1L103 328.6L104.8 334L106.7 339.4L108.7 344.8L110.8 350.1L113 355.4L115.3 360.7L117.6 365.9L120.1 371L122.7 376.2L125.3 381.2L128 386.3L130.9 391.2L133.8 396.2L136.8 401.1L139.8 405.9L143 410.7L146.2 415.4L150.5 412.4L154.7 409.5L158.9 406.5L163.1 403.6L167.4 400.6L171.6 397.6L175.8 394.7L180 391.7L184.3 388.8L188.5 385.8L192.7 382.8L197 379.9L201.2 376.9L205.4 374L209.6 371L213.9 368L218.1 365.1L222.3 362.1L226.5 359.2L230.8 356.2L235 353.2L239.2 350.3L243.4 347.3L247.7 344.4L251.9 341.4L256.1 338.4L260.3 335.5L264.6 332.5L268.8 329.6L273 326.6L277.3 323.7L281.5 320.7L279.9 318.3L278.3 316L276.8 313.6L275.3 311.2L273.8 308.7L272.4 306.2L271.1 303.7L269.8 301.2L268.5 298.7L267.3 296.1L266.1 293.5L265 290.9L263.9 288.3L262.8 285.6L261.8 282.9L260.9 280.3L260 277.6L259.1 274.9L258.3 272.1L257.6 269.4L256.8 266.6L256.2 263.9L255.6 261.1L255 258.3L254.5 255.5L254 252.7L253.6 249.9L253.2 247.1L252.9 244.2L252.6 241.4L252.4 238.6L252.2 235.7L252.1 232.9L252 230L252 227.2L252 224.4L252.1 221.5L252.2 218.7L252.4 215.8L252.6 213L252.9 210.2L253.2 207.3L253.6 204.5L254 201.7L254.5 198.9L255 196.1L255.6 193.3L256.2 190.5L256.8 187.8L257.6 185L258.3 182.3L259.1 179.5L260 176.8L260.7 174.6L260.8 174.1L261.1 171.2L262.1 168.5L263.1 165.8L264.2 163.2L265.2 160.5L266 157.7L265.9 154.5L265.6 151.1L265.6 150Z"/>
<path fill="#e63c1f" d="M257.8 143.6L257.5 143.3L253 140.8L251 140L248.2 138.8L243.3 137.1L238.1 135.7L234.4 135.2L232.7 135L227 135L226.1 135.1L221 135.4L218.6 135.6L215.1 135.9L211 136.4L209.1 136.6L203.7 137.5L203.1 137.6L197 139L196.7 139L190.9 140.2L189 140.4L185.2 140.7L180 139.8L175.3 137.7L170.9 134.7L168.5 132.6L166.9 130.9L163.1 126.4L161.8 124.9L159.3 122L155.4 117.9L153.8 116.3L151.3 114.3L147.1 111.2L142.7 108.4L138.2 105.8L133.6 103.3L129 100.9L124.5 98.4L120.9 96.2L120 95.7L115.7 92.7L115.3 93.7L113 99L110.8 104.3L108.7 109.6L106.7 115L104.8 120.4L103 125.8L101.2 131.3L99.6 136.8L98.1 142.3L96.6 147.8L95.3 153.4L94.1 159L92.9 164.6L91.9 170.2L90.9 175.9L90.1 181.5L89.3 187.2L88.7 192.9L88.1 198.6L87.7 204.3L87.3 210L87.1 215.7L86.9 221.5L86.9 227.2L86.9 232.9L87.1 238.7L87.3 244.4L87.7 250.1L88.1 255.8L88.7 261.5L89.3 267.2L90.1 272.9L90.9 278.5L91.9 284.2L92.9 289.8L94.1 295.4L95.3 301L96.6 306.6L98.1 312.1L99.6 317.6L101.2 323.1L103 328.6L104.8 334L106.7 339.4L108.7 344.8L110.8 350.1L113 355.4L115.3 360.7L117.6 365.9L120.1 371L122.7 376.2L125.3 381.2L128 386.3L130.9 391.2L133.8 396.2L136.8 401.1L139.8 405.9L143 410.7L146.2 415.4L150.5 412.4L154.7 409.5L158.9 406.5L163.1 403.6L167.4 400.6L171.6 397.6L175.8 394.7L180 391.7L184.3 388.8L188.5 385.8L192.7 382.8L197 379.9L201.2 376.9L205.4 374L209.6 371L213.9 368L218.1 365.1L222.3 362.1L226.5 359.2L230.8 356.2L235 353.2L239.2 350.3L243.4 347.3L247.7 344.4L251.9 341.4L256.1 338.4L260.3 335.5L264.6 332.5L268.8 329.6L273 326.6L277.3 323.7L281 321.1L279.8 318.4L279.8 318.3L278.3 316L276.8 313.6L275.3 311.2L273.8 308.7L272.4 306.2L271.1 303.7L269.8 301.2L268.5 298.7L267.3 296.1L266.1 293.5L265 290.9L263.9 288.3L262.8 285.6L261.8 282.9L260.9 280.3L260 277.6L259.1 274.9L258.3 272.1L257.6 269.4L256.8 266.6L256.2 263.9L255.6 261.1L255 258.3L254.5 255.5L254 252.7L253.6 249.9L253.2 247.1L252.9 244.2L252.6 241.4L252.4 238.6L252.2 235.7L252.1 232.9L252 230L252 227.2L252 224.4L252.1 221.5L252.2 218.7L252.4 215.8L252.6 213L252.9 210.2L253.2 207.3L253.6 204.5L254 201.7L254.5 198.9L255 196.1L255.6 193.3L256.2 190.5L256.8 187.8L257.6 185L258.3 182.3L259.1 179.5L259.7 177.7L259.8 176.8L260.1 173.9L260.4 170.9L261.3 168.2L262.3 165.5L263.2 162.8L264 160L264.6 157.1L264.4 153.8L264.3 152.6L262.8 149.7L261.5 146.8Z"/>
<path fill="#e7401f" d="M258.5 147.5L256.4 145.4L252 142.7L247.3 140.6L242.3 138.9L240.9 138.5L237.2 137.6L231.7 137L230.1 137L226 137L222.2 137.3L220.1 137.4L214.5 137.9L214.2 138L208.2 138.8L207.1 138.9L202.1 139.9L200.1 140.4L196 141.4L193.2 142.1L190 142.7L184.3 143.2L179.1 142.2L174.4 140.2L172 138.8L169.9 137.3L165.8 133.6L162.3 130.2L161.8 129.6L158.1 125.1L155.8 122.5L154.2 120.7L150.3 116.8L146.1 113.4L144.6 112.4L141.7 110.5L137.3 107.8L132.8 105.3L128.2 102.7L123.7 100.2L119.3 97.5L114.9 94.7L113 99L110.8 104.3L108.7 109.6L106.7 115L104.8 120.4L103 125.8L101.2 131.3L99.6 136.8L98.1 142.3L96.6 147.8L95.3 153.4L94.1 159L92.9 164.6L91.9 170.2L90.9 175.9L90.1 181.5L89.3 187.2L88.7 192.9L88.1 198.6L87.7 204.3L87.3 210L87.1 215.7L86.9 221.5L86.9 227.2L86.9 232.9L87.1 238.7L87.3 244.4L87.7 250.1L88.1 255.8L88.7 261.5L89.3 267.2L90.1 272.9L90.9 278.5L91.9 284.2L92.9 289.8L94.1 295.4L95.3 301L96.6 306.6L98.1 312.1L99.6 317.6L101.2 323.1L103 328.6L104.8 334L106.7 339.4L108.7 344.8L110.8 350.1L113 355.4L115.3 360.7L117.6 365.9L120.1 371L122.7 376.2L125.3 381.2L128 386.3L130.9 391.2L133.8 396.2L136.8 401.1L139.8 405.9L143 410.7L146.2 415.4L150.5 412.4L154.7 409.5L158.9 406.5L163.1 403.6L167.4 400.6L171.6 397.6L175.8 394.7L180 391.7L184.3 388.8L188.5 385.8L192.7 382.8L197 379.9L201.2 376.9L205.4 374L209.6 371L213.9 368L218.1 365.1L222.3 362.1L226.5 359.2L230.8 356.2L235 353.2L239.2 350.3L243.4 347.3L247.7 344.4L251.9 341.4L256.1 338.4L260.3 335.5L264.6 332.5L268.8 329.6L273 326.6L277.3 323.7L280.5 321.4L279.3 318.7L278.4 316.1L278.3 316L276.8 313.6L275.3 311.2L273.8 308.7L272.4 306.2L271.1 303.7L269.8 301.2L268.5 298.7L267.3 296.1L266.1 293.5L265 290.9L263.9 288.3L262.8 285.6L261.8 282.9L260.9 280.3L260 277.6L259.1 274.9L258.3 272.1L257.6 269.4L256.8 266.6L256.2 263.9L255.6 261.1L255 258.3L254.5 255.5L254 252.7L253.6 249.9L253.2 247.1L252.9 244.2L252.6 241.4L252.4 238.6L252.2 235.7L252.1 232.9L252 230L252 227.2L252 224.4L252.1 221.5L252.2 218.7L252.4 215.8L252.6 213L252.9 210.2L253.2 207.3L253.6 204.5L254 201.7L254.5 198.9L255 196.1L255.6 193.3L256.2 190.5L256.8 187.8L257.6 185L258.3 182.3L258.7 181L258.8 179.5L259.1 176.6L259.4 173.6L259.8 170.7L260.6 167.9L261.4 165.2L262.2 162.4L262.9 159.5L263.3 156.5L263.2 154.9L262.1 152.6L260.3 149.1Z"/>
<path fill="#e9441f" d="M259.3 151.3L259.2 151.2L255.4 147.4L251 144.6L246.3 142.4L241.4 140.7L236.2 139.5L235 139.4L230.8 139L225.8 139L225.1 139L219.2 139.3L217.8 139.4L213.3 139.9L210.3 140.3L207.3 140.8L203.3 141.7L201.2 142.2L196.6 143.4L195.1 143.8L189.2 145L189.1 145L183.6 145.2L178.5 144.2L173.7 142.1L169.2 139.3L164.9 136.2L160.8 132.2L156.9 128.1L153.1 123.6L149.8 120L149.2 119.5L145.1 115.9L140.8 112.7L136.4 109.9L131.9 107.2L130.9 106.6L127.4 104.6L122.9 102L118.5 99.3L114.1 96.4L113 99L110.8 104.3L108.7 109.6L106.7 115L104.8 120.4L103 125.8L101.2 131.3L99.6 136.8L98.1 142.3L96.6 147.8L95.3 153.4L94.1 159L92.9 164.6L91.9 170.2L90.9 175.9L90.1 181.5L89.3 187.2L88.7 192.9L88.1 198.6L87.7 204.3L87.3 210L87.1 215.7L86.9 221.5L86.9 227.2L86.9 232.9L87.1 238.7L87.3 244.4L87.7 250.1L88.1 255.8L88.7 261.5L89.3 267.2L90.1 272.9L90.9 278.5L91.9 284.2L92.9 289.8L94.1 295.4L95.3 301L96.6 306.6L98.1 312.1L99.6 317.6L101.2 323.1L103 328.6L104.8 334L106.7 339.4L108.7 344.8L110.8 350.1L113 355.4L115.3 360.7L117.6 365.9L120.1 371L122.7 376.2L125.3 381.2L128 386.3L130.9 391.2L133.8 396.2L136.8 401.1L139.8 405.9L143 410.7L146.2 415.4L150.5 412.4L154.7 409.5L158.9 406.5L163.1 403.6L167.4 400.6L171.6 397.6L175.8 394.7L180 391.7L184.3 388.8L188.5 385.8L192.7 382.8L197 379.9L201.2 376.9L205.4 374L209.6 371L213.9 368L218.1 365.1L222.3 362.1L226.5 359.2L230.8 356.2L235 353.2L239.2 350.3L243.4 347.3L247.7 344.4L251.9 341.4L256.1 338.4L260.3 335.5L264.6 332.5L268.8 329.6L273 326.6L277.3 323.7L279.9 321.8L278.8 319.1L277.8 316.3L277.1 314.1L276.8 313.6L275.3 311.2L273.8 308.7L272.4 306.2L271.1 303.7L269.8 301.2L268.5 298.7L267.3 296.1L266.1 293.5L265 290.9L263.9 288.3L262.8 285.6L261.8 282.9L260.9 280.3L260 277.6L259.1 274.9L258.3 272.1L257.6 269.4L256.8 266.6L256.2 263.9L255.6 261.1L255 258.3L254.5 255.5L254 252.7L253.6 249.9L253.2 247.1L252.9 244.2L252.6 241.4L252.4 238.6L252.2 235.7L252.1 232.9L252 230L252 227.2L252 224.4L252.1 221.5L252.2 218.7L252.4 215.8L252.6 213L252.9 210.2L253.2 207.3L253.6 204.5L254 201.7L254.5 198.9L255 196.1L255.6 193.3L256.2 190.5L256.8 187.8L257.6 185L257.9 182.2L258.2 179.3L258.5 176.3L258.7 173.4L259.1 170.4L259.8 167.6L260.6 164.8L261.3 162L261.8 159L262 157.5L261.5 155.6Z"/>
<path fill="#ea481e" d="M252.5 147.9L250.1 146.4L245.4 144.2L243.3 143.5L240.5 142.5L235.3 141.4L229.9 140.9L224.2 140.8L221.3 141L218.4 141.1L213.5 141.7L212.5 141.8L206.5 142.9L206.4 142.9L200.4 144.3L199.6 144.5L194.3 145.9L192.6 146.2L188.4 147L182.9 147.1L181.9 147L177.8 146L173 144L172.7 143.8L168.6 141.2L164.2 138L160 134.6L159.5 134.2L156 130.5L152 126.3L151.8 126.2L148.2 122.1L144.1 118.3L142.9 117.3L139.9 114.9L135.6 111.9L131.2 109.1L126.7 106.4L122.2 103.7L117.7 101L117.6 100.9L113.3 98.2L113 99L110.8 104.3L108.7 109.6L106.7 115L104.8 120.4L103 125.8L101.2 131.3L99.6 136.8L98.1 142.3L96.6 147.8L95.3 153.4L94.1 159L92.9 164.6L91.9 170.2L90.9 175.9L90.1 181.5L89.3 187.2L88.7 192.9L88.1 198.6L87.7 204.3L87.3 210L87.1 215.7L86.9 221.5L86.9 227.2L86.9 232.9L87.1 238.7L87.3 244.4L87.7 250.1L88.1 255.8L88.7 261.5L89.3 267.2L90.1 272.9L90.9 278.5L91.9 284.2L92.9 289.8L94.1 295.4L95.3 301L96.6 306.6L98.1 312.1L99.6 317.6L101.2 323.1L103 328.6L104.8 334L106.7 339.4L108.7 344.8L110.8 350.1L113 355.4L115.3 360.7L117.6 365.9L120.1 371L122.7 376.2L125.3 381.2L128 386.3L130.9 391.2L133.8 396.2L136.8 401.1L139.8 405.9L143 410.7L146.2 415.4L150.5 412.4L154.7 409.5L158.9 406.5L163.1 403.6L167.4 400.6L171.6 397.6L175.8 394.7L180 391.7L184.3 388.8L188.5 385.8L192.7 382.8L197 379.9L200.1 375.4L204.1 372L209.1 370.2L210.9 370.1L213.9 368L218.1 365.1L222.3 362.1L226.5 359.2L230.8 356.2L235 353.2L239.2 350.3L243.4 347.3L247.7 344.4L251.9 341.4L256.1 338.4L260.3 335.5L264.6 332.5L268.8 329.6L273 326.6L277.3 323.7L279.4 322.1L278.3 319.4L277.2 316.7L276.4 313.8L276 312.3L275.3 311.2L273.8 308.7L272.4 306.2L271.1 303.7L269.8 301.2L268.5 298.7L267.3 296.1L266.1 293.5L265 290.9L263.9 288.3L262.8 285.6L261.8 282.9L260.9 280.3L260 277.6L259.1 274.9L258.3 272.1L257.6 269.4L256.8 266.6L256.2 263.9L255.6 261.1L255 258.3L254.5 255.5L254 252.7L253.6 249.9L253.2 247.1L252.9 244.2L252.6 241.4L252.4 238.6L252.2 235.7L252.1 232.9L252 230L252 227.2L252 224.4L252.1 221.5L252.2 218.7L252.4 215.8L252.6 213L252.9 210.2L253.2 207.3L253.6 204.5L254 201.7L254.5 198.9L255 196.1L255.6 193.3L256.2 190.5L256.8 187.8L257 187.2L256.9 184.8L257.2 182L257.5 179.1L257.8 176.1L258.1 173.2L258.4 170.2L259.1 167.3L259.7 164.5L260.3 161.5L260.4 161.1L260.1 158.2L259 154.4L258.3 153.1L254.5 149.2Z"/>
<path fill="#eb4c1e" d="M255.1 152.6L253.6 151.1L249.2 148.2L244.6 146L239.6 144.3L235.5 143.5L234.4 143.3L229.1 142.6L225 142.6L223.4 142.6L217.7 142.9L216.6 143L211.8 143.6L209.3 144.1L205.7 144.8L202.4 145.6L199.6 146.3L195.6 147.4L193.6 147.8L187.7 148.9L187.5 148.9L182.3 148.8L177.3 147.6L172.5 145.5L168 142.9L165.7 141.4L163.6 139.8L159.3 136.4L155.1 132.8L154.7 132.4L151.1 128.7L147.2 124.6L146.7 124.2L143.2 120.6L139 117.1L135 114.1L134.7 113.9L130.4 110.9L125.9 108.1L121.5 105.4L117 102.7L112.6 99.9L110.8 104.3L108.7 109.6L106.7 115L104.8 120.4L103 125.8L101.2 131.3L99.6 136.8L98.1 142.3L96.6 147.8L95.3 153.4L94.1 159L92.9 164.6L91.9 170.2L90.9 175.9L90.1 181.5L89.3 187.2L88.7 192.9L88.1 198.6L87.7 204.3L87.3 210L87.1 215.7L86.9 221.5L86.9 227.2L86.9 232.9L87.1 238.7L87.3 244.4L87.7 250.1L88.1 255.8L88.7 261.5L89.3 267.2L90.1 272.9L90.9 278.5L91.9 284.2L92.9 289.8L94.1 295.4L95.3 301L96.6 306.6L98.1 312.1L99.6 317.6L101.2 323.1L103 328.6L104.8 334L106.7 339.4L108.7 344.8L110.8 350.1L113 355.4L115.3 360.7L117.6 365.9L120.1 371L122.7 376.2L125.3 381.2L128 386.3L130.9 391.2L133.8 396.2L136.8 401.1L139.8 405.9L143 410.7L146.2 415.4L150.1 411.9L154.1 408.7L158.5 405.9L163.1 403.6L167.4 400.6L171.6 397.6L175.8 394.7L180 391.7L183.6 387.8L186.9 383.4L189.1 379.6L189.7 378.4L192.4 373.2L195.1 370L195.9 369.1L200.3 366.5L200.7 366.4L205.7 365.1L210.3 365.2L211.9 365.2L216.3 366.3L218.1 365.1L222.3 362.1L226.5 359.2L230.8 356.2L235 353.2L239.2 350.3L243.4 347.3L247.7 344.4L251.9 341.4L256.1 338.4L260.3 335.5L264.6 332.5L268.8 329.6L273 326.6L277.3 323.7L278.9 322.5L277.7 319.8L276.7 317L275.8 314.2L275 311.3L274.9 310.5L273.8 308.7L272.4 306.2L271.1 303.7L269.8 301.2L268.5 298.7L267.3 296.1L266.1 293.5L265 290.9L263.9 288.3L262.8 285.6L261.8 282.9L260.9 280.3L260 277.6L259.1 274.9L258.3 272.1L257.6 269.4L256.8 266.6L256.2 263.9L255.6 261.1L255 258.3L254.5 255.5L254 252.7L253.6 249.9L253.2 247.1L252.9 244.2L252.6 241.4L252.4 238.6L252.2 235.7L252.1 232.9L252 230L252 227.2L252 224.4L252.1 221.5L252.2 218.7L252.4 215.8L252.6 213L252.9 210.2L253.2 207.3L253.6 204.5L254 201.7L254.5 198.9L255 196.1L255.6 193.3L256.2 190.5L256.4 189.6L256.3 187.6L256.3 184.7L256.6 181.8L256.9 178.9L257.1 175.9L257.4 172.9L257.7 169.9L258.3 167L258.7 165.3L258.7 164.1L258.6 160.8L258 157.3L257.3 155.3Z"/>
<path fill="#ec501e" d="M255.2 156.1L252.7 153L248.4 150L243.7 147.8L238.8 146.1L233.7 145L229.3 144.5L228.3 144.4L222.7 144.3L220 144.4L216.9 144.6L212.2 145.3L211 145.4L205.2 146.7L205 146.7L198.9 148.2L198.4 148.4L192.9 149.7L190.9 150L187.2 150.5L181.8 150.5L176.7 149.2L172 147.1L167.5 144.4L163 141.4L160.4 139.5L158.7 138.2L154.5 134.6L150.3 131L150 130.8L146.3 126.9L142.3 122.9L141.4 122.2L138.2 119.2L134 115.9L129.6 112.8L126.1 110.5L125.2 109.9L120.8 107.1L116.4 104.3L111.9 101.5L110.8 104.3L108.7 109.6L106.7 115L104.8 120.4L103 125.8L101.2 131.3L99.6 136.8L98.1 142.3L96.6 147.8L95.3 153.4L94.1 159L92.9 164.6L91.9 170.2L90.9 175.9L90.1 181.5L89.3 187.2L88.7 192.9L88.1 198.6L87.7 204.3L87.3 210L87.1 215.7L86.9 221.5L86.9 227.2L86.9 232.9L87.1 238.7L87.3 244.4L87.7 250.1L88.1 255.8L88.7 261.5L89.3 267.2L90.1 272.9L90.9 278.5L91.9 284.2L92.9 289.8L94.1 295.4L95.3 301L96.6 306.6L98.1 312.1L99.6 317.6L101.2 323.1L103 328.6L104.8 334L106.7 339.4L108.7 344.8L110.8 350.1L113 355.4L115.3 360.7L117.6 365.9L120.1 371L122.7 376.2L125.3 381.2L128 386.3L130.9 391.2L133.8 396.2L136.8 401.1L139.8 405.9L143 410.7L143.6 411.6L145 409.3L146.4 406.5L149.6 401.9L153.3 398.2L157.8 395.6L162.7 393.7L167.7 391.9L172.3 389.6L176.4 386.4L179.8 382.1L181.5 378.9L182.4 376.7L184.9 371.1L185 370.9L188.2 366.5L192.3 363.3L197.1 361.3L201.6 360.5L202.6 360.3L208.9 360.6L209.3 360.8L214.9 362.2L216.3 362.5L219.9 363.8L222.3 362.1L226.5 359.2L230.8 356.2L235 353.2L239.2 350.3L243.4 347.3L247.7 344.4L251.9 341.4L256.1 338.4L260.3 335.5L264.6 332.5L268.8 329.6L273 326.6L277.3 323.7L278.4 322.8L277.2 320.1L276.1 317.4L275.2 314.6L274.4 311.7L273.8 308.7L272.4 306.2L271.1 303.7L269.8 301.2L268.5 298.7L267.3 296.1L266.1 293.5L265 290.9L263.9 288.3L262.8 285.6L261.8 282.9L260.9 280.3L260 277.6L259.1 274.9L258.3 272.1L257.6 269.4L256.8 266.6L256.2 263.9L255.6 261.1L255 258.3L254.5 255.5L254 252.7L253.6 249.9L253.2 247.1L252.9 244.2L252.6 241.4L252.4 238.6L252.2 235.7L252.1 232.9L252 230L252 227.2L252 224.4L252.1 221.5L252.2 218.7L252.4 215.8L252.6 213L252.9 210.2L253.2 207.3L253.6 204.5L254 201.7L254.5 198.9L255 196.1L255.6 193.3L255.9 192L255.8 190.4L255.7 187.5L255.6 184.5L255.9 181.6L256.2 178.7L256.5 175.7L256.7 172.7L257 169.7L257.1 166.6L257.2 163.4L256.8 160.1L256.3 157.6Z"/>
<path fill="#ed551e" d="M250.4 153.9L247.6 151.8L242.9 149.5L238 147.9L235.6 147.3L232.9 146.7L227.5 146L223.6 146L222 145.9L216.2 146.3L215.2 146.5L210.3 147.2L207.9 147.7L204.3 148.5L201 149.3L198.3 150L193.9 151.1L192.3 151.4L186.6 152.2L184.1 152.2L181.2 152.1L176.2 150.7L171.5 148.6L169.5 147.4L167 145.9L162.5 142.9L158.1 139.8L155.5 137.8L153.8 136.4L149.6 132.8L145.5 129.1L141.5 125.1L137.4 121.3L135.8 120L133.2 117.9L128.9 114.6L124.5 111.6L120.1 108.8L117 106.8L115.7 106L111.3 103.1L110.8 104.3L108.7 109.6L106.7 115L104.8 120.4L103 125.8L101.2 131.3L99.6 136.8L98.1 142.3L96.6 147.8L95.3 153.4L94.1 159L92.9 164.6L91.9 170.2L90.9 175.9L90.1 181.5L89.3 187.2L88.7 192.9L88.1 198.6L87.7 204.3L87.3 210L87.1 215.7L86.9 221.5L86.9 227.2L86.9 232.9L87.1 238.7L87.3 244.4L87.7 250.1L88.1 255.8L88.7 261.5L89.3 267.2L90.1 272.9L90.9 278.5L91.9 284.2L92.9 289.8L94.1 295.4L95.3 301L96.6 306.6L98.1 312.1L99.6 317.6L101.2 323.1L103 328.6L104.8 334L106.7 339.4L108.7 344.8L110.8 350.1L113 355.4L115.3 360.7L117.6 365.9L120.1 371L122.7 376.2L125.3 381.2L128 386.3L130.9 391.2L133.8 396.2L136.8 401.1L139.8 405.9L141.1 407.8L142.6 404.1L143.5 402L146.4 397L149.8 392.9L149.9 392.9L154 389.6L158.4 387L162.8 384.8L163 384.7L167.6 382.3L169.9 380.4L171.6 378.9L174.6 374L176.1 370.7L177.3 368.5L180.6 363.8L184.5 360.3L189.1 357.9L194.2 356.4L199.8 355.8L200.9 355.8L206 356.1L207.9 356.6L213.3 358L213.5 358.1L218.2 359.9L221.7 361.2L222.8 361.7L226.5 359.2L230.8 356.2L235 353.2L239.2 350.3L243.4 347.3L247.7 344.4L251.9 341.4L256.1 338.4L260.3 335.5L264.6 332.5L268.8 329.6L273 326.6L277.3 323.7L277.9 323.2L276.7 320.5L275.6 317.7L274.6 314.9L273.8 312.1L273.1 309.1L272.5 306.3L272.4 306.2L271.1 303.7L269.8 301.2L268.5 298.7L267.3 296.1L266.1 293.5L265 290.9L263.9 288.3L262.8 285.6L261.8 282.9L260.9 280.3L260 277.6L259.1 274.9L258.3 272.1L257.6 269.4L256.8 266.6L256.2 263.9L255.6 261.1L255 258.3L254.5 255.5L254 252.7L253.6 249.9L253.2 247.1L252.9 244.2L252.6 241.4L252.4 238.6L252.2 235.7L252.1 232.9L252 230L252 227.2L252 224.4L252.1 221.5L252.2 218.7L252.4 215.8L252.6 213L252.9 210.2L253.2 207.3L253.6 204.5L254 201.7L254.5 198.9L255 196.1L255.3 194.5L255.2 193.2L255.1 190.3L255 187.3L255 184.3L255.3 181.4L255.6 178.5L255.8 175.5L256 172.5L256 172.4L255.7 169.2L255.8 166.1L255.6 162.8L255.2 160.1L254.7 159.2L251.8 155Z"/>
<path fill="#ee5a1d" d="M251.4 157.8L250.9 157L246.7 153.7L242.1 151.3L237.3 149.5L232.2 148.3L228 147.8L226.8 147.7L221.3 147.6L218.4 147.8L215.6 148L210.7 148.8L209.7 148.9L203.7 150.3L197.7 151.8L196.6 152L191.8 153.1L188.4 153.6L186.1 153.8L180.8 153.6L175.8 152.2L171.1 150L166.5 147.3L163.8 145.6L162 144.4L157.6 141.3L153.3 138.1L150.8 136.2L149 134.6L144.8 130.9L140.9 127.4L140.7 127.2L136.6 123.4L132.4 119.8L129.7 117.7L128.2 116.5L123.8 113.4L119.5 110.5L115 107.6L110.6 104.8L108.7 109.6L106.7 115L104.8 120.4L103 125.8L101.2 131.3L99.6 136.8L98.1 142.3L96.6 147.8L95.3 153.4L94.1 159L92.9 164.6L91.9 170.2L90.9 175.9L90.1 181.5L89.3 187.2L88.7 192.9L88.1 198.6L87.7 204.3L87.3 210L87.1 215.7L86.9 221.5L86.9 227.2L86.9 232.9L87.1 238.7L87.3 244.4L87.7 250.1L88.1 255.8L88.7 261.5L89.3 267.2L90.1 272.9L90.9 278.5L91.9 284.2L92.9 289.8L94.1 295.4L95.3 301L96.6 306.6L98.1 312.1L99.6 317.6L101.2 323.1L103 328.6L104.8 334L106.7 339.4L108.7 344.8L110.8 350.1L113 355.4L115.3 360.7L117.6 365.9L120.1 371L122.7 376.2L125.3 381.2L128 386.3L130.9 391.2L133.8 396.2L136.8 401.1L138.7 404.2L140.7 398.6L140.9 398L143.9 393L147.3 388.6L148.7 387.2L151.1 384.9L155.1 381.6L159.2 378.3L163.1 374.8L166.6 370.6L169.9 366L173.3 361.4L173.8 360.9L177.2 357.8L181.5 355L186.3 353.1L189 352.5L191.6 351.9L197.2 351.4L199.7 351.5L203.4 351.7L206.6 352.4L210.4 353.4L212 354L216.7 356L218.7 356.7L221.2 358L225.5 359.9L226.5 359.2L230.8 356.2L235 353.2L239.2 350.3L243.4 347.3L247.7 344.4L251.9 341.4L256.1 338.4L260.3 335.5L264.6 332.5L268.8 329.6L273 326.6L277.3 323.7L277.4 323.6L276.2 320.8L275 318.1L274 315.3L273.1 312.4L272.5 309.5L271.7 306.6L271.2 303.9L271.1 303.7L269.8 301.2L268.5 298.7L267.3 296.1L266.1 293.5L265 290.9L263.9 288.3L262.8 285.6L261.8 282.9L260.9 280.3L260 277.6L259.1 274.9L258.3 272.1L257.6 269.4L256.8 266.6L256.2 263.9L255.6 261.1L255 258.3L254.5 255.5L254 252.7L253.6 249.9L253.2 247.1L252.9 244.2L252.6 241.4L252.4 238.6L252.2 235.7L252.1 232.9L252 230L252 227.2L252 224.4L252.1 221.5L252.2 218.7L252.4 215.8L252.6 213L252.9 210.2L253.2 207.3L253.6 204.5L254 201.7L254.5 198.9L254.9 196.8L254.8 196.1L254.5 193.1L254.4 190.1L254.3 187.1L254.3 184.2L254.6 181.2L254.9 178.3L255.1 175.3L255.1 175L254.8 172L254.5 168.8L254.4 165.5L254.1 162.7L253.8 162.1Z"/>
<path fill="#ef5e1d" d="M245.4 155.2L241.4 153L236.5 151.2L235.3 150.9L231.5 150L226.2 149.3L222 149.2L220.6 149.2L214.9 149.7L213.6 149.9L209 150.6L206.3 151.2L203.1 152L199.3 152.9L197.1 153.4L191.7 154.6L191.2 154.7L185.6 155.4L180.3 155.1L175.3 153.6L170.6 151.4L166.1 148.7L161.6 145.8L158.9 144L157.1 142.8L152.7 139.6L148.4 136.3L146.3 134.7L144.2 132.8L140 129.1L136.1 125.7L135.8 125.4L131.7 121.7L127.5 118.3L123.3 115.2L123.2 115.1L118.8 112.1L114.4 109.2L110 106.4L108.7 109.6L106.7 115L104.8 120.4L103 125.8L101.2 131.3L99.6 136.8L98.1 142.3L96.6 147.8L95.3 153.4L94.1 159L92.9 164.6L91.9 170.2L90.9 175.9L90.1 181.5L89.3 187.2L88.7 192.9L88.1 198.6L87.7 204.3L87.3 210L87.1 215.7L86.9 221.5L86.9 227.2L86.9 232.9L87.1 238.7L87.3 244.4L87.7 250.1L88.1 255.8L88.7 261.5L89.3 267.2L90.1 272.9L90.9 278.5L91.9 284.2L92.9 289.8L94.1 295.4L95.3 301L96.6 306.6L98.1 312.1L99.6 317.6L101.2 323.1L103 328.6L104.8 334L106.7 339.4L108.7 344.8L110.8 350.1L113 355.4L115.3 360.7L117.6 365.9L120.1 371L122.7 376.2L125.3 381.2L128 386.3L130.9 391.2L133.8 396.2L136.5 400.6L138.8 394.5L139.9 392.5L141.8 389.4L145.2 385L148.7 380.9L152.5 377.1L156.2 373.2L159.8 369L160.1 368.5L163.3 364.7L166.7 360.2L168.4 358.3L170.5 356.3L174.6 353L179.1 350.5L184 348.7L188.3 347.7L189.2 347.6L194.8 347.1L198.4 347.3L200.9 347.4L205.3 348.3L207.6 348.8L210.7 349.9L215.5 351.9L215.6 351.9L219.7 354L223.9 356.1L224.7 356.4L228.2 358L230.8 356.2L235 353.2L239.2 350.3L243.4 347.3L247.7 344.4L251.9 341.4L256.1 338.4L260.3 335.5L264.6 332.5L268.8 329.6L273 326.6L276.5 324.2L275.8 321.5L275.6 321.2L274.5 318.4L273.4 315.7L272.5 312.8L271.8 309.9L271 307L270.3 304.1L269.9 301.4L269.8 301.2L268.5 298.7L267.3 296.1L266.1 293.5L265 290.9L263.9 288.3L262.8 285.6L261.8 282.9L260.9 280.3L260 277.6L259.1 274.9L258.3 272.1L257.6 269.4L256.8 266.6L256.2 263.9L255.6 261.1L255 258.3L254.5 255.5L254 252.7L253.6 249.9L253.2 247.1L252.9 244.2L252.6 241.4L252.4 238.6L252.2 235.7L252.1 232.9L252 230L252 227.2L252 224.4L252.1 221.5L252.2 218.7L252.4 215.8L252.6 213L252.9 210.2L253.2 207.3L253.6 204.5L254 201.7L254.5 198.9L254 195.9L253.7 192.9L253.7 189.9L253.7 187L253.7 184L254 181L254.2 178L254.3 177.8L254 174.9L253.6 171.6L253.2 168.3L253 165.5L252.8 165L251.1 161L250 159.1L245.9 155.5Z"/>
<path fill="#f0631d" d="M247.4 159.5L245.2 157.4L240.7 154.8L235.9 152.9L230.8 151.6L226.4 151L225.5 150.9L220 150.8L216.7 151.1L214.3 151.3L209 152.2L208.4 152.3L202.5 153.6L201.8 153.8L196.5 155.1L194.4 155.5L190.7 156.3L185.1 156.9L185 156.9L179.9 156.5L174.9 155L170.2 152.8L168.7 151.9L165.6 150.1L161.2 147.1L156.7 144.2L154 142.4L152.2 141.1L147.9 137.9L143.6 134.6L141.8 133.1L139.3 131L135.2 127.3L131.2 123.9L131 123.7L126.8 120.2L122.5 116.9L118.1 113.8L116.2 112.5L113.7 110.9L109.3 108L108.7 109.6L106.7 115L104.8 120.4L103 125.8L101.2 131.3L99.6 136.8L98.1 142.3L96.6 147.8L95.3 153.4L94.1 159L92.9 164.6L91.9 170.2L90.9 175.9L90.1 181.5L89.3 187.2L88.7 192.9L88.1 198.6L87.7 204.3L87.3 210L87.1 215.7L86.9 221.5L86.9 227.2L86.9 232.9L87.1 238.7L87.3 244.4L87.7 250.1L88.1 255.8L88.7 261.5L89.3 267.2L90.1 272.9L90.9 278.5L91.9 284.2L92.9 289.8L94.1 295.4L95.3 301L96.6 306.6L98.1 312.1L99.6 317.6L101.2 323.1L103 328.6L104.8 334L106.7 339.4L108.7 344.8L110.8 350.1L113 355.4L115.3 360.7L117.6 365.9L120.1 371L122.7 376.2L125.3 381.2L128 386.3L130.9 391.2L133.8 396.2L134.5 397.4L135.2 395.3L136.9 391.4L139.9 386.2L140.1 385.9L143.3 381.8L146.8 377.6L149.5 374.4L150.4 373.3L154 369.1L157.4 364.6L157.9 363.9L160.9 360.3L164.5 356L166.9 353.6L168.4 352.2L172.6 349.1L177 346.5L181.9 344.6L186.6 343.6L187.1 343.5L192.7 343L197 343.1L198.6 343.2L204.2 344.1L205 344.2L209.7 345.8L212.5 346.9L214.3 347.8L218.5 350L221.4 351.6L222.5 352.2L226.5 354.3L230.8 356.2L235 353.2L239.2 350.3L243.4 347.3L247.7 344.4L251.9 341.4L256.1 338.4L260.3 335.5L264.6 332.5L268.8 329.6L273 326.6L275.5 324.9L274.7 321.9L273.9 318.8L273.9 318.6L272.9 316L271.9 313.2L271.1 310.3L270.3 307.4L269.6 304.5L269 301.6L268.6 298.9L268.5 298.7L267.3 296.1L266.1 293.5L265 290.9L263.9 288.3L262.8 285.6L261.8 282.9L260.9 280.3L260 277.6L259.1 274.9L258.3 272.1L257.6 269.4L256.8 266.6L256.2 263.9L255.6 261.1L255 258.3L254.5 255.5L254 252.7L253.6 249.9L253.2 247.1L252.9 244.2L252.6 241.4L252.4 238.6L252.2 235.7L252.1 232.9L252 230L252 227.2L252 224.4L252.1 221.5L252.2 218.7L252.4 215.8L252.6 213L252.9 210.2L253.2 207.3L253.6 204.5L254 201.7L254.2 200.4L253.7 198.7L253.2 195.7L253 192.8L252.9 189.8L253 186.8L253 183.8L253.3 180.9L253.3 180.8L253.1 177.7L252.8 174.5L252.4 171.2L252 168.2L251.9 167.8L250.5 164L249.1 161.3Z"/>
<path fill="#f0681c" d="M237.1 155.3L235.2 154.5L235.1 154.5L230.2 153.2L224.9 152.5L220.2 152.4L219.4 152.4L213.7 153L211.9 153.3L207.8 154L204.5 154.7L201.9 155.3L197.2 156.4L196 156.7L190.2 157.9L188.7 158L184.7 158.4L179.4 157.9L174.5 156.4L169.8 154.2L165.2 151.4L163.5 150.3L160.7 148.5L156.2 145.6L151.8 142.6L149.2 140.8L147.3 139.5L143 136.2L138.7 132.8L137.2 131.6L134.5 129.2L130.3 125.6L126.1 122L121.8 118.7L117.5 115.6L113.1 112.6L108.7 109.7L106.7 115L104.8 120.4L103 125.8L101.2 131.3L99.6 136.8L98.1 142.3L96.6 147.8L95.3 153.4L94.1 159L92.9 164.6L91.9 170.2L90.9 175.9L90.1 181.5L89.3 187.2L88.7 192.9L88.1 198.6L87.7 204.3L87.3 210L87.1 215.7L86.9 221.5L86.9 227.2L86.9 232.9L87.1 238.7L87.3 244.4L87.7 250.1L88.1 255.8L88.7 261.5L89.3 267.2L90.1 272.9L90.9 278.5L91.9 284.2L92.9 289.8L94.1 295.4L95.3 301L96.6 306.6L98.1 312.1L99.6 317.6L101.2 323.1L103 328.6L104.8 334L106.7 339.4L108.7 344.8L110.8 350.1L113 355.4L115.3 360.7L117.6 365.9L120.1 371L122.7 376.2L125.3 381.2L128 386.3L130.9 391.2L132.6 394.2L134.9 388.9L135.2 388.4L138.3 383.5L141.6 378.8L141.8 378.7L145.2 374.5L148.6 370.1L150.3 368L152.1 365.7L155.6 361.2L157.9 358.2L159.1 356.8L162.9 352.7L166.7 348.9L168.7 347.3L170.9 345.6L175.3 342.9L180 340.9L184 339.8L185.1 339.6L190.6 339L195.6 339L196.4 339L202.6 339.7L203.1 339.9L208.8 341.5L209.6 341.8L213.4 343.6L217.6 345.8L218 346L221.4 348.1L225.3 350.4L227.7 351.7L229.2 352.5L233.5 354.3L235 353.2L239.2 350.3L243.4 347.3L247.7 344.4L251.9 341.4L256.1 338.4L260.3 335.5L264.6 332.5L268.8 329.6L273 326.6L274.4 325.6L273.6 322.6L272.8 319.5L272.1 316.5L272 315.7L271.3 313.6L270.4 310.7L269.5 307.8L268.8 305L268.2 302L267.7 299.1L267.3 296.1L266.1 293.5L265 290.9L263.9 288.3L262.8 285.6L261.8 282.9L260.9 280.3L260 277.6L259.1 274.9L258.3 272.1L257.6 269.4L256.8 266.6L256.2 263.9L255.6 261.1L255 258.3L254.5 255.5L254 252.7L253.6 249.9L253.2 247.1L252.9 244.2L252.6 241.4L252.4 238.6L252.2 235.7L252.1 232.9L252 230L252 227.2L252 224.4L252.1 221.5L252.2 218.7L252.4 215.8L252.6 213L252.9 210.2L253.2 207.3L253.6 204.5L254 201.8L253.9 201.7L252.8 198.6L252.4 195.6L252.3 192.6L252.2 189.6L252.3 186.6L252.4 184.4L252.3 183.6L252.2 180.5L251.9 177.3L251.6 174.1L251.2 170.8L251.2 170.7L249.7 167L248.3 163.5L247.9 163.1L244.4 159.3L239.9 156.5Z"/>
<path fill="#f16d1c" d="M243.9 161.5L243.6 161.2L239.2 158.3L234.5 156.2L229.5 154.8L224.7 154.1L224.3 154.1L218.8 154.1L215 154.4L213.1 154.6L207.2 155.6L201.4 156.9L199.8 157.3L195.5 158.3L191.9 159L189.8 159.4L184.2 159.9L179 159.4L174.1 157.8L169.4 155.5L164.8 152.8L160.3 149.8L158.8 148.9L155.8 146.9L151.3 144L146.8 141L144.3 139.3L142.5 137.8L138.1 134.5L133.9 131L132.6 129.9L129.6 127.5L125.4 123.9L121.1 120.5L120.5 120L116.8 117.3L112.4 114.3L108 111.4L106.7 115L104.8 120.4L103 125.8L101.2 131.3L99.6 136.8L98.1 142.3L96.6 147.8L95.3 153.4L94.1 159L92.9 164.6L91.9 170.2L90.9 175.9L90.1 181.5L89.3 187.2L88.7 192.9L88.1 198.6L87.7 204.3L87.3 210L87.1 215.7L86.9 221.5L86.9 227.2L86.9 232.9L87.1 238.7L87.3 244.4L87.7 250.1L88.1 255.8L88.7 261.5L89.3 267.2L90.1 272.9L90.9 278.5L91.9 284.2L92.9 289.8L94.1 295.4L95.3 301L96.6 306.6L98.1 312.1L99.6 317.6L101.2 323.1L103 328.6L104.8 334L106.7 339.4L108.7 344.8L110.8 350.1L113 355.4L115.3 360.7L117.6 365.9L120.1 371L122.7 376.2L125.3 381.2L128 386.3L130.9 391.2L133.6 385.7L136.1 381.8L136.8 380.8L140.2 376.3L143.6 371.7L143.9 371.3L147.1 367.3L150.6 362.7L151.5 361.5L154.1 358.3L157.7 353.9L159.6 351.8L161.5 349.9L165.4 346.2L169.5 342.7L173.8 339.7L178.4 337.4L179.3 337.1L183.4 335.9L188.7 335.1L194.1 335L194.4 334.9L200.3 335.4L202.1 335.7L206.9 336.8L208 337.2L212.8 339.3L214.6 340.2L216.9 341.6L220.7 344L224.2 346.3L224.3 346.4L228 348.6L232 350.7L233.7 351.3L236.4 352.2L239.2 350.3L243.4 347.3L247.7 344.4L251.9 341.4L256.1 338.4L260.3 335.5L264.6 332.5L268.8 329.6L273 326.6L273.4 326.4L272.6 323.3L271.8 320.2L271 317.2L270.4 314.1L270.2 312.7L269.7 311.1L268.8 308.3L268 305.4L267.3 302.4L266.8 299.5L266.3 296.5L265.9 293.6L265.8 292.9L265 290.9L263.9 288.3L262.8 285.6L261.8 282.9L260.9 280.3L260 277.6L259.1 274.9L258.3 272.1L257.6 269.4L256.8 266.6L256.2 263.9L255.6 261.1L255 258.3L254.5 255.5L254 252.7L253.6 249.9L253.2 247.1L252.9 244.2L252.6 241.4L252.4 238.6L252.2 235.7L252.1 232.9L252 230L252 227.2L252 224.4L252.1 221.5L252.2 218.7L252.4 215.8L252.6 213L252.9 210.2L253.2 207.3L253.6 204.5L253.8 203.2L253 201.5L252 198.5L251.6 195.4L251.5 192.5L251.5 189.5L251.6 187.5L251.5 186.4L251.1 183.3L251 180.2L250.8 177L250.4 173.7L250.3 173.1L249.2 170.1L247.6 166.3L247.4 165.8Z"/>
<path fill="#f2711c" d="M244.4 165.1L242.9 163.3L238.5 160.1L233.9 157.9L228.9 156.5L223.6 155.7L218.5 155.7L218.2 155.7L212.5 156.3L210.2 156.7L206.7 157.3L202.6 158.2L200.8 158.6L195 159.9L194.9 159.9L189.3 160.9L185 161.3L183.8 161.3L178.6 160.8L173.7 159.2L169 156.9L168.3 156.5L164.4 154.1L159.9 151.2L155.4 148.3L153.8 147.3L150.9 145.5L146.4 142.5L141.9 139.5L139.5 137.7L137.6 136.2L133.3 132.8L129 129.3L127.7 128.3L124.7 125.8L120.5 122.4L116.2 119.2L114.1 117.7L111.8 116.1L107.3 113.2L106.7 115L104.8 120.4L103 125.8L101.2 131.3L99.6 136.8L98.1 142.3L96.6 147.8L95.3 153.4L94.1 159L92.9 164.6L91.9 170.2L90.9 175.9L90.1 181.5L89.3 187.2L88.7 192.9L88.1 198.6L87.7 204.3L87.3 210L87.1 215.7L86.9 221.5L86.9 227.2L86.9 232.9L87.1 238.7L87.3 244.4L87.7 250.1L88.1 255.8L88.7 261.5L89.3 267.2L90.1 272.9L90.9 278.5L91.9 284.2L92.9 289.8L94.1 295.4L95.3 301L96.6 306.6L98.1 312.1L99.6 317.6L101.2 323.1L103 328.6L104.8 334L106.7 339.4L108.7 344.8L110.8 350.1L113 355.4L115.3 360.7L117.6 365.9L120.1 371L122.7 376.2L125.3 381.2L128 386.3L129.3 388.5L131.4 384.4L132.2 383.1L135.5 378.3L138.4 374.3L138.8 373.7L142.3 369.3L145.8 364.7L146.1 364.2L149.3 360.2L152.8 355.7L153.6 354.7L156.5 351.5L160.3 347.5L163.1 344.7L164.2 343.6L168.3 340.1L172.5 336.9L176.9 334.2L181.8 332.4L186.9 331.3L192.5 331L198.3 331.2L201 331.6L204.5 332.1L207.4 333L211.5 334.5L212.4 334.9L216.5 337.2L220.2 339.7L223.7 342.1L227.2 344.5L230.5 346.6L230.9 346.8L234.9 348.7L239 349.9L239.6 350L243.4 347.3L247.7 344.4L251.9 341.4L256.1 338.4L260.3 335.5L264.6 332.5L268.8 329.6L271.6 327.6L271.7 324.7L271.5 324L270.7 320.9L269.9 317.9L269.2 314.8L268.7 311.7L268.3 309.3L268 308.7L267.2 305.8L266.5 302.9L265.9 299.9L265.4 297L265 294L264.6 291L264.4 289.6L263.9 288.3L262.8 285.6L261.8 282.9L260.9 280.3L260 277.6L259.1 274.9L258.3 272.1L257.6 269.4L256.8 266.6L256.2 263.9L255.6 261.1L255 258.3L254.5 255.5L254 252.7L253.6 249.9L253.2 247.1L252.9 244.2L252.6 241.4L252.4 238.6L252.2 235.7L252.1 232.9L252 230L252 227.2L252 224.4L252.1 221.5L252.2 218.7L252.4 215.8L252.6 213L252.9 210.2L253.2 207.3L253.6 204.6L253.5 204.5L252.1 201.4L251.2 198.3L250.9 195.3L250.8 192.3L250.8 191L250.6 189.2L250.3 186.1L250 183L249.9 179.8L249.6 176.6L249.5 175.8L248.6 173.1L247.2 169.4L246.6 168Z"/>
<path fill="#f3761b" d="M239.8 163.4L237.8 161.9L233.2 159.6L228.2 158.1L223.2 157.4L223 157.4L217.6 157.4L213.4 157.8L211.9 157.9L206.1 158.9L205.4 159.1L200.3 160.2L197.8 160.8L194.5 161.5L189.2 162.4L188.8 162.5L183.4 162.8L178.2 162.2L173.3 160.6L168.6 158.3L164 155.5L163.4 155.1L159.5 152.6L155 149.7L150.4 146.9L148.6 145.8L145.9 144L141.4 141L137 137.9L134.5 136.1L132.7 134.6L128.4 131.2L124.1 127.8L122.5 126.5L119.8 124.4L115.5 121.1L111.1 118L106.7 115L104.8 120.4L103 125.8L101.2 131.3L99.6 136.8L98.1 142.3L96.6 147.8L95.3 153.4L94.1 159L92.9 164.6L91.9 170.2L90.9 175.9L90.1 181.5L89.3 187.2L88.7 192.9L88.1 198.6L87.7 204.3L87.3 210L87.1 215.7L86.9 221.5L86.9 227.2L86.9 232.9L87.1 238.7L87.3 244.4L87.7 250.1L88.1 255.8L88.7 261.5L89.3 267.2L90.1 272.9L90.9 278.5L91.9 284.2L92.9 289.8L94.1 295.4L95.3 301L96.6 306.6L98.1 312.1L99.6 317.6L101.2 323.1L103 328.6L104.8 334L106.7 339.4L108.7 344.8L110.8 350.1L113 355.4L115.3 360.7L117.6 365.9L120.1 371L122.7 376.2L125.3 381.2L127.8 385.9L130.9 380.8L133.6 376.8L134.2 376L137.7 371.5L141.1 366.9L141.2 366.7L144.6 362.4L148.1 357.8L148.7 357.1L151.8 353.5L155.5 349.3L157.2 347.4L159.3 345.3L163.2 341.4L167.1 337.6L167.2 337.5L171.2 334.1L175.6 331.2L180.3 329.1L185.3 327.7L190.6 327.1L190.7 327.1L196.4 327.1L199.9 327.5L202.4 327.8L206.8 328.7L208.8 329.3L212 330.6L216.3 332.8L216.5 332.9L220 335.3L223.4 337.8L226.5 340.1L226.7 340.3L230.2 342.7L233.9 344.8L236.2 345.8L238.1 346.5L243.2 347.5L243.4 347.3L247.7 344.4L251.9 341.4L256.1 338.4L260.3 335.5L264.6 332.5L268.8 329.6L269.6 329L269.7 325.2L269.5 321.7L269.5 321.4L268.7 318.6L268 315.6L267.3 312.5L266.7 309.4L266.3 306.3L266.2 305.6L265.6 303.3L265 300.4L264.5 297.4L264 294.4L263.6 291.5L263.3 288.5L263.1 286.3L262.8 285.6L261.8 282.9L260.9 280.3L260 277.6L259.1 274.9L258.3 272.1L257.6 269.4L256.8 266.6L256.2 263.9L255.6 261.1L255 258.3L254.5 255.5L254 252.7L253.6 249.9L253.2 247.1L252.9 244.2L252.6 241.4L252.4 238.6L252.2 235.7L252.1 232.9L252 230L252 227.2L252 224.4L252.1 221.5L252.2 218.7L252.4 215.8L252.6 213L252.9 210.2L253.2 207.3L253.4 205.9L252.5 204.4L251.2 201.3L250.3 198.2L250.1 195.1L250.1 194.4L249.7 192.1L249.4 189L249.1 185.8L248.8 182.7L248.7 179.5L248.6 178.6L247.9 176.1L246.7 172.5L245.8 170.3L244.6 168.5L242.1 165.3Z"/>
<path fill="#f47b1b" d="M241.4 167.4L237.1 163.9L232.5 161.4L227.6 159.9L222.4 159.1L217.1 159L217 159L211.3 159.6L208.5 160.1L205.6 160.6L200.7 161.7L199.8 161.9L194 163.1L192.5 163.4L188.4 164.1L183 164.3L177.8 163.6L172.9 162L168.2 159.7L163.6 156.9L159.1 153.9L158.8 153.7L154.5 151.1L150 148.3L145.4 145.5L143.2 144.1L140.9 142.6L136.5 139.6L132.1 136.4L129.4 134.4L127.7 133.1L123.4 129.7L119.1 126.3L116.7 124.5L114.8 123L110.4 120L106 117L104.8 120.4L103 125.8L101.2 131.3L99.6 136.8L98.1 142.3L96.6 147.8L95.3 153.4L94.1 159L92.9 164.6L91.9 170.2L90.9 175.9L90.1 181.5L89.3 187.2L88.7 192.9L88.1 198.6L87.7 204.3L87.3 210L87.1 215.7L86.9 221.5L86.9 227.2L86.9 232.9L87.1 238.7L87.3 244.4L87.7 250.1L88.1 255.8L88.7 261.5L89.3 267.2L90.1 272.9L90.9 278.5L91.9 284.2L92.9 289.8L94.1 295.4L95.3 301L96.6 306.6L98.1 312.1L99.6 317.6L101.2 323.1L103 328.6L104.8 334L106.7 339.4L108.7 344.8L110.8 350.1L113 355.4L115.3 360.7L117.6 365.9L120.1 371L122.7 376.2L125.3 381.2L126.5 383.5L129.1 379.2L129.7 378.4L133.1 373.8L136.5 369.2L136.6 369L140 364.8L143.5 360.2L144.2 359.3L147.1 355.8L150.8 351.5L152.3 349.7L154.6 347.3L158.4 343.3L161.5 340.1L162.2 339.3L166.1 335.3L170.1 331.5L171.4 330.6L174.4 328.4L179 326L183.9 324.3L188.2 323.5L189.1 323.3L194.6 323.2L198.7 323.5L200.5 323.7L206.1 324.6L206.6 324.8L211.7 326.4L213.5 327.1L216.2 328.5L220 330.9L222.1 332.4L223.4 333.4L226.7 335.9L229.9 338.4L232.6 340.3L233.3 340.7L237.2 342.7L241.2 344L241.7 344.1L247.6 344.3L247.9 344.2L251.9 341.4L256.1 338.4L260.3 335.5L264.6 332.5L266.2 331.4L267.6 327.8L267.6 326.6L267.5 323L267.2 319.5L267.1 317.5L266.7 316.3L266 313.2L265.3 310.2L264.8 307.1L264.4 303.9L264.4 302L264.1 300.8L263.6 297.8L263.1 294.8L262.7 291.9L262.3 288.9L262 285.9L261.8 282.9L260.9 280.3L260 277.6L259.1 274.9L258.3 272.1L257.6 269.4L256.8 266.6L256.2 263.9L255.6 261.1L255 258.3L254.5 255.5L254 252.7L253.6 249.9L253.2 247.1L252.9 244.2L252.6 241.4L252.4 238.6L252.2 235.7L252.1 232.9L252 230L252 227.2L252 224.4L252.1 221.5L252.2 218.7L252.4 215.8L252.6 213L252.9 210.2L253.2 207.3L251.4 204.2L250.2 201.1L249.5 198L249.5 197.5L248.8 194.9L248.4 191.8L248.1 188.7L247.9 185.5L247.7 182.4L247.7 182L247 179L246 175.5L245 172.7L244.4 171.8Z"/>
<path fill="#f4801b" d="M235.9 165.5L231.9 163.3L227 161.7L222.6 160.9L221.8 160.8L216.4 160.8L212 161.2L210.8 161.4L205 162.3L203.8 162.6L199.3 163.6L195.7 164.3L193.6 164.8L188 165.6L185.5 165.7L182.6 165.8L177.4 165.1L172.5 163.5L167.8 161.1L167.5 160.9L163.2 158.3L158.7 155.4L154.1 152.5L153.8 152.3L149.6 149.8L145 147.1L140.4 144.2L137.6 142.4L135.9 141.3L131.5 138.2L127.1 135L124 132.6L122.7 131.7L118.4 128.4L114.1 125.1L110 122.2L109.7 122L105.2 119.1L104.8 120.4L103 125.8L101.2 131.3L99.6 136.8L98.1 142.3L96.6 147.8L95.3 153.4L94.1 159L92.9 164.6L91.9 170.2L90.9 175.9L90.1 181.5L89.3 187.2L88.7 192.9L88.1 198.6L87.7 204.3L87.3 210L87.1 215.7L86.9 221.5L86.9 227.2L86.9 232.9L87.1 238.7L87.3 244.4L87.7 250.1L88.1 255.8L88.7 261.5L89.3 267.2L90.1 272.9L90.9 278.5L91.9 284.2L92.9 289.8L94.1 295.4L95.3 301L96.6 306.6L98.1 312.1L99.6 317.6L101.2 323.1L103 328.6L104.8 334L106.7 339.4L108.7 344.8L110.8 350.1L113 355.4L115.3 360.7L117.6 365.9L120.1 371L122.7 376.2L125.2 381.1L128.6 376.3L132 371.7L132.3 371.2L135.5 367.2L139 362.7L140 361.3L142.6 358.2L146.2 353.8L147.9 351.7L149.9 349.6L153.7 345.5L156.8 342.1L157.5 341.4L161.3 337.2L164.9 333.4L165.1 333L169.1 329.1L173.3 325.8L177.8 323.1L182.6 321.1L187.6 319.8L192.9 319.1L197.7 319.4L198.6 319.5L204.8 320.6L205 320.7L211.2 322.2L211.2 322.3L216 324.3L218.5 325.6L220.1 326.5L223.6 329L226.8 331.5L228 332.5L230 334L233.3 336.4L236.8 338.5L238 339.1L241 340.2L245.3 340.9L246.4 340.9L251 340.1L255.8 338.1L260 335L263.4 330.9L264.2 328.9L265.4 324.6L265.4 324.3L265.1 320.9L264.7 317.5L264.5 314.1L264.4 312.9L263.9 311L263.2 307.9L262.8 304.8L262.6 301.5L262.7 298.4L262.6 298.2L262.2 295.3L261.7 292.3L261.3 289.3L260.9 286.3L260.7 283.4L260.9 280.3L260 277.6L259.1 274.9L258.3 272.1L257.6 269.4L256.8 266.6L256.2 263.9L255.6 261.1L255 258.3L254.5 255.5L254 252.7L253.6 249.9L253.2 247.1L252.9 244.2L252.6 241.4L252.4 238.6L252.2 235.7L252.1 232.9L252 230L252 227.2L252 224.4L252.1 221.5L252.2 218.7L252.4 215.8L252.6 213L252.9 210.2L253.1 208.7L252.1 207.2L250.4 204.1L249.3 201L249.1 199.9L248.2 197.8L247.5 194.6L247.1 191.5L246.9 188.4L246.7 185.7L246.6 185.2L245.9 181.9L245.1 178.5L244.2 175.4L244 174.9L241.4 170.8L240.6 169.6L236.5 165.8Z"/>
<path fill="#f5861a" d="M237.3 169.5L235.7 168L231.2 165.3L226.3 163.5L221.2 162.7L216.2 162.6L215.8 162.6L210.2 163.2L207.2 163.7L204.5 164.1L198.9 165.2L198.8 165.3L193.1 166.5L190 166.9L187.5 167.2L182.2 167.3L177.1 166.6L172.2 165L167.4 162.6L162.8 159.7L162.6 159.6L158.3 156.8L153.7 154L149.1 151.3L148.1 150.7L144.5 148.6L140 145.9L135.4 143L131.8 140.6L130.9 140L126.5 137L122.1 133.8L118 130.7L117.7 130.5L113.3 127.3L108.9 124.3L104.5 121.3L103 125.8L101.2 131.3L99.6 136.8L98.1 142.3L96.6 147.8L95.3 153.4L94.1 159L92.9 164.6L91.9 170.2L90.9 175.9L90.1 181.5L89.3 187.2L88.7 192.9L88.1 198.6L87.7 204.3L87.3 210L87.1 215.7L86.9 221.5L86.9 227.2L86.9 232.9L87.1 238.7L87.3 244.4L87.7 250.1L88.1 255.8L88.7 261.5L89.3 267.2L90.1 272.9L90.9 278.5L91.9 284.2L92.9 289.8L94.1 295.4L95.3 301L96.6 306.6L98.1 312.1L99.6 317.6L101.2 323.1L103 328.6L104.8 334L106.7 339.4L108.7 344.8L110.8 350.1L113 355.4L115.3 360.7L117.6 365.9L120.1 371L122.7 376.2L124.1 378.9L127.5 374.2L128.1 373.4L131 369.7L134.5 365.2L136 363.3L138.1 360.8L141.7 356.4L143.9 353.6L145.4 352L149.1 347.9L152.7 344L152.9 343.7L156.7 339.6L160.5 335.2L164.2 330.8L167.7 327.1L168.1 326.7L172.3 323.3L176.8 320.6L181.5 318.4L186.3 316.6L191.3 315.2L196.7 314.7L198 314.9L202.8 316L204.3 316.6L209.2 318L210.2 318.4L215.6 320.2L215.9 320.3L220.1 322.2L223.7 324.5L223.9 324.6L227.4 327L230.5 329.4L233.6 331.8L233.7 331.9L237.2 334L241 335.9L242.3 336.3L246.2 336.8L248.7 336.7L253.8 335.1L258.1 332.1L261.3 327.7L261.5 326.9L262.2 322.7L262.6 320L262.4 318.9L262 315.6L261.6 312.3L261.4 308.9L261.5 307.6L261.1 305.6L260.9 302.4L260.9 299.1L261 295.7L261.1 294.9L260.7 292.7L260.3 289.7L259.9 286.7L259.6 283.8L259.7 280.7L260 277.6L259.1 274.9L258.3 272.1L257.6 269.4L256.8 266.6L256.2 263.9L255.6 261.1L255 258.3L254.5 255.5L254 252.7L253.6 249.9L253.2 247.1L252.9 244.2L252.6 241.4L252.4 238.6L252.2 235.7L252.1 232.9L252 230L252 227.2L252 224.4L252.1 221.5L252.2 218.7L252.4 215.8L252.6 213L252.9 210.2L252.9 210L250.8 207L249.4 203.9L248.7 202L248.1 200.8L246.8 197.5L246.1 194.4L245.8 191.2L245.7 190L245.3 188L244.7 184.7L244 181.4L243.3 178.4L243.2 177.9L241.1 174L239.8 172.1Z"/>
<path fill="#f68c1a" d="M229.3 166.8L225.7 165.5L224.4 165.3L220.6 164.6L215.2 164.5L211.2 164.9L209.6 165.1L204 166L202.5 166.3L198.3 167.1L193.9 168L192.6 168.2L187.1 168.9L181.8 168.9L179.7 168.5L176.7 168.1L173.3 166.9L171.8 166.4L167 164.1L162.4 161.3L157.9 158.3L153.3 155.6L148.7 152.9L144.1 150.2L141.7 148.8L139.5 147.5L134.9 144.8L130.4 141.9L125.9 138.9L125.6 138.7L121.4 135.9L117 132.7L112.6 129.6L110.9 128.4L108.1 126.6L103.6 123.8L103 125.8L101.2 131.3L99.6 136.8L98.1 142.3L96.6 147.8L95.3 153.4L94.1 159L92.9 164.6L91.9 170.2L90.9 175.9L90.1 181.5L89.3 187.2L88.7 192.9L88.1 198.6L87.7 204.3L87.3 210L87.1 215.7L86.9 221.5L86.9 227.2L86.9 232.9L87.1 238.7L87.3 244.4L87.7 250.1L88.1 255.8L88.7 261.5L89.3 267.2L90.1 272.9L90.9 278.5L91.9 284.2L92.9 289.8L94.1 295.4L95.3 301L96.6 306.6L98.1 312.1L99.6 317.6L101.2 323.1L103 328.6L104.8 334L106.7 339.4L108.7 344.8L110.8 350.1L113 355.4L115.3 360.7L117.6 365.9L120.1 371L122.7 376.2L123 376.8L123.9 375.5L126.5 372.3L130 367.8L132.1 365.2L133.6 363.4L137.2 359L140.1 355.4L140.8 354.5L144.6 350.4L148.4 346.2L148.8 345.7L152.2 342.1L155.9 337.8L156.7 336.8L159.6 333.2L162.9 329L163.3 328.6L167.2 324.4L171.4 321L172.4 320.3L175.9 318.2L180.5 315.8L185.2 313.7L190 311.9L195 310.5L198.9 310.1L200.5 310.3L204.8 312.1L207.1 313.1L209.6 314.4L214 315.9L214.9 316.3L220 318.1L220.8 318.6L224.3 320.2L228 322.5L228.8 323L231.6 324.7L234.9 327L238 329.2L238.2 329.3L242.4 330.9L245.5 331.7L248.1 331.5L251.1 330.9L255.4 328.1L256.6 326.2L258.3 322.9L258.4 321.3L258.6 317.5L258.9 313.7L258.5 310.4L258.5 306.9L259 303.3L259.1 302.9L259 299.9L259.2 296.6L259.4 293.2L259.5 291.1L259.3 290.1L258.9 287.1L258.5 284.2L258.5 281.1L258.7 278L259.1 274.9L258.3 272.1L257.6 269.4L256.8 266.6L256.2 263.9L255.6 261.1L255 258.3L254.5 255.5L254 252.7L253.6 249.9L253.2 247.1L252.9 244.2L252.6 241.4L252.4 238.6L252.2 235.7L252.1 232.9L252 230L252 227.2L252 224.4L252.1 221.5L252.2 218.7L252.4 215.8L252.6 213L252.8 211.5L251.6 210L249.6 206.9L248.4 204.1L248.2 203.8L246.5 200.5L245.4 197.3L244.8 194.3L244.7 194.1L243.9 190.8L243.3 187.6L242.8 184.3L242.3 182L241.9 180.8L240.3 177.1L239 174.7L237.5 172.9L235 170.3L230.5 167.3Z"/>
<path fill="#f6921a" d="M232.2 171.3L229.8 169.7L225 167.7L219.9 166.7L216.7 166.6L214.5 166.5L209 167.1L206.6 167.4L203.4 168L197.8 169L192.2 170L187.5 170.5L186.7 170.5L181.4 170.4L176.3 169.6L171.4 168L166.6 165.7L165.5 165L162 162.9L157.4 160L152.9 157.1L152.4 156.8L148.2 154.5L143.6 151.9L139 149.3L134.9 146.9L134.4 146.6L129.8 143.8L125.3 141L120.8 138L118.7 136.6L116.3 135L111.8 132L107.3 129.1L102.8 126.3L101.2 131.3L99.6 136.8L98.1 142.3L96.6 147.8L95.3 153.4L94.1 159L92.9 164.6L91.9 170.2L90.9 175.9L90.1 181.5L89.3 187.2L88.7 192.9L88.1 198.6L87.7 204.3L87.3 210L87.1 215.7L86.9 221.5L86.9 227.2L86.9 232.9L87.1 238.7L87.3 244.4L87.7 250.1L88.1 255.8L88.7 261.5L89.3 267.2L90.1 272.9L90.9 278.5L91.9 284.2L92.9 289.8L94.1 295.4L95.3 301L96.6 306.6L98.1 312.1L99.6 317.6L101.2 323.1L103 328.6L104.8 334L106.7 339.4L108.7 344.8L110.8 350.1L113 355.4L115.3 360.7L117.6 365.9L120.1 371L122 374.8L125.5 370.4L128.1 367.1L129.1 365.9L132.8 361.6L136.3 357.1L140.1 352.9L143.8 348.7L145 347.4L147.7 344.6L151.5 340.4L153.2 338.3L155.2 335.9L158.8 331.1L159.2 330.5L162.4 326.4L165.7 322.9L166.4 322.2L170.6 318.9L175 316L179.6 313.5L184.3 311.2L189 309.2L193.9 307.5L194.9 307.3L199.1 306.8L204.9 307.4L205.6 307.6L209.8 310.1L211.9 311.2L214.3 312.4L218.7 314L219.5 314.2L224.5 316L225.6 316.5L229.1 317.9L233 319.9L237.3 321.7L240.6 323.3L241.4 323.4L246.9 324L251.3 321.3L253 317L253.8 315.2L254 312.8L254.8 308.8L255.5 307.2L255.7 304.9L256.6 301.1L257.3 299.1L257.4 297.4L257.6 294L257.7 290.8L257.7 287.6L257.7 286.6L257.4 284.6L257.3 281.5L257.4 278.4L257.8 275.3L258.3 272.2L258.3 272.1L257.6 269.4L256.8 266.6L256.2 263.9L255.6 261.1L255 258.3L254.5 255.5L254 252.7L253.6 249.9L253.2 247.1L252.9 244.2L252.6 241.4L252.4 238.6L252.2 235.7L252.1 232.9L252 230L252 227.2L252 224.4L252.1 221.5L252.2 218.7L252.4 215.8L252.6 213L250.2 209.9L248.4 206.7L248.2 206.1L246.5 203.5L245 200.3L244.2 197.9L243.7 197L242.6 193.7L241.9 190.4L241.3 187.1L241.2 186.5L240.4 183.7L239.1 180.1L238.1 177.8L237 176.2L234.2 172.8Z"/>
<path fill="#f79819" d="M110.4 134.1L106.5 131.7L101.9 129.1L101.2 131.3L99.6 136.8L98.1 142.3L96.6 147.8L95.3 153.4L94.1 159L92.9 164.6L91.9 170.2L90.9 175.9L90.1 181.5L89.3 187.2L88.7 192.9L88.1 198.6L87.7 204.3L87.3 210L87.1 215.7L86.9 221.5L86.9 227.2L86.9 232.9L87.1 238.7L87.3 244.4L87.7 250.1L88.1 255.8L88.7 261.5L89.3 267.2L90.1 272.9L90.9 278.5L91.9 284.2L92.9 289.8L94.1 295.4L95.3 301L96.6 306.6L98.1 312.1L99.6 317.6L101.2 323.1L103 328.6L104.8 334L106.7 339.4L108.7 344.8L110.8 350.1L113 355.4L115.3 360.7L117.6 365.9L120.1 371L121 372.9L124.1 369.1L124.6 368.5L128.3 364.2L131.9 359.8L132.7 358.8L135.6 355.5L139.4 351.3L141.4 349L143.1 347.1L147 343L149.8 339.8L150.7 338.7L154.4 334L156 331.9L157.9 329L161.3 324.6L161.6 324.3L165.6 320.2L169.8 316.8L171.1 316L174.3 313.9L178.9 311.4L183.5 309.2L188.3 307.2L193.2 305.6L198.3 304.5L203.7 304.1L209.8 305.9L209.9 305.9L214.2 308.3L216.9 309.6L219 310.4L223.4 311.8L224.5 312L229.8 313.5L230 313.5L235.8 314.6L236.1 314.7L241.9 314.6L246.5 312.3L250.1 308L250.2 307.6L253 302.7L253.2 302.5L254.5 298.7L255.7 295.5L255.7 294.8L255.8 291.5L255.8 288.3L255.8 285.1L256.1 282.2L256.1 281.9L256.1 278.8L256.4 275.7L256.9 272.5L257.6 269.4L256.8 266.6L256.2 263.9L255.6 261.1L255 258.3L254.5 255.5L254 252.7L253.6 249.9L253.2 247.1L252.9 244.2L252.6 241.4L252.4 238.6L252.2 235.7L252.1 232.9L252 230L252 227.2L252 224.4L252.1 221.5L252.2 218.7L252.4 215.8L250.9 212.8L248.8 209.7L247.9 208.2L246.8 206.5L244.9 203.3L243.7 200.7L243.3 200L241.5 196.6L240.5 193.3L240.1 191.6L239.5 189.9L238.5 186.4L237.5 182.9L237.1 181.8L235.6 179.1L233.3 175.8L232.3 174.8L229 172.2L224.3 170L219.2 168.9L213.9 168.7L211.7 168.9L208.4 169.2L202.8 170L202.1 170.2L197.2 171.1L192.6 171.8L191.7 171.9L186.3 172.3L181 172L175.9 171.1L171 169.5L166.2 167.3L161.6 164.6L160.1 163.6L157 161.7L152.4 158.9L147.8 156.2L145.8 155.1L143.1 153.6L138.5 151.1L133.8 148.5L129.2 145.8L127.5 144.7L124.6 143.1L120.1 140.3L115.6 137.4L111 134.5Z"/>
<path fill="#f79e19" d="M119 142.3L114.8 139.9L110.2 137.2L105.6 134.6L101 132L99.6 136.8L98.1 142.3L96.6 147.8L95.3 153.4L94.1 159L92.9 164.6L91.9 170.2L90.9 175.9L90.1 181.5L89.3 187.2L88.7 192.9L88.1 198.6L87.7 204.3L87.3 210L87.1 215.7L86.9 221.5L86.9 227.2L86.9 232.9L87.1 238.7L87.3 244.4L87.7 250.1L88.1 255.8L88.7 261.5L89.3 267.2L90.1 272.9L90.9 278.5L91.9 284.2L92.9 289.8L94.1 295.4L95.3 301L96.6 306.6L98.1 312.1L99.6 317.6L101.2 323.1L103 328.6L104.8 334L106.7 339.4L108.7 344.8L110.8 350.1L113 355.4L115.3 360.7L117.6 365.9L120.1 371L123.8 366.8L127.5 362.5L129 360.5L131.1 358.2L134.9 353.9L137.8 350.6L138.6 349.7L142.5 345.6L146.3 341.4L146.5 341.2L150 336.9L152.8 333.1L153.6 332L157.1 326.9L157.9 325.9L160.9 322.3L164.9 318.2L169.2 315L173.6 312.1L178.2 309.5L182.8 307.2L183.4 306.9L187.6 305.3L192.6 303.7L193.4 303.5L197.7 302.7L203 302.3L207.9 302.6L208.7 302.8L213.6 304.5L215.1 305.3L218.4 306.6L221.7 307.8L224 308.3L227.8 309L231 309.1L233.6 309.4L239 308.7L243.7 306.7L248 303.5L250.1 300.6L251.5 298.9L252.6 296.1L253.8 292.3L254 291.4L254 289L253.9 285.8L254.2 282.6L254.7 279.3L254.9 278.5L255.1 276.1L255.5 272.9L256.1 269.8L256.2 266.8L256.3 264.6L256.2 263.9L255.6 261.1L255 258.3L254.5 255.5L254 252.7L253.6 249.9L253.2 247.1L252.9 244.2L252.6 241.4L252.4 238.6L252.2 235.7L252.1 232.9L252 230L252 227.2L252 224.4L252.1 221.5L252.2 219.5L251.9 218.6L250.6 215.7L249.2 212.7L247.7 210.3L247.1 209.6L244.9 206.3L243.3 203.3L243.1 203L241 199.6L239.3 196.2L239.3 196.1L237.6 192.7L236.4 189.2L235.8 187.1L235.2 185.7L233.6 182L232.3 179.6L230.9 177.9L228.1 175.3L223.5 172.7L218.5 171.4L213.2 171.2L207.7 171.6L207.5 171.6L202.2 172.4L197.8 173.1L196.7 173.2L191.2 173.9L185.9 174L184.1 173.9L180.7 173.6L175.6 172.7L170.6 171.1L169.1 170.4L165.8 169L161.2 166.4L156.5 163.5L154.5 162.2L151.9 160.7L147.3 158.1L142.6 155.6L137.9 153L133.3 150.5L128.6 148L124 145.3L119.4 142.6Z"/>
<path fill="#f8a319" d="M107.8 139.1L104.8 137.5L100 135.3L99.6 136.8L98.1 142.3L96.6 147.8L95.3 153.4L94.1 159L92.9 164.6L91.9 170.2L90.9 175.9L90.1 181.5L89.3 187.2L88.7 192.9L88.1 198.6L87.7 204.3L87.3 210L87.1 215.7L86.9 221.5L86.9 227.2L86.9 232.9L87.1 238.7L87.3 244.4L87.7 250.1L88.1 255.8L88.7 261.5L89.3 267.2L90.1 272.9L90.9 278.5L91.9 284.2L92.9 289.8L94.1 295.4L95.3 301L96.6 306.6L98.1 312.1L99.6 317.6L101.2 323.1L103 328.6L104.8 334L106.7 339.4L108.7 344.8L110.8 350.1L113 355.4L115.3 360.7L117.6 365.9L119.3 369.3L123 365.1L125.3 362.3L126.7 360.8L130.4 356.6L134.1 352.3L134.2 352.2L138 348.2L141.8 344.1L143.1 342.6L145.6 339.8L149.3 335.1L149.9 334.3L152.8 330L154.8 327.1L156.3 324.9L160.1 320.3L160.7 319.8L164.3 316.5L168.6 313.2L172 310.9L173 310.3L177.6 307.8L182.3 305.6L187.1 303.7L192.1 302.2L197.1 301.1L202.1 300.5L202.4 300.5L208 300.8L211.5 301.3L213.9 302.1L217.3 303.1L220.2 304.2L223.1 304.7L226.3 305.4L230.8 305.4L231.9 305.5L237.2 304.7L242 302.8L246.4 299.9L247.7 298.2L250 295.2L250.5 293.6L251.4 290L252 286.5L252.1 286.3L252.2 283.2L252.7 279.9L253.5 276.6L253.8 275.2L254.1 273.3L254.6 270.2L254.7 267.2L254.8 264.2L254.9 261.2L255 258.5L255 258.3L254.5 255.5L254 252.7L253.6 249.9L253.2 247.1L252.9 244.2L252.6 241.4L252.4 238.6L252.2 235.7L252.1 232.9L252 230L252 227.2L252 224.5L252 224.4L251 221.5L249.9 218.5L248.7 215.6L247.5 212.5L245.1 209.3L243.1 206.1L243 205.9L240.7 202.7L238.7 199.4L238.6 199.3L236.2 195.7L234.7 192.5L234.4 192.1L232.5 188.4L231 184.8L230.9 184.7L228.2 180.6L227.1 179.2L222.6 176L217.7 174.4L212.4 174.1L207 174.4L204.3 174.7L201.6 174.9L196.1 175.5L192.3 175.8L190.7 175.9L185.5 175.8L180.3 175.3L175.2 174.3L170.3 172.8L165.5 170.7L161.7 168.7L160.7 168.2L156.1 165.5L151.4 162.7L147.6 160.5L146.8 160.1L142.1 157.6L137.4 155.2L132.7 152.6L128.9 150.5L128 150.1L123.4 147.6L118.7 145.1L114.1 142.5L109.4 140Z"/>
<path fill="#f8a818" d="M118 147.6L113.3 145.3L108.6 143L103.9 140.8L99.1 138.7L98.1 142.3L96.6 147.8L95.3 153.4L94.1 159L92.9 164.6L91.9 170.2L90.9 175.9L90.1 181.5L89.3 187.2L88.7 192.9L88.1 198.6L87.7 204.3L87.3 210L87.1 215.7L86.9 221.5L86.9 227.2L86.9 232.9L87.1 238.7L87.3 244.4L87.7 250.1L88.1 255.8L88.7 261.5L89.3 267.2L90.1 272.9L90.9 278.5L91.9 284.2L92.9 289.8L94.1 295.4L95.3 301L96.6 306.6L98.1 312.1L99.6 317.6L101.2 323.1L103 328.6L104.8 334L106.7 339.4L108.7 344.8L110.8 350.1L113 355.4L115.3 360.7L117.6 365.9L118.5 367.6L121.6 364L122.2 363.4L125.9 359.2L129.7 355L130.7 353.8L133.5 350.8L137.3 346.7L139.8 344L141.2 342.5L144.9 338.1L147 335.5L148.5 333.3L151.8 328.2L152 328L155.6 322.9L157.1 321.1L159.5 318.5L163.6 314.8L166 312.9L168 311.5L172.5 308.7L177.1 306.2L181.8 303.9L186.6 302.1L191.6 300.7L196.6 299.7L201.9 299L206.6 299L207.3 299L213 299.7L215 300L219.1 301.1L221.4 301.5L225 302.2L229.4 302.2L230.6 302.2L235.8 301.3L240.6 299.4L244.9 296.4L245.4 295.7L248.3 291.2L248.4 291.1L249.1 287.6L249.9 284L250.5 281.8L250.7 280.6L251.4 277.2L252.4 273.8L252.9 271.9L253.1 270.6L253.2 267.6L253.2 264.6L253.1 261.6L253.1 258.7L253.2 255.7L252.8 252.9L252.3 250.1L251.8 247.2L251.5 244.4L251.2 241.5L251 238.7L250.9 235.8L250.8 232.9L250.7 230.1L250.6 227.2L249.8 224.3L248.9 221.4L247.9 218.4L247.2 216.4L246.8 215.4L245.2 212.3L243.1 209.1L242.7 208.5L240.7 205.8L238.3 202.4L238.3 202.3L235.5 198.8L234 196.5L232.7 195L230.1 191.3L229.8 190.7L227.3 187.3L225.7 184.8L224.2 183.1L221.4 180.6L216.6 178.4L211.5 177.6L206.2 177.6L200.9 177.7L200.7 177.7L195.6 177.9L190.3 178L185.1 177.6L179.9 177L174.9 175.9L169.9 174.4L165.1 172.5L160.3 170.1L155.6 167.5L155 167.2L150.9 164.9L146.2 162.4L141.5 159.8L138.6 158.3L136.8 157.4L132.1 155L127.4 152.6L122.7 150.1L118 147.6Z"/>
<path fill="#f9ae18" d="M127.7 155.6L126.7 155.1L122 152.8L117.3 150.5L112.5 148.3L107.8 146.1L102.9 144.1L98.1 142.3L96.6 147.8L95.3 153.4L94.1 159L92.9 164.6L91.9 170.2L90.9 175.9L90.1 181.5L89.3 187.2L88.7 192.9L88.1 198.6L87.7 204.3L87.3 210L87.1 215.7L86.9 221.5L86.9 227.2L86.9 232.9L87.1 238.7L87.3 244.4L87.7 250.1L88.1 255.8L88.7 261.5L89.3 267.2L90.1 272.9L90.9 278.5L91.9 284.2L92.9 289.8L94.1 295.4L95.3 301L96.6 306.6L98.1 312.1L99.6 317.6L101.2 323.1L103 328.6L104.8 334L106.7 339.4L108.7 344.8L110.8 350.1L113 355.4L115.3 360.7L117.6 365.9L121.5 361.8L125.2 357.6L127.2 355.3L129 353.4L132.8 349.3L136.4 345.4L136.7 345.2L140.5 341L144.1 336.7L144.2 336.5L147.8 331.3L149.1 329.3L151.2 326L153.9 322.2L154.9 321L158.9 316.8L161.4 314.5L163.1 313.1L167.5 310L171.9 307.1L175.9 304.9L176.5 304.6L181.3 302.5L186.1 300.7L191.1 299.3L196.2 298.2L196.6 298.2L201.4 297.6L206.8 297.5L210.5 297.6L212.4 297.9L218.1 298.6L218.6 298.7L224 299.5L227 299.4L229.4 299.4L234.6 298.3L239.3 296.3L243 293.2L243.5 292.8L245.7 288.8L246.7 286.6L247.1 285L248.1 281.4L249.3 278.1L249.4 277.8L250.3 274.4L251.2 271.1L251.5 268L251.6 266.8L251.5 264.9L251.4 262L251.2 259L251.1 256.1L250.5 253.3L250 250.4L249.5 247.5L249 244.6L248.7 241.7L248.5 238.8L248.5 235.9L248.4 233L248.4 230.1L248.2 227.2L247.6 224.3L246.9 221.8L246.8 221.3L245.7 218.3L244.4 215.3L242.9 212.1L242.4 211.4L240.6 208.9L238.2 205.5L237.9 205.1L235.3 201.9L233.4 199.7L232 198.2L229 194.9L228.2 194.3L224.6 190.4L224.3 190.1L220.2 186.2L219.1 185.6L215.5 183.3L210.6 181.8L205.4 181.1L200.2 180.7L195 180.4L189.8 180.1L184.7 179.5L179.6 178.7L174.5 177.6L169.6 176.1L164.7 174.3L163.5 173.7L159.9 172.1L155.1 169.7L150.4 167.2L146.8 165.3L145.7 164.7L140.9 162.3L136.2 160L131.5 157.5Z"/>
<path fill="#fab318" d="M113 151.9L111.7 151.3L106.9 149.4L102 147.6L97.1 146.1L96.6 147.8L95.3 153.4L94.1 159L92.9 164.6L91.9 170.2L90.9 175.9L90.1 181.5L89.3 187.2L88.7 192.9L88.1 198.6L87.7 204.3L87.3 210L87.1 215.7L86.9 221.5L86.9 227.2L86.9 232.9L87.1 238.7L87.3 244.4L87.7 250.1L88.1 255.8L88.7 261.5L89.3 267.2L90.1 272.9L90.9 278.5L91.9 284.2L92.9 289.8L94.1 295.4L95.3 301L96.6 306.6L98.1 312.1L99.6 317.6L101.2 323.1L103 328.6L104.8 334L106.7 339.4L108.7 344.8L110.8 350.1L113 355.4L115.3 360.7L116.9 364.3L120.7 360.2L123.7 356.9L124.5 356L128.3 351.9L132.2 347.8L133 346.9L136.1 343.7L139.9 339.4L141.2 337.8L143.5 334.6L146.4 330.3L147 329.4L150.5 324L151 323.3L154.3 319.3L157.6 315.8L158.3 315.1L162.6 311.6L166.9 308.4L168.9 307.2L171.5 305.6L176.1 303.2L180.9 301.1L185.7 299.4L190.7 297.9L195.7 296.9L200.9 296.2L203 296.1L206.3 296L211.8 296.1L214.4 296.3L217.4 296.7L223 297L223.1 297L228.5 296.8L233.5 295.5L238.1 293.1L240.6 290.7L242.1 289L243.5 286.3L245.3 282.4L245.3 282.3L246.6 278.7L248.1 275.1L248.3 274.6L249 271.7L249.4 268.5L249.4 265.4L249.3 262.4L249.1 259.4L248.8 256.5L248.2 253.6L247.5 250.7L246.9 247.8L246.5 244.9L246.1 242L246 239L245.9 236.1L245.9 233.1L245.9 230.2L245.7 227.2L245.1 224.2L244.2 221.2L243.2 218.2L242.1 215.3L242 215.1L240.3 211.9L238 208.6L237.6 208L235.2 205.1L233 202.5L231.9 201.5L228.5 198.1L227.7 197.5L223.9 194.2L222.3 193.2L219.2 190.8L214.8 188.3L214.5 188.1L209.7 186L204.7 184.7L199.6 183.8L194.5 183L189.4 182.3L184.3 181.4L179.2 180.4L174.2 179.3L169.2 177.8L164.3 176.1L159.4 174.1L154.6 171.9L154.5 171.8L149.8 169.6L145.1 167.3L140.3 164.9L135.9 162.8L135.5 162.6L130.8 160.3L126 158L121.3 155.7L116.5 153.5Z"/>
<path fill="#faba18" d="M122.5 159.7L120.5 158.8L115.7 156.7L110.9 154.7L106 152.9L101.1 151.3L96.1 149.9L95.3 153.4L94.1 159L92.9 164.6L91.9 170.2L90.9 175.9L90.1 181.5L89.3 187.2L88.7 192.9L88.1 198.6L87.7 204.3L87.3 210L87.1 215.7L86.9 221.5L86.9 227.2L86.9 232.9L87.1 238.7L87.3 244.4L87.7 250.1L88.1 255.8L88.7 261.5L89.3 267.2L90.1 272.9L90.9 278.5L91.9 284.2L92.9 289.8L94.1 295.4L95.3 301L96.6 306.6L98.1 312.1L99.6 317.6L101.2 323.1L103 328.6L104.8 334L106.7 339.4L108.7 344.8L110.8 350.1L113 355.4L115.3 360.7L116.2 362.7L120 358.6L120.1 358.5L123.8 354.5L127.7 350.4L129.6 348.3L131.6 346.3L135.4 342.2L138.2 339L139.2 337.8L142.8 332.8L143.8 331.3L146.2 327.3L148.2 324.3L149.8 322.1L153.7 317.5L154.1 317L157.8 313.6L162.1 310.1L163.8 308.8L166.5 307L171 304.3L175.7 301.9L180.4 299.8L185.3 298L190.3 296.6L195.3 295.5L200.5 294.8L205.8 294.5L207.9 294.5L211.3 294.5L216.8 294.8L218.8 294.8L222.3 294.9L227.6 294.3L232.5 292.8L237 290L238.8 287.9L240.8 285.3L241.7 283.5L243.8 279.6L244.2 278.8L245.4 275.8L246.7 272.3L247.1 270.1L247.2 269L247.2 265.9L247 262.9L246.6 259.9L246.2 257L245.5 254.1L244.8 251.1L244.2 248.2L243.7 245.2L243.4 242.2L243.2 239.2L243.1 236.2L243.1 233.2L243.1 230.2L242.9 227.2L242.4 224.2L241.8 221.6L241.7 221.1L240.6 218.1L239.3 214.9L237.6 211.7L237.2 211.2L235.1 208.3L232.7 205.4L232 204.7L228.1 200.9L228 200.9L223.4 197.3L222.4 196.7L218.6 194.2L213.8 191.8L213.6 191.7L209 189.6L204 188L199 186.7L194 185.6L188.9 184.5L183.9 183.4L178.9 182.2L173.8 181L168.9 179.6L167.1 179L163.9 178L159 176.2L154.2 174.2L149.3 172.1L144.5 169.9L143.5 169.5L139.7 167.8L134.9 165.6L130.1 163.3L125.3 161Z"/>
<path fill="#fac218" d="M129.9 166.6L129.4 166.4L124.6 164.2L119.8 162.1L115 160.1L110.1 158.1L105.2 156.4L100.2 155L95.2 153.9L94.1 159L92.9 164.6L91.9 170.2L90.9 175.9L90.1 181.5L89.3 187.2L88.7 192.9L88.1 198.6L87.7 204.3L87.3 210L87.1 215.7L86.9 221.5L86.9 227.2L86.9 232.9L87.1 238.7L87.3 244.4L87.7 250.1L88.1 255.8L88.7 261.5L89.3 267.2L90.1 272.9L90.9 278.5L91.9 284.2L92.9 289.8L94.1 295.4L95.3 301L96.6 306.6L98.1 312.1L99.6 317.6L101.2 323.1L103 328.6L104.8 334L106.7 339.4L108.7 344.8L110.8 350.1L113 355.4L115.3 360.7L115.5 361.2L116.5 360.1L119.3 357.1L123.2 353L126.1 349.8L127 348.9L131 344.9L134.8 340.7L135.2 340.2L138.5 336.1L141.2 332.3L142.1 330.9L145.5 325.3L149.1 320.2L150.9 318.1L153.1 315.9L157.3 312.1L159.5 310.2L161.6 308.7L166.1 305.7L170.6 303L175.3 300.5L175.6 300.4L180 298.5L184.9 296.7L189.8 295.3L194.9 294.2L196.9 293.9L200.1 293.4L205.3 293L210.7 292.9L212.8 292.9L216.2 293L221.6 292.8L226.7 292L231.5 290.1L235.9 286.8L237.3 284.9L239.7 281.8L240.2 280.6L242.4 276.7L243.1 275.2L243.9 273.1L244.5 269.7L244.6 266.5L244.4 263.5L244 260.4L243.4 257.5L242.7 254.5L242 251.5L241.3 248.5L240.9 245.5L240.5 242.5L240.4 239.4L240.3 236.4L240.3 233.3L240.3 230.3L240.1 227.2L239.6 224.1L238.8 221L237.9 217.9L236.9 215.6L236.5 214.7L234.7 211.4L232.3 208.3L232 208L228.4 204.3L227.7 203.6L223.4 200.3L223 199.9L218.2 197L215.2 195.6L213.3 194.6L208.4 192.6L203.5 191L198.5 189.5L193.5 188.1L188.5 186.8L183.5 185.4L178.5 184.1L173.5 182.8L168.5 181.4L163.6 179.9L158.6 178.2L153.7 176.5L153.2 176.3L148.8 174.6L143.9 172.7L139.1 170.6L134.2 168.5Z"/>
<path fill="#fbc918" d="M112.6 162.9L109.3 161.7L104.4 160.1L99.4 158.8L94.3 157.9L94.1 159L92.9 164.6L91.9 170.2L90.9 175.9L90.1 181.5L89.3 187.2L88.7 192.9L88.1 198.6L87.7 204.3L87.3 210L87.1 215.7L86.9 221.5L86.9 227.2L86.9 232.9L87.1 238.7L87.3 244.4L87.7 250.1L88.1 255.8L88.7 261.5L89.3 267.2L90.1 272.9L90.9 278.5L91.9 284.2L92.9 289.8L94.1 295.4L95.3 301L96.6 306.6L98.1 312.1L99.6 317.6L101.2 323.1L103 328.6L104.8 334L106.7 339.4L108.7 344.8L110.8 350.1L113 355.4L114.8 359.6L118.6 355.5L122.5 351.4L122.6 351.3L126.4 347.4L130.3 343.4L132.1 341.5L134.2 339.1L137.9 334.4L138.6 333.3L141.3 328.8L142.9 326.2L144.8 323.3L147.8 319.2L148.5 318.4L152.6 314.3L155.7 311.5L156.8 310.6L161.2 307.3L165.6 304.3L168.8 302.5L170.2 301.7L174.9 299.3L179.7 297.2L184.5 295.5L189.5 294L194.5 292.8L199.6 291.9L204.7 291.5L204.9 291.5L210.2 291.2L215.6 291.1L219 290.9L220.9 290.8L225.9 289.6L230.6 287.3L231.1 287L234.8 283.6L236 281.9L238.6 278.2L238.9 277.7L240.7 273.9L241.6 270.4L241.7 269.8L241.8 267.2L241.5 264.1L241 261L240.4 258L239.7 255L239 251.9L238.4 248.9L238 245.8L237.7 242.7L237.5 239.6L237.4 236.5L237.4 233.4L237.3 230.3L237.2 227.2L236.7 224.1L236.6 223.5L236 220.9L235 217.8L233.6 214.5L232 211.8L231.6 211.2L228.6 207.6L227.4 206.3L224.4 203.8L222.6 202.4L217.8 199.5L213 197.1L208 195.3L203 193.7L202.8 193.6L198.1 192.1L193.1 190.6L188.1 189L183.2 187.5L178.2 186L173.2 184.6L168.2 183.2L163.2 181.8L158.2 180.3L153.3 178.7L148.3 177.1L143.4 175.3L138.5 173.5L138 173.4L133.6 171.6L128.8 169.6L123.9 167.5L119.1 165.5L114.2 163.5Z"/>
<path fill="#fad01a" d="M121.7 170.2L118.4 168.9L113.5 167L108.6 165.3L103.6 163.9L98.6 162.7L93.5 162L92.9 164.6L91.9 170.2L90.9 175.9L90.1 181.5L89.3 187.2L88.7 192.9L88.1 198.6L87.7 204.3L87.3 210L87.1 215.7L86.9 221.5L86.9 227.2L86.9 232.9L87.1 238.7L87.3 244.4L87.7 250.1L88.1 255.8L88.7 261.5L89.3 267.2L90.1 272.9L90.9 278.5L91.9 284.2L92.9 289.8L94.1 295.4L95.3 301L96.6 306.6L98.1 312.1L99.6 317.6L101.2 323.1L103 328.6L104.8 334L106.7 339.4L108.7 344.8L110.8 350.1L113 355.4L114.1 358L118 353.9L118.9 352.9L121.9 349.9L125.8 345.9L128.8 342.8L129.7 341.9L133.5 337.4L135.9 334.3L137.1 332.4L140.3 327.2L140.5 326.8L144 321.2L144.8 320.2L147.9 316.7L152 312.7L152.1 312.6L156.3 309.1L160.7 305.9L163.6 304.1L165.2 303L169.8 300.4L174.5 298.1L179.3 296L184.1 294.2L189.1 292.7L194.1 291.4L199.2 290.4L204.4 289.8L209.6 289.5L211.7 289.4L214.9 289.2L220.2 288.5L225.1 287.1L229.7 284.4L230.5 283.6L233.8 280.1L234.6 278.9L237 274.9L237.4 273.9L238.1 271.3L238.5 268L238.3 264.8L237.8 261.6L237.2 258.6L236.5 255.5L235.9 252.4L235.4 249.2L235 246.1L234.8 243L234.6 239.8L234.5 236.7L234.5 233.5L234.4 230.4L234.2 227.2L233.7 224L233 220.8L232 217.6L231.7 216.7L230.5 214.3L228.4 210.9L227.1 209.3L224.9 207.2L222.3 205L219.6 203.2L217.5 201.9L212.6 199.5L209.3 198.3L207.7 197.7L202.7 196.1L197.7 194.6L192.7 193L187.7 191.3L187.4 191.1L182.8 189.6L177.8 188L172.9 186.5L167.9 185.1L162.9 183.7L157.9 182.4L152.9 181L147.9 179.5L142.9 177.9L138 176.3L133.1 174.5L128.2 172.7L123.3 170.8Z"/>
<path fill="#f8d61d" d="M132.5 177.4L127.6 175.7L122.7 173.9L117.8 172.1L112.8 170.4L107.9 168.9L102.9 167.6L97.8 166.6L92.6 166.1L91.9 170.2L90.9 175.9L90.1 181.5L89.3 187.2L88.7 192.9L88.1 198.6L87.7 204.3L87.3 210L87.1 215.7L86.9 221.5L86.9 227.2L86.9 232.9L87.1 238.7L87.3 244.4L87.7 250.1L88.1 255.8L88.7 261.5L89.3 267.2L90.1 272.9L90.9 278.5L91.9 284.2L92.9 289.8L94.1 295.4L95.3 301L96.6 306.6L98.1 312.1L99.6 317.6L101.2 323.1L103 328.6L104.8 334L106.7 339.4L108.7 344.8L110.8 350.1L113 355.4L113.4 356.3L115.2 354.5L117.3 352.2L121.2 348.3L125.2 344.4L125.4 344.2L129.1 340.2L132.9 335.8L133.2 335.4L136.3 330.3L137.7 328.1L139.7 324.4L141.8 321.3L143.4 319.3L147.4 314.9L148.5 313.8L151.6 311.2L155.9 307.7L159 305.5L160.3 304.6L164.9 301.8L169.5 299.2L174.2 296.9L178.1 295.1L178.9 294.8L183.8 292.9L188.7 291.3L193.7 289.9L198.7 288.9L201.3 288.5L203.9 288.1L209.1 287.5L214.3 287L219.4 286.1L224.2 284.3L228.7 281.1L229.3 280.5L232.7 276.1L232.7 276L234.2 272.3L234.8 268.8L234.8 265.5L234.4 262.3L233.9 259.1L233.3 256L232.9 252.8L232.4 249.6L232.1 246.4L231.9 243.2L231.7 240L231.6 236.8L231.6 236.5L231.5 233.6L231.4 230.6L231.4 230.4L231.1 227.2L230.7 224L230 220.7L228.9 217.4L227.4 214.1L226.7 213.1L224.9 210.6L222 207.7L220.8 206.8L217.2 204.3L213.6 202.5L212.3 201.8L207.3 200L202.3 198.5L197.3 197L195.2 196.3L192.4 195.4L187.4 193.6L182.5 191.7L177.5 189.9L175.4 189.3L172.5 188.4L167.5 187L162.5 185.6L157.5 184.4L152.5 183.1L147.5 181.8L142.5 180.4L137.5 178.9L132.5 177.4Z"/>
<path fill="#f5dd20" d="M112.2 173.8L107.2 172.4L102.2 171.3L97.1 170.5L91.9 170.2L90.9 175.9L90.1 181.5L89.3 187.2L88.7 192.9L88.1 198.6L87.7 204.3L87.3 210L87.1 215.7L86.9 221.5L86.9 227.2L86.9 232.9L87.1 238.7L87.3 244.4L87.7 250.1L88.1 255.8L88.7 261.5L89.3 267.2L90.1 272.9L90.9 278.5L91.9 284.2L92.9 289.8L94.1 295.4L95.3 301L96.6 306.6L98.1 312.1L99.6 317.6L101.2 323.1L103 328.6L104.8 334L106.7 339.4L108.7 344.8L110.8 350.1L112.6 354.5L116.6 350.5L120.6 346.8L121.6 345.7L124.5 342.8L128.5 338.6L130.3 336.5L132.1 333.7L135 329.1L135.5 328.1L138.7 322.3L138.9 322.1L142.7 317.3L144.9 314.9L146.8 313.3L151.1 309.6L154.8 306.7L155.4 306.3L159.9 303.3L164.5 300.5L169.1 298L170.3 297.4L173.8 295.6L178.6 293.4L183.4 291.5L188.3 289.8L193.2 288.4L198.2 287.1L203.3 286.2L208.5 285.4L213.6 284.6L218.6 283.4L223.3 280.9L227.1 277.6L227.5 277L229.6 273.4L230.7 269.7L230.8 268.7L230.9 266.3L230.7 263L230.4 259.8L230 256.5L229.6 253.3L229.3 250L229.1 246.7L228.9 243.5L228.7 240.2L228.6 237L228.5 233.7L228.3 230.5L228.1 227.2L227.6 223.9L226.9 220.6L226.4 219L225.8 217.3L224 213.8L221.7 210.9L221.1 210.2L216.9 206.9L216 206.3L212 204.2L207.1 202.3L203.5 201.2L202 200.8L197 199.4L192 197.8L187.1 195.9L184.4 194.8L182.1 193.9L177.2 192L172.2 190.3L167.2 188.9L162.2 187.6L157.2 186.4L152.2 185.2L147.1 184L142.1 182.7L137.1 181.4L132.1 179.9L127.1 178.4L122.2 176.9L117.2 175.3L112.2 173.8Z"/>
<path fill="#f4e023" d="M130.2 182.1L126.7 181.1L121.7 179.7L116.7 178.3L111.7 176.9L106.7 175.8L101.6 174.8L96.4 174.3L91.2 174.3L90.9 175.9L90.1 181.5L89.3 187.2L88.7 192.9L88.1 198.6L87.7 204.3L87.3 210L87.1 215.7L86.9 221.5L86.9 227.2L86.9 232.9L87.1 238.7L87.3 244.4L87.7 250.1L88.1 255.8L88.7 261.5L89.3 267.2L90.1 272.9L90.9 278.5L91.9 284.2L92.9 289.8L94.1 295.4L95.3 301L96.6 306.6L98.1 312.1L99.6 317.6L101.2 323.1L103 328.6L104.8 334L106.7 339.4L108.7 344.8L110.8 350.1L111.8 352.6L115.8 348.8L117.3 347.5L119.9 345L123.9 341.1L127.2 337.7L127.8 336.9L131.3 331.6L132.2 330.1L134.5 325.3L135.6 323.4L138.1 319.7L141.2 316.2L142.1 315.4L146.3 311.6L150.6 308.1L150.8 308L155 304.9L159.5 301.9L164.1 299.2L164.4 299.1L168.7 296.6L173.4 294.2L178.2 292.1L183 290.2L187.9 288.4L192.8 286.8L197.7 285.4L197.8 285.4L202.8 284.2L207.8 283.1L212.8 281.8L217.5 280.1L217.7 280L222.2 276.8L223.8 274.9L225.9 270.9L226 270.6L226.6 267.2L226.8 263.8L226.7 260.4L226.5 257.1L226.3 253.7L226.1 250.4L226 247.1L225.8 243.8L225.7 240.4L225.6 237.1L225.4 233.8L225.2 230.5L224.9 227.2L224.4 223.9L223.6 220.5L222.4 217.1L221.4 215.3L220.3 213.6L216.9 209.9L216.7 209.7L211.8 206.7L209.1 205.6L206.8 204.7L201.8 203.2L196.7 201.7L191.7 200.2L190.4 199.6L186.8 198.2L181.8 196.2L176.9 194.1L175.2 193.5L171.9 192.4L166.9 190.9L161.9 189.5L156.9 188.3L151.8 187.2L146.8 186.1L141.8 184.9L136.7 183.7L131.7 182.5Z"/>
<path fill="#f2e223" d="M162.4 191.7L161.6 191.5L156.6 190.3L151.5 189.2L146.5 188.1L141.4 187.1L136.4 186L131.3 184.9L126.3 183.7L121.3 182.4L116.2 181.2L111.2 180.1L106.1 179.1L101 178.4L95.8 178.1L90.5 178.5L90.1 181.5L89.3 187.2L88.7 192.9L88.1 198.6L87.7 204.3L87.3 210L87.1 215.7L86.9 221.5L86.9 227.2L86.9 232.9L87.1 238.7L87.3 244.4L87.7 250.1L88.1 255.8L88.7 261.5L89.3 267.2L90.1 272.9L90.9 278.5L91.9 284.2L92.9 289.8L94.1 295.4L95.3 301L96.6 306.6L98.1 312.1L99.6 317.6L101.2 323.1L103 328.6L104.8 334L106.7 339.4L108.7 344.8L110.8 350.1L111 350.6L112.1 349.6L115.1 346.9L119.2 343.2L123.2 339.5L123.6 339L126.9 334.6L129.2 331.2L130.3 328.7L132.2 324.6L133.5 322.3L137.1 317.5L137.3 317.3L141.5 313.5L145.8 309.9L146.6 309.3L150.1 306.6L154.6 303.5L159.1 300.6L159.2 300.5L163.7 297.8L168.4 295.3L173.1 292.9L177.8 290.8L182.6 288.6L187.4 286.7L192.3 284.9L197.2 283.3L202.2 281.9L207.1 280.4L212 278.6L214.9 277.1L216.6 275.9L220 272.2L220.7 270.9L221.7 268.3L222.5 264.6L222.8 261.1L222.9 257.6L222.9 254.2L222.9 253.9L222.8 250.8L222.8 247.4L222.7 244L222.6 240.7L222.5 237.3L222.3 233.9L222 230.6L221.7 227.2L221.2 223.8L221.1 223.5L220.2 220.4L218.7 216.9L216.4 213.3L216.3 213.3L211.5 209.4L206.5 207.2L201.5 205.6L196.9 204.3L196.5 204.2L191.4 202.6L186.5 200.6L181.8 198.6L181.5 198.4L176.6 196.4L171.7 194.5L166.7 192.9Z"/>
<path fill="#f2e225" d="M131.8 187.4L131 187.2L125.9 186.2L120.9 185.1L115.8 184.1L110.7 183.1L105.6 182.4L100.5 181.9L95.2 182L94.2 182.1L89.9 182.8L89.3 187.2L88.7 192.9L88.1 198.6L87.7 204.3L87.3 210L87.1 215.7L86.9 221.5L86.9 227.2L86.9 232.9L87.1 238.7L87.3 244.4L87.7 250.1L88.1 255.8L88.7 261.5L89.3 267.2L90.1 272.9L90.9 278.5L91.9 284.2L92.9 289.8L94.1 295.4L95.3 301L96.6 306.6L98.1 312.1L99.6 317.6L101.2 323.1L103 328.6L104.8 334L106.7 339.4L108.7 344.8L109.9 347.8L114.2 344.8L118.5 341.4L119.2 340.7L122.4 337.1L126.1 332.4L128.6 325.8L128.9 325L132.4 319.1L132.5 319L136.6 315.1L140.9 311.6L142.1 310.6L145.3 308.2L149.7 305L154.2 302L154.4 301.9L158.7 299.1L163.3 296.4L168 293.9L170.2 292.8L172.7 291.4L177.4 289L182.1 286.9L187 284.9L191.8 283.1L193.7 282.4L196.7 281.2L201.5 279.4L206.4 277.4L211.1 274.8L212.1 274L215.4 270.6L216.1 269.5L217.7 265.6L218.5 261.8L218.7 260.6L218.9 258.3L219.1 254.7L219.2 251.2L219.3 247.8L219.3 244.3L219.2 240.9L219.1 237.5L218.9 234L218.7 230.6L218.2 227.2L217.6 223.8L216.6 220.3L216.1 219.1L214.7 216.7L211.4 213L211.2 212.8L206.3 210.1L202.5 208.6L201.3 208.2L196.2 206.7L191.2 205.1L186.6 203.2L186.2 203L181.3 200.8L176.3 198.6L173.9 197.6L171.4 196.6L166.4 194.9L161.4 193.5L156.3 192.3L151.3 191.2L146.2 190.2L141.1 189.2L136 188.2Z"/>
<path fill="#f0e425" d="M164 196.4L161.1 195.6L156.1 194.3L151 193.2L145.9 192.3L140.8 191.3L135.8 190.5L130.7 189.6L125.6 188.7L120.5 187.8L115.4 186.9L110.3 186.2L105.2 185.7L100 185.6L94.7 186.1L89.7 187.3L89.3 187.4L88.7 192.9L88.1 198.6L87.7 204.3L87.3 210L87.1 215.7L86.9 221.5L86.9 227.2L86.9 232.9L87.1 238.7L87.3 244.4L87.7 250.1L88.1 255.8L88.7 261.5L89.3 267.2L90.1 272.9L90.9 278.5L91.9 284.2L92.9 289.8L94.1 295.4L95.3 301L96.6 306.6L98.1 312.1L99.6 317.6L101.2 323.1L103 328.6L104.8 334L106.7 339.4L108.7 344.8L108.7 344.9L109.7 344.4L113.3 342.4L117.5 338.8L121.4 334.7L122.1 333.8L124.4 327.5L124.4 327.2L126.8 320.8L127.4 320.3L131.6 316.3L135.9 312.9L136.7 312.3L140.3 309.7L144.7 306.5L149.2 303.5L149.4 303.3L153.7 300.4L158.3 297.6L162.9 295L163.8 294.5L167.5 292.3L172.2 289.7L176.9 287.3L180.8 285.6L181.7 285.1L186.5 282.8L191.2 280.7L196.1 278.6L200.4 276.8L200.8 276.5L205.5 273.8L209.1 271L210 270L212.2 266.6L213.8 262.7L213.8 262.6L214.6 258.9L215 255.3L215.3 251.7L215.5 248.2L215.6 244.6L215.7 241.1L215.6 237.6L215.5 234.2L215.1 230.7L214.6 227.2L213.8 223.7L212.4 220.1L211 217.7L209.9 216.5L206 213.5L204.1 212.5L201 211.2L196 209.4L190.9 207.6L186 205.5L181 203.2L179.4 202.4L176.1 200.9L171.1 198.8L166.1 197Z"/>
<path fill="#f0e429" d="M141.3 193.6L140.6 193.5L135.5 192.7L130.4 191.9L125.3 191.2L120.1 190.4L115 189.8L109.9 189.4L105.4 189.2L104.7 189.2L99.5 189.5L94.2 190.5L88.7 192.5L88.7 192.9L88.1 198.6L87.7 204.3L87.3 210L87.1 215.7L86.9 221.5L86.9 227.2L86.9 232.9L87.1 238.7L87.3 244.4L87.7 250.1L88.1 255.8L88.7 261.5L89.3 267.2L90.1 272.9L90.9 278.5L91.9 284.2L92.9 289.8L94.1 295.4L95.3 301L96.6 306.6L98.1 312.1L99.6 317.6L101.2 323.1L103 328.6L104.8 334L106.7 339.4L112 338.8L116.4 336L116.5 335.8L118.7 329.2L118.6 326.4L118.4 323.6L121.9 320.2L126.3 316.7L129.2 314.6L130.7 313.7L135.2 310.8L139.7 307.8L144.2 304.8L148.7 301.7L153.3 298.8L157.9 296.1L162.5 293.2L167.1 290.5L171.8 288L172.3 287.7L176.4 285.3L181.1 282.8L185.9 280.5L187.8 279.6L190.6 278.1L195.4 275.6L200.1 272.9L200.2 272.9L204.6 269.1L205.7 267.9L208.3 263.7L208.6 262.8L209.5 259.7L210.3 256L210.8 252.3L211.2 248.6L211.5 245L211.5 244.9L211.6 241.4L211.7 237.9L211.6 234.3L211.3 230.8L210.7 227.3L210.7 227.2L209.6 223.6L207.6 220L205.8 218L203.5 216.1L200.8 214.6L195.8 212.3L194.5 211.8L190.7 210.3L185.7 208.1L183.4 206.9L180.8 205.7L175.8 203.3L172.3 201.7L170.8 201.1L165.9 199.2L160.9 197.7L155.8 196.4L150.7 195.3L145.7 194.3Z"/>
<path fill="#f1e52e" d="M163.7 200.8L160.6 199.8L155.6 198.5L150.5 197.4L145.4 196.4L140.3 195.7L135.2 195L130.1 194.4L124.9 193.8L119.8 193.3L114.7 192.9L109.5 192.7L104.3 193L99 193.7L98.2 193.9L93.6 195.6L88.1 198.6L87.7 204.3L87.3 210L87.1 215.7L86.9 221.5L86.9 227.2L86.9 232.9L87.1 238.7L87.3 244.4L87.7 250.1L88.1 255.8L88.7 261.5L89.3 267.2L90.1 272.9L90.9 278.5L91.9 284.2L92.9 289.8L94.1 295.4L95.3 301L96.6 306.6L98.1 312.1L103.2 316.6L105 317.7L110.6 318.6L115.7 317.6L120.6 315.9L125.4 313.8L130 311.3L134.6 308.7L137.9 306.7L139.2 305.9L143.7 302.8L148.2 299.9L151.9 297.7L152.8 297.1L157.4 294.1L162 291.3L165.1 289.5L166.6 288.5L171.2 285.6L175.9 283L177.8 282L180.5 280.3L185.2 277.6L189.9 275.1L189.9 275L194.6 271.8L197.7 269.4L199.1 268L201.6 264.8L203.2 261.6L203.6 260.7L204.5 256.8L205.1 253L205.6 249.2L206.2 245.5L206.3 244.6L206.6 241.8L206.9 238.1L207 234.5L206.8 230.8L206.1 227.2L205.6 225.7L204.6 223.5L201.7 219.7L200.6 218.9L195.6 215.7L195.5 215.7L190.5 213.3L186.6 211.2L185.5 210.7L180.5 208.2L176.9 206.4L175.6 205.7L170.6 203.4L165.6 201.4Z"/>
<path fill="#f2e633" d="M149.1 199.3L145.2 198.6L140.1 197.9L134.9 197.3L129.8 196.8L124.6 196.4L119.5 196.1L119 196.1L114.3 196.1L109.1 196.4L103.8 197.2L98.5 198.8L97 199.4L93.1 202.1L90.2 204.5L87.5 207.9L87.3 210L87.1 215.7L86.9 221.5L86.9 227.2L86.9 232.9L87.1 238.7L87.3 244.4L87.7 250.1L88.1 255.8L88.7 261.5L89.3 267.2L90.1 272.9L90.9 278.5L91.9 284.2L92.9 289.8L94.1 295.4L95.3 301L96 303.9L97.8 306.3L102.1 311L103.4 312L109.3 314L112.5 313.9L114.6 313.9L119.7 312.8L124.6 311.1L128.2 309.4L129.3 308.9L134 306.4L138.6 303.6L143.1 300.8L145.4 299.4L147.7 297.9L152.2 294.8L156.8 292L158.2 291.2L161.4 289L166 286L169.5 283.9L170.6 283L175.2 279.9L179.6 277.2L179.8 277.1L184.4 273.8L188.2 271.3L189 270.5L193.5 266.3L196 261.9L197.3 257.8L197.3 257.4L197.8 253.9L198.3 250L199.1 246.1L200.3 242.2L200.8 240.5L201.3 238.4L201.8 234.6L201.8 230.9L201 227.2L200.4 226L199 223.4L195.4 219.9L195 219.5L190.3 216.6L188.5 215.3L185.3 213.6L180.3 210.8L175.4 208.2L170.4 205.8L165.4 203.8L160.4 202L155.3 200.6L150.3 199.5Z"/>
<path fill="#f2e639" d="M162.4 205.1L160.2 204.3L155.1 202.9L150 201.7L144.9 200.9L139.8 200.2L134.7 199.8L129.5 199.5L124.4 199.3L119.2 199.3L114 199.7L108.7 200.4L103.4 202.3L98.5 205.1L98 205.6L93.8 210.4L92.4 212.9L90.8 215.9L88.6 221.5L86.9 227.2L86.9 232.9L87.1 238.7L87.3 244.4L87.7 250.1L88.1 255.8L88.7 261.5L89.3 267.2L90.1 272.9L90.9 278.5L91.9 284.2L92.9 289.8L94.1 295.4L94.1 295.5L97.4 300.5L101.1 305.5L101.9 306.2L107.3 309.6L108.2 310L113.7 310.5L118.8 309.8L123.8 308.3L128.6 306.4L133.3 304L137.9 301.4L142.5 298.3L147 295.4L150.8 293.1L151.6 292.5L156.2 289.3L160.7 286.3L161.6 285.7L165.3 282.8L169.8 279.6L170.4 279.2L174.3 275.9L177.9 273.3L178.9 272.3L183.4 268.2L183.6 268L186.9 263.3L187.5 261.6L188.4 259.1L189.1 254.9L189.7 250.9L190.9 246.8L193 242.7L194.8 238.7L195.5 236.8L196 234.8L196.3 231L195.5 227.2L195.3 226.7L193.2 223.3L190.2 220.6L188.8 219.3L185.2 216.9L182.5 215L180.2 213.7L175.2 210.8L174.3 210.4L170.2 208.3L165.2 206.1Z"/>
<path fill="#f3e73e" d="M149.8 204L144.7 203.2L139.6 202.6L134.4 202.3L129.3 202.2L124.1 202.4L118.9 202.9L113.6 203.9L108.3 205.7L108.1 205.7L102.9 209.6L101.7 210.8L98.3 216.1L97.3 218.8L96.3 221.6L94.7 227.2L93.1 232.8L92.2 236.4L91.6 238.5L90.1 244.2L89 250L88.1 255.8L88.7 261.5L89.3 267.2L90.1 272.9L90.9 278.5L91.9 284.2L94.5 289.5L97.5 294.7L100.1 298.9L100.8 299.7L105.6 304.3L106.9 305.1L112.7 306.8L118 306.8L123 305.6L124.3 305.1L127.9 303.7L132.5 301.1L137.2 298.4L141.8 295.6L142.4 295.2L146.3 292.3L150.8 289.2L153.2 287.6L155.4 285.9L159.9 282.4L161.7 281L164.3 278.5L168.2 275.2L168.8 274.5L173.2 269.8L176.8 264.9L177.4 263.7L179 260.4L180.3 256L181.2 253.1L181.6 251.7L183.4 247.5L185.5 243.8L185.9 243.2L188.4 239.1L190.1 235.1L190.2 234.4L190.8 231.1L190.1 227.2L187.7 223.2L185 220.8L183.3 219.1L180 216.8L176.9 214.7L175 213.6L170 210.9L167.9 209.9L165 208.6L160 206.8L154.9 205.2L149.8 204Z"/>
<path fill="#f4e843" d="M160 209.4L159.8 209.3L154.7 207.8L149.6 206.6L144.5 205.8L139.4 205.4L134.2 205.3L129 205.4L123.8 206L120.2 206.6L118.5 207L113.2 209.2L110 211.2L107.9 213.4L105.5 216.4L103 221.8L102.4 223.7L101.3 227.2L99.8 232.7L98.4 238.3L97.6 241.6L97 243.9L95.7 249.5L94.6 255.2L93.8 260.4L93.7 261L93.4 266.7L93.6 272.4L94.6 277.9L96.2 283.4L97.6 286.9L98.5 288.7L101.6 293.8L105.3 298.7L105.4 298.7L111.5 302.3L112.8 302.5L117 302.7L122.1 301.8L126.9 300.1L131.4 297.9L131.7 297.8L136.2 294.6L140.8 291.5L143 290L145.3 288.1L149.8 284.6L151.8 283.1L154.3 280.9L158.5 277.1L158.7 276.8L163.1 272.1L163.6 271.5L167.4 266.6L167.5 266.4L170.3 261.6L171.5 259L172.4 257L174.3 252.5L175.7 249.9L176.6 248.1L179.5 243.7L180.3 242.6L182.5 239.4L184.6 235.2L185 233.5L185.6 231.2L185 227.2L184.9 227.1L182.6 223.1L179.9 220.6L178 218.9L174.8 216.8L171.1 214.4L169.8 213.7L164.8 211.3Z"/>
<path fill="#f4e94c" d="M164.5 214.1L159.6 212.1L154.5 210.5L149.4 209.3L144.3 208.5L139.1 208.2L134 208.4L128.8 209L123.5 210.2L119.4 211.7L118.2 212.4L112.9 216.6L109.6 221.9L107.5 227.2L106 232.6L104.6 238L103.4 243.5L103 245.9L102.3 249.1L101.3 254.6L100.5 260.3L99.9 265.9L99.9 268.1L99.9 271.5L100.5 277L101.8 282.4L102.3 283.7L104.1 287.6L107.5 292.6L109.8 294.7L113.8 296.7L115.6 297.2L120.8 296.7L125.7 295L129.2 293.2L130.4 292.4L134.9 288.7L138.5 286L139.4 285.2L143.8 281.3L146 279.5L148.4 277.5L152.9 273.4L157.4 269L158.4 267.8L161.8 263.7L162.4 262.7L165.3 257.9L166 256.6L167.8 253.2L170.4 248.6L173.6 244.1L175.1 242L176.8 239.7L179.3 235.4L179.9 233.5L180.5 231.3L180.1 227.2L179.8 226.7L177.5 223.1L174.7 220.5L172.6 218.7L169.7 216.9L164.6 214.1Z"/>
<path fill="#f6ea59" d="M154.7 213.6L154.3 213.5L149.2 212.4L144.1 211.8L138.9 211.7L133.7 212.1L132 212.4L128.5 213.3L123.3 215.5L121 216.9L118 220L116.4 222L113.8 227.2L112.7 230.3L112 232.5L110.8 237.8L109.9 243.2L109.2 248.6L108.7 254L108.5 259.4L108.7 264.8L109.2 270.2L110.4 275.4L112.2 280.6L117.3 285.1L118.4 285.5L123.4 284.1L123.7 283.8L127.9 280.5L132.5 277L137.3 274.3L142.1 271.7L145 270L146.9 269L151.6 265.6L153.3 264L156.2 261.2L158.1 258.7L160.7 255.2L161.5 253.8L164.5 249.1L165.2 248.2L167.8 244.5L169.9 241.7L171.1 240L173.9 235.6L174.7 233.5L175.4 231.4L175 227.2L174.6 226.6L172.1 223L169.5 220.8L166.3 218.5L164.5 217.5L159.4 215.3Z"/>
<path fill="#f6eb65" d="M157.6 218.2L154.2 217.1L149.1 215.9L143.9 215.5L138.7 215.7L133.5 216.6L131.4 217.3L128.3 218.8L123.9 222.1L123.1 223.1L120.4 227.2L118.4 232.4L118 234.3L117.2 237.6L116.7 242.8L116.7 248.1L117.4 253.2L119.1 258.3L119.6 259.2L123.4 263L125.4 264L130.7 264.9L135.8 264.5L140.9 263.3L145.8 261.3L147.8 260L150.6 258.2L154.1 254.6L155.3 253.4L158.1 249.7L159.9 247.4L161.8 244.9L164.7 241.1L165.3 240.3L168.2 235.8L169.5 232.5L169.9 231.5L169.5 227.2L169.4 227.2L165.8 222.9L164.4 221.8L159.3 218.9Z"/>
<path fill="#f8ed72" d="M156.7 222.7L154 221.6L148.9 220.4L143.8 220.1L138.6 220.8L134.1 222.3L133.4 222.7L128.2 227.2L125.7 232.2L124.6 237.3L124.6 242.4L125.9 247.4L129.3 252.2L134.7 254.6L139.9 254.8L144.9 253.4L149.8 250.4L154.6 245.6L154.8 245.4L158.6 240.6L159.4 239.5L161.6 236L163.3 231.6L162.3 227.2L159.2 224.3Z"/>
<path fill="#f8ee7e" d="M148.8 227.2L143.7 227.1L143.2 227.2L138.5 229.7L136.3 232.1L135 237L137.1 241.8L139 243L144.1 243.2L147.9 241.2L149.1 240.3L152.2 236.4L153.7 231.8L148.8 227.2Z"/>
</g>
<g>
<path d="M173.8 84.4L175.1 85.8L175.1 88L172.5 88L172.5 85.8Z" class="mk"/>
<path d="M140.2 151.4L142.5 151.4L144.2 153.2L142.5 155.1L140.2 155.1Z" class="mk"/>
<path d="M123.5 224.4L125 226.1L125 228.7L122 228.7L122 226.1Z" class="mk"/>
<path d="M222.9 224.4L224.6 226.1L224.6 228.7L221.2 228.7L221.2 226.1Z" class="mk"/>
<path d="M140.2 299.2L142.9 299.2L144.5 300.8L142.9 302.5L140.2 302.5Z" class="mk"/>
<path d="M174 365.2L175.4 366.8L175.4 369.6L172.6 369.6L172.6 366.8Z" class="mk"/>
<circle cx="169.4" cy="227.3" r="1.8" fill="#0a0a0a"/>
</g>
<g>
<path d="M248.7 108.6A204.3 204.3 0 0 0 247.7 344.4" class="gs"/>
<path d="M215.1 84.6A245.6 245.6 0 0 0 213.9 368" class="gs"/>
<path d="M181.5 60.6A286.8 286.8 0 0 0 180 391.7" class="gs"/>
<path d="M265.5 120.6A183.6 183.6 0 0 0 264.6 332.5" class="gd"/>
<path d="M231.9 96.6A224.9 224.9 0 0 0 230.8 356.2" class="gd"/>
<path d="M198.3 72.6A266.2 266.2 0 0 0 197 379.9" class="gd"/>
<path d="M164.7 48.7A307.5 307.5 0 0 0 163.1 403.6" class="gd"/>
<path d="M130.9 63.2L273.8 145.7" class="gs"/>
<path d="M106.7 115L261.8 171.5" class="gs"/>
<path d="M91.9 170.2L254.5 198.9" class="gs"/>
<path d="M86.9 227.5L252 227.5" class="gs"/>
<path d="M91.9 284.2L254.5 255.5" class="gs"/>
<path d="M106.7 339.4L261.8 282.9" class="gs"/>
<path d="M130.9 391.2L273.8 308.7" class="gs"/>
</g>
<g>
<path d="M147.9 36.7A328.1 328.1 0 0 0 146.2 415.4" class="ar" transform="translate(0 -0.6)"/>
<path d="M147.9 36.7L282.3 132.5" class="ed"/>
<path d="M282.3 132.5L287.8 124.8" class="ax"/>
<path d="M265.5 120.6L268.1 116.9" class="ax"/>
<path d="M248.7 108.6L254.2 100.8" class="ax"/>
<path d="M231.9 96.6L234.5 92.9" class="ax"/>
<path d="M215.1 84.6L220.6 76.9" class="ax"/>
<path d="M198.3 72.6L200.9 69" class="ax"/>
<path d="M181.5 60.6L187 52.9" class="ax"/>
<path d="M164.7 48.7L167.3 45" class="ax"/>
<path d="M147.9 36.7L153.4 28.9" class="ax"/>
<path d="M98.1 142.3L101.5 143.2" class="ax2"/>
<path d="M98.1 312.1L101.5 311.2" class="ax2"/>
<path d="M117.6 365.9L120.8 364.4" class="ax2"/>
</g>
<g>
<text class="n" text-anchor="middle" transform="translate(164.7 12.3) rotate(-54.8)" y="7.9">80</text>
<text class="n" text-anchor="middle" transform="translate(198.3 36.2) rotate(-54.8)" y="7.9">70</text>
<text class="n" text-anchor="middle" transform="translate(231.9 60.2) rotate(-54.8)" y="7.9">60</text>
<text class="n" text-anchor="middle" transform="translate(265.5 84.2) rotate(-54.8)" y="7.9">50</text>
<text class="n" text-anchor="middle" transform="translate(299.1 108.1) rotate(-54.8)" y="7.9">40</text>
<text class="n" text-anchor="middle" x="109" y="50.6">60</text>
<text class="n" text-anchor="middle" x="83.7" y="117.9">70</text>
<text class="n" text-anchor="middle" x="68" y="175.9">80</text>
<text class="n" text-anchor="middle" x="62.4" y="234.4">90</text>
<text class="n" text-anchor="middle" x="63.5" y="294.3">100</text>
<text class="n" text-anchor="middle" x="77.2" y="352.4">110</text>
<text class="n" text-anchor="middle" x="103.2" y="418.4">120</text>
</g>
<g>
<path class="bl" d="M312.6 81.2L236 24.2"/>
<path fill="#3553b0" d="M229 19L242.3 22.6L238.6 26.2L236.2 31.2Z"/>
<text class="g" transform="translate(284.1 36) scale(1.2 1.08)" stroke="#3553b0" stroke-width="0.35">θ</text>
<path class="bl" d="M39.2 136Q31.5 176 29.6 210"/>
<path fill="#3553b0" d="M29.5 220.5L25.4 206.5L29.7 208.8L34 206.7Z"/>
<text class="g" x="2.5" y="183" stroke="#3553b0" stroke-width="0.35">φ</text>
</g>
<g>
<text class="t" x="447.6" y="45.7">Gain (dB)</text>
<g clip-path="url(#cbc)">
<rect x="463.8" y="80.8" width="29.8" height="292.8" fill="#000"/>
<rect x="463.8" y="80.8" width="29.8" height="286.80" fill="#190606"/>
<rect x="463.8" y="80.8" width="29.8" height="283.28" fill="#280908"/>
<rect x="463.8" y="80.8" width="29.8" height="279.77" fill="#360c0a"/>
<rect x="463.8" y="80.8" width="29.8" height="276.25" fill="#440e0d"/>
<rect x="463.8" y="80.8" width="29.8" height="272.74" fill="#53110f"/>
<rect x="463.8" y="80.8" width="29.8" height="269.22" fill="#601311"/>
<rect x="463.8" y="80.8" width="29.8" height="265.70" fill="#6c1412"/>
<rect x="463.8" y="80.8" width="29.8" height="262.19" fill="#781613"/>
<rect x="463.8" y="80.8" width="29.8" height="258.67" fill="#841714"/>
<rect x="463.8" y="80.8" width="29.8" height="255.15" fill="#901815"/>
<rect x="463.8" y="80.8" width="29.8" height="251.64" fill="#9b1a17"/>
<rect x="463.8" y="80.8" width="29.8" height="248.12" fill="#a41b18"/>
<rect x="463.8" y="80.8" width="29.8" height="244.61" fill="#ac1c19"/>
<rect x="463.8" y="80.8" width="29.8" height="241.09" fill="#b61e1a"/>
<rect x="463.8" y="80.8" width="29.8" height="237.57" fill="#be1f1b"/>
<rect x="463.8" y="80.8" width="29.8" height="234.06" fill="#c6211d"/>
<rect x="463.8" y="80.8" width="29.8" height="230.54" fill="#cb221e"/>
<rect x="463.8" y="80.8" width="29.8" height="227.02" fill="#d1231e"/>
<rect x="463.8" y="80.8" width="29.8" height="223.51" fill="#d72420"/>
<rect x="463.8" y="80.8" width="29.8" height="219.99" fill="#dc2520"/>
<rect x="463.8" y="80.8" width="29.8" height="216.48" fill="#e02821"/>
<rect x="463.8" y="80.8" width="29.8" height="212.96" fill="#e12c21"/>
<rect x="463.8" y="80.8" width="29.8" height="209.44" fill="#e23020"/>
<rect x="463.8" y="80.8" width="29.8" height="205.93" fill="#e43420"/>
<rect x="463.8" y="80.8" width="29.8" height="202.41" fill="#e53820"/>
<rect x="463.8" y="80.8" width="29.8" height="198.89" fill="#e63c1f"/>
<rect x="463.8" y="80.8" width="29.8" height="195.38" fill="#e7401f"/>
<rect x="463.8" y="80.8" width="29.8" height="191.86" fill="#e9441f"/>
<rect x="463.8" y="80.8" width="29.8" height="188.34" fill="#ea481e"/>
<rect x="463.8" y="80.8" width="29.8" height="184.83" fill="#eb4c1e"/>
<rect x="463.8" y="80.8" width="29.8" height="181.31" fill="#ec501e"/>
<rect x="463.8" y="80.8" width="29.8" height="177.80" fill="#ed551e"/>
<rect x="463.8" y="80.8" width="29.8" height="174.28" fill="#ee5a1d"/>
<rect x="463.8" y="80.8" width="29.8" height="170.76" fill="#ef5e1d"/>
<rect x="463.8" y="80.8" width="29.8" height="167.25" fill="#f0631d"/>
<rect x="463.8" y="80.8" width="29.8" height="163.73" fill="#f0681c"/>
<rect x="463.8" y="80.8" width="29.8" height="160.21" fill="#f16d1c"/>
<rect x="463.8" y="80.8" width="29.8" height="156.70" fill="#f2711c"/>
<rect x="463.8" y="80.8" width="29.8" height="153.18" fill="#f3761b"/>
<rect x="463.8" y="80.8" width="29.8" height="149.67" fill="#f47b1b"/>
<rect x="463.8" y="80.8" width="29.8" height="146.15" fill="#f4801b"/>
<rect x="463.8" y="80.8" width="29.8" height="142.63" fill="#f5861a"/>
<rect x="463.8" y="80.8" width="29.8" height="139.12" fill="#f68c1a"/>
<rect x="463.8" y="80.8" width="29.8" height="135.60" fill="#f6921a"/>
<rect x="463.8" y="80.8" width="29.8" height="132.09" fill="#f79819"/>
<rect x="463.8" y="80.8" width="29.8" height="128.57" fill="#f79e19"/>
<rect x="463.8" y="80.8" width="29.8" height="125.05" fill="#f8a319"/>
<rect x="463.8" y="80.8" width="29.8" height="121.54" fill="#f8a818"/>
<rect x="463.8" y="80.8" width="29.8" height="118.02" fill="#f9ae18"/>
<rect x="463.8" y="80.8" width="29.8" height="114.50" fill="#fab318"/>
<rect x="463.8" y="80.8" width="29.8" height="110.99" fill="#faba18"/>
<rect x="463.8" y="80.8" width="29.8" height="107.47" fill="#fac218"/>
<rect x="463.8" y="80.8" width="29.8" height="103.96" fill="#fbc918"/>
<rect x="463.8" y="80.8" width="29.8" height="100.44" fill="#fad01a"/>
<rect x="463.8" y="80.8" width="29.8" height="96.92" fill="#f8d61d"/>
<rect x="463.8" y="80.8" width="29.8" height="93.41" fill="#f5dd20"/>
<rect x="463.8" y="80.8" width="29.8" height="89.89" fill="#f4e023"/>
<rect x="463.8" y="80.8" width="29.8" height="86.37" fill="#f2e223"/>
<rect x="463.8" y="80.8" width="29.8" height="82.86" fill="#f2e225"/>
<rect x="463.8" y="80.8" width="29.8" height="79.34" fill="#f0e425"/>
<rect x="463.8" y="80.8" width="29.8" height="75.83" fill="#f0e429"/>
<rect x="463.8" y="80.8" width="29.8" height="72.31" fill="#f1e52e"/>
<rect x="463.8" y="80.8" width="29.8" height="68.79" fill="#f2e633"/>
<rect x="463.8" y="80.8" width="29.8" height="65.28" fill="#f2e639"/>
<rect x="463.8" y="80.8" width="29.8" height="61.76" fill="#f3e73e"/>
<rect x="463.8" y="80.8" width="29.8" height="58.24" fill="#f4e843"/>
<rect x="463.8" y="80.8" width="29.8" height="54.73" fill="#f4e94c"/>
<rect x="463.8" y="80.8" width="29.8" height="51.21" fill="#f6ea59"/>
<rect x="463.8" y="80.8" width="29.8" height="47.69" fill="#f6eb65"/>
<rect x="463.8" y="80.8" width="29.8" height="44.18" fill="#f8ed72"/>
<rect x="463.8" y="80.8" width="29.8" height="40.66" fill="#f8ee7e"/>
<rect x="463.8" y="80.8" width="29.8" height="37.15" fill="#faef8b"/>
<rect x="463.8" y="80.8" width="29.8" height="33.63" fill="#faf19a"/>
<rect x="463.8" y="80.8" width="29.8" height="30.11" fill="#fbf3ab"/>
<rect x="463.8" y="80.8" width="29.8" height="26.60" fill="#fcf5bd"/>
<rect x="463.8" y="80.8" width="29.8" height="23.08" fill="#fdf7ce"/>
<rect x="463.8" y="80.8" width="29.8" height="19.56" fill="#fdf9df"/>
<rect x="463.8" y="80.8" width="29.8" height="16.05" fill="#fefcf0"/>
<rect x="463.8" y="80.8" width="29.8" height="12.53" fill="#ffffff"/>
<rect x="463.8" y="80.8" width="29.8" height="9.02" fill="#ffffff"/>
<rect x="463.8" y="367.6" width="29.8" height="6" fill="#000"/>
<rect x="463.8" y="80.8" width="29.8" height="5.5" fill="#fff"/>
</g>
<rect x="463.8" y="80.8" width="29.8" height="292.8" rx="1.2" fill="none" stroke="#3a3a3a" stroke-width="1.3"/>
<path d="M493.6 367.6L504 367.6" class="ax"/>
<text class="n" x="509.6" y="375.5">11</text>
<path d="M493.6 297.3L504 297.3" class="ax"/>
<text class="n" x="509.6" y="305.2">12</text>
<path d="M493.6 227L504 227" class="ax"/>
<text class="n" x="509.6" y="234.9">13</text>
<path d="M493.6 156.6L504 156.6" class="ax"/>
<text class="n" x="509.6" y="164.5">14</text>
<path d="M493.6 86.3L504 86.3" class="ax"/>
<text class="n" x="509.6" y="94.2">15</text>
</g>
</svg>
</body></html>
